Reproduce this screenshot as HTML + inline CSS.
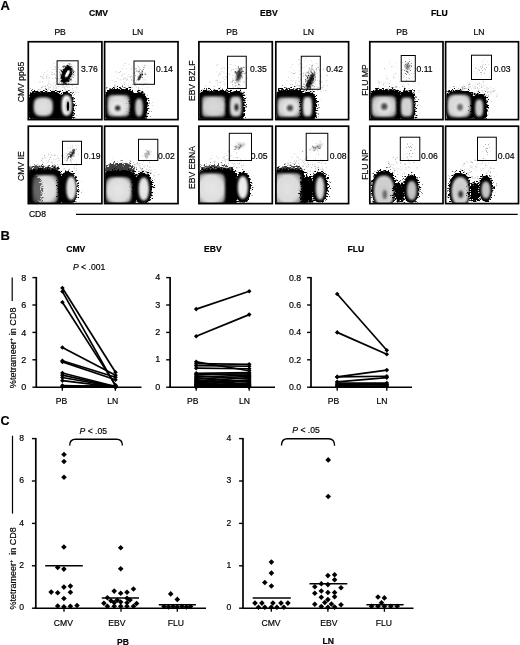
<!DOCTYPE html>
<html><head><meta charset="utf-8"><style>
html,body{margin:0;padding:0;background:#fff;}
body{width:520px;height:645px;overflow:hidden;}
svg{display:block;will-change:transform;}
text{font-family:"Liberation Sans",sans-serif;fill:#000;stroke:#000;stroke-width:0.18px;}
</style></head><body>
<svg width="520" height="645" viewBox="0 0 520 645" font-family="Liberation Sans, sans-serif">
<defs>
<filter id="sp" x="-40%" y="-40%" width="180%" height="180%" color-interpolation-filters="sRGB"><feGaussianBlur in="SourceAlpha" stdDeviation="2.4" result="b"/><feTurbulence type="fractalNoise" baseFrequency="0.5 1.2" numOctaves="2" seed="2" result="n"/><feColorMatrix in="n" type="matrix" values="0 0 0 0 0  0 0 0 0 0  0 0 0 0 0  2 0 0 0 -0.5" result="na"/><feComposite in="b" in2="na" operator="arithmetic" k1="0" k2="5" k3="-4" k4="0" result="c"/><feGaussianBlur in="c" stdDeviation="0.3" result="c2"/><feFlood flood-color="#000"/><feComposite in2="c2" operator="in"/></filter>
<filter id="cl" x="-40%" y="-40%" width="180%" height="180%" color-interpolation-filters="sRGB"><feGaussianBlur in="SourceAlpha" stdDeviation="5" result="b"/><feTurbulence type="fractalNoise" baseFrequency="0.8" numOctaves="2" seed="9" result="n"/><feColorMatrix in="n" type="matrix" values="0 0 0 0 0  0 0 0 0 0  0 0 0 0 0  2.5 0 0 0 -0.55" result="na"/><feComposite in="b" in2="na" operator="arithmetic" k1="0" k2="2.2" k3="-2.6" k4="0" result="c"/><feFlood flood-color="#555"/><feComposite in2="c" operator="in"/></filter>
<filter id="sp2" x="-40%" y="-40%" width="180%" height="180%" color-interpolation-filters="sRGB"><feGaussianBlur in="SourceAlpha" stdDeviation="1.3" result="b"/><feTurbulence type="fractalNoise" baseFrequency="0.9" numOctaves="2" seed="5" result="n"/><feColorMatrix in="n" type="matrix" values="0 0 0 0 0  0 0 0 0 0  0 0 0 0 0  2.5 0 0 0 -0.75" result="na"/><feComposite in="b" in2="na" operator="arithmetic" k1="0" k2="8" k3="-8" k4="0" result="c"/><feFlood flood-color="#000"/><feComposite in2="c" operator="in"/></filter>
<filter id="spd" x="-60%" y="-60%" width="220%" height="220%" color-interpolation-filters="sRGB"><feGaussianBlur in="SourceAlpha" stdDeviation="1.6" result="b"/><feTurbulence type="fractalNoise" baseFrequency="0.95" numOctaves="2" seed="11" result="n"/><feColorMatrix in="n" type="matrix" values="0 0 0 0 0  0 0 0 0 0  0 0 0 0 0  2.5 0 0 0 -0.75" result="na"/><feComposite in="b" in2="na" operator="arithmetic" k1="0" k2="7" k3="-8" k4="0" result="c"/><feFlood flood-color="#000"/><feComposite in2="c" operator="in"/></filter>
<filter id="spm" x="-60%" y="-60%" width="220%" height="220%" color-interpolation-filters="sRGB"><feGaussianBlur in="SourceAlpha" stdDeviation="1.8" result="b"/><feTurbulence type="fractalNoise" baseFrequency="0.95" numOctaves="2" seed="12" result="n"/><feColorMatrix in="n" type="matrix" values="0 0 0 0 0  0 0 0 0 0  0 0 0 0 0  2.5 0 0 0 -0.75" result="na"/><feComposite in="b" in2="na" operator="arithmetic" k1="0" k2="4.5" k3="-8" k4="0" result="c"/><feFlood flood-color="#000"/><feComposite in2="c" operator="in"/></filter>
<filter id="sps" x="-60%" y="-60%" width="220%" height="220%" color-interpolation-filters="sRGB"><feGaussianBlur in="SourceAlpha" stdDeviation="2.0" result="b"/><feTurbulence type="fractalNoise" baseFrequency="0.95" numOctaves="2" seed="13" result="n"/><feColorMatrix in="n" type="matrix" values="0 0 0 0 0  0 0 0 0 0  0 0 0 0 0  2.5 0 0 0 -0.75" result="na"/><feComposite in="b" in2="na" operator="arithmetic" k1="0" k2="2.8" k3="-8" k4="0" result="c"/><feFlood flood-color="#000"/><feComposite in2="c" operator="in"/></filter>
<filter id="bl1" x="-30%" y="-30%" width="160%" height="160%"><feGaussianBlur stdDeviation="0.5"/></filter>
<filter id="bl" x="-30%" y="-30%" width="160%" height="160%"><feGaussianBlur stdDeviation="0.95"/></filter>
<filter id="bl2" x="-50%" y="-50%" width="200%" height="200%"><feGaussianBlur stdDeviation="1.1"/></filter>
</defs>
<clipPath id="cCMV00"><rect x="29.1" y="42.55" width="72" height="76.25"/></clipPath>
<g clip-path="url(#cCMV00)">
<rect x="54.68" y="86.81" width="0.6" height="0.6" fill="#a8a8a8"/><rect x="49.57" y="86.48" width="0.7" height="0.7" fill="#d6d6d6"/><rect x="52.39" y="78.43" width="0.7" height="0.7" fill="#939393"/><rect x="57.84" y="77.95" width="0.9" height="0.9" fill="#c7c7c7"/><rect x="51.91" y="69.45" width="0.6" height="0.6" fill="#ababab"/><rect x="42.69" y="76.67" width="0.8" height="0.8" fill="#959595"/><rect x="50.97" y="72.51" width="0.6" height="0.6" fill="#c6c6c6"/><rect x="72.96" y="90.34" width="0.6" height="0.6" fill="#949494"/><rect x="62.88" y="76.81" width="0.7" height="0.7" fill="#b0b0b0"/><rect x="57.85" y="66.99" width="0.7" height="0.7" fill="#afafaf"/><rect x="72.05" y="87.92" width="0.8" height="0.8" fill="#c1c1c1"/><rect x="66.04" y="73.41" width="0.7" height="0.7" fill="#969696"/><rect x="42.66" y="81.76" width="0.7" height="0.7" fill="#d7d7d7"/><rect x="54.43" y="73.08" width="0.6" height="0.6" fill="#9c9c9c"/><rect x="56.09" y="88.13" width="0.9" height="0.9" fill="#d3d3d3"/><rect x="53.52" y="73.82" width="0.6" height="0.6" fill="#bfbfbf"/><rect x="44.39" y="91.54" width="0.8" height="0.8" fill="#9a9a9a"/><rect x="59.61" y="90.47" width="0.7" height="0.7" fill="#959595"/><rect x="63.02" y="66.46" width="0.8" height="0.8" fill="#b8b8b8"/><rect x="45.8" y="78.25" width="0.7" height="0.7" fill="#a8a8a8"/><rect x="45.98" y="77.53" width="0.6" height="0.6" fill="#8f8f8f"/><rect x="70.77" y="76.17" width="0.9" height="0.9" fill="#b8b8b8"/><rect x="71.58" y="83.69" width="0.6" height="0.6" fill="#bababa"/><rect x="65.07" y="89.29" width="0.9" height="0.9" fill="#a5a5a5"/><rect x="56.38" y="84.3" width="0.7" height="0.7" fill="#a0a0a0"/><rect x="62" y="75.96" width="0.8" height="0.8" fill="#c8c8c8"/><rect x="42.86" y="78.45" width="0.7" height="0.7" fill="#999999"/><rect x="55.09" y="88.15" width="0.6" height="0.6" fill="#a7a7a7"/><rect x="47.08" y="70.79" width="0.8" height="0.8" fill="#d7d7d7"/><rect x="47.41" y="74.57" width="0.9" height="0.9" fill="#b9b9b9"/><rect x="65.15" y="86.45" width="0.7" height="0.7" fill="#cccccc"/><rect x="59.4" y="77.71" width="0.7" height="0.7" fill="#c4c4c4"/><rect x="62.78" y="85.28" width="0.9" height="0.9" fill="#9e9e9e"/><rect x="63.24" y="65.61" width="0.9" height="0.9" fill="#cecece"/><rect x="60.65" y="69.45" width="0.9" height="0.9" fill="#989898"/><rect x="60.72" y="84.8" width="0.8" height="0.8" fill="#c4c4c4"/><rect x="62.95" y="77.17" width="0.9" height="0.9" fill="#afafaf"/><rect x="58.36" y="86.22" width="0.8" height="0.8" fill="#ababab"/><rect x="76.6" y="88.78" width="0.7" height="0.7" fill="#c5c5c5"/><rect x="54.33" y="73.77" width="0.9" height="0.9" fill="#aaaaaa"/><rect x="67.51" y="81.81" width="0.9" height="0.9" fill="#9d9d9d"/><rect x="45.66" y="90.58" width="0.7" height="0.7" fill="#cacaca"/><rect x="54.99" y="77.47" width="0.8" height="0.8" fill="#a5a5a5"/><rect x="50.02" y="83.66" width="0.9" height="0.9" fill="#d2d2d2"/><rect x="63.45" y="77.37" width="0.6" height="0.6" fill="#a9a9a9"/><rect x="65.74" y="90.38" width="0.9" height="0.9" fill="#d0d0d0"/><rect x="66.28" y="74.76" width="0.6" height="0.6" fill="#8e8e8e"/><rect x="60.33" y="89.8" width="0.6" height="0.6" fill="#9c9c9c"/><rect x="59.18" y="69.15" width="0.8" height="0.8" fill="#a0a0a0"/><rect x="48.76" y="77" width="0.6" height="0.6" fill="#b8b8b8"/><rect x="64.6" y="81.7" width="0.8" height="0.8" fill="#bebebe"/><rect x="66.26" y="91.47" width="0.9" height="0.9" fill="#9d9d9d"/><rect x="74.71" y="74.92" width="0.8" height="0.8" fill="#bcbcbc"/><rect x="62.35" y="82.78" width="0.7" height="0.7" fill="#a3a3a3"/><rect x="44.05" y="72.06" width="0.7" height="0.7" fill="#afafaf"/><rect x="46.92" y="85.29" width="0.7" height="0.7" fill="#979797"/><rect x="53.58" y="63.25" width="0.7" height="0.7" fill="#b2b2b2"/><rect x="62.25" y="84.93" width="0.7" height="0.7" fill="#cbcbcb"/><rect x="48.5" y="80.56" width="0.9" height="0.9" fill="#cdcdcd"/><rect x="68.29" y="86.37" width="0.6" height="0.6" fill="#cfcfcf"/><rect x="66.05" y="82.8" width="0.6" height="0.6" fill="#8f8f8f"/><rect x="41.86" y="72.82" width="0.6" height="0.6" fill="#c5c5c5"/><rect x="63.62" y="80.79" width="0.8" height="0.8" fill="#cacaca"/><rect x="68.92" y="77.09" width="0.6" height="0.6" fill="#cfcfcf"/><rect x="56.25" y="87.37" width="0.6" height="0.6" fill="#b0b0b0"/><rect x="63.15" y="81.28" width="0.8" height="0.8" fill="#9e9e9e"/><rect x="47.17" y="84.3" width="0.7" height="0.7" fill="#d4d4d4"/><rect x="47.83" y="82.16" width="0.8" height="0.8" fill="#cacaca"/><rect x="69.76" y="91.8" width="0.6" height="0.6" fill="#b3b3b3"/><rect x="56.19" y="86.6" width="0.8" height="0.8" fill="#c5c5c5"/><rect x="53.02" y="89.5" width="0.6" height="0.6" fill="#959595"/><rect x="41.83" y="86.61" width="0.8" height="0.8" fill="#9a9a9a"/><rect x="46.18" y="88.93" width="0.7" height="0.7" fill="#8f8f8f"/><rect x="55.83" y="71.06" width="0.9" height="0.9" fill="#b8b8b8"/><rect x="49.91" y="87.21" width="0.9" height="0.9" fill="#b7b7b7"/><rect x="61.92" y="72.82" width="0.6" height="0.6" fill="#afafaf"/><rect x="65.13" y="81.05" width="0.9" height="0.9" fill="#aeaeae"/><rect x="58.48" y="67.7" width="0.6" height="0.6" fill="#c2c2c2"/><rect x="69.12" y="81.33" width="0.7" height="0.7" fill="#929292"/><rect x="43.51" y="74.45" width="0.8" height="0.8" fill="#acacac"/><rect x="53.87" y="69.16" width="0.6" height="0.6" fill="#bebebe"/><rect x="45.15" y="89.18" width="0.9" height="0.9" fill="#a8a8a8"/><rect x="75.88" y="91.89" width="0.7" height="0.7" fill="#9d9d9d"/><rect x="57.92" y="79.23" width="0.7" height="0.7" fill="#cccccc"/><rect x="40.07" y="88.9" width="0.9" height="0.9" fill="#c5c5c5"/><rect x="67.22" y="88.87" width="0.9" height="0.9" fill="#d7d7d7"/><rect x="56.12" y="78.55" width="0.7" height="0.7" fill="#9c9c9c"/><rect x="55.25" y="84.92" width="0.7" height="0.7" fill="#b2b2b2"/><rect x="56.27" y="90.77" width="0.9" height="0.9" fill="#ababab"/><rect x="59.16" y="78.41" width="0.8" height="0.8" fill="#c0c0c0"/><rect x="74.93" y="81.42" width="0.9" height="0.9" fill="#a9a9a9"/><rect x="54.5" y="82.48" width="0.6" height="0.6" fill="#b1b1b1"/><rect x="45.03" y="91.1" width="0.7" height="0.7" fill="#a4a4a4"/><rect x="62.23" y="74.46" width="0.9" height="0.9" fill="#a3a3a3"/><rect x="55.78" y="83.36" width="0.6" height="0.6" fill="#9a9a9a"/><rect x="52.45" y="71.95" width="0.6" height="0.6" fill="#8c8c8c"/><rect x="41.44" y="90.93" width="0.8" height="0.8" fill="#b9b9b9"/><rect x="72.17" y="74.97" width="0.7" height="0.7" fill="#c8c8c8"/><rect x="52.4" y="89.59" width="0.9" height="0.9" fill="#bababa"/><rect x="71.72" y="85" width="0.9" height="0.9" fill="#909090"/><rect x="38.75" y="89.6" width="0.8" height="0.8" fill="#949494"/><rect x="41.84" y="76.9" width="0.7" height="0.7" fill="#b2b2b2"/><rect x="62.72" y="71.83" width="0.6" height="0.6" fill="#bababa"/><rect x="58.52" y="73.75" width="0.6" height="0.6" fill="#c0c0c0"/><rect x="64.58" y="76.45" width="0.9" height="0.9" fill="#a0a0a0"/><rect x="74.87" y="91.63" width="0.7" height="0.7" fill="#969696"/><rect x="55.67" y="69.03" width="0.6" height="0.6" fill="#aaaaaa"/><rect x="70.31" y="70.82" width="0.8" height="0.8" fill="#aeaeae"/><rect x="40.42" y="75.92" width="0.9" height="0.9" fill="#8c8c8c"/><rect x="62.42" y="86.84" width="0.8" height="0.8" fill="#959595"/><rect x="70.1" y="81.94" width="0.7" height="0.7" fill="#b8b8b8"/><rect x="37.94" y="92" width="0.6" height="0.6" fill="#a6a6a6"/><rect x="72.03" y="74.27" width="0.6" height="0.6" fill="#b3b3b3"/><rect x="44.95" y="85.86" width="0.9" height="0.9" fill="#949494"/><rect x="60.21" y="81.18" width="0.9" height="0.9" fill="#a0a0a0"/><rect x="66.6" y="74.29" width="0.9" height="0.9" fill="#b3b3b3"/><rect x="60.93" y="72.72" width="0.7" height="0.7" fill="#bababa"/><rect x="55.1" y="66.7" width="0.9" height="0.9" fill="#979797"/><rect x="42.27" y="86.19" width="0.8" height="0.8" fill="#d5d5d5"/><rect x="49.27" y="87.12" width="0.8" height="0.8" fill="#c9c9c9"/><rect x="43.05" y="85.57" width="0.7" height="0.7" fill="#bfbfbf"/><rect x="52.88" y="65.69" width="0.6" height="0.6" fill="#a4a4a4"/><rect x="65.39" y="71.73" width="0.8" height="0.8" fill="#c6c6c6"/><rect x="64.56" y="71.25" width="0.8" height="0.8" fill="#bdbdbd"/><rect x="55.66" y="75.15" width="0.9" height="0.9" fill="#cacaca"/><rect x="52.63" y="90.53" width="0.6" height="0.6" fill="#949494"/><rect x="44.52" y="91.45" width="0.7" height="0.7" fill="#a1a1a1"/><rect x="48.1" y="86.47" width="0.9" height="0.9" fill="#cccccc"/><rect x="43.42" y="85.55" width="0.6" height="0.6" fill="#cfcfcf"/><rect x="53.35" y="85.93" width="0.7" height="0.7" fill="#bbbbbb"/><rect x="51.85" y="84.94" width="0.6" height="0.6" fill="#a2a2a2"/><rect x="49.04" y="77.48" width="0.8" height="0.8" fill="#d6d6d6"/><rect x="68.25" y="84.41" width="0.9" height="0.9" fill="#b1b1b1"/><rect x="54.38" y="72.92" width="0.7" height="0.7" fill="#cacaca"/><rect x="62.95" y="63.37" width="0.8" height="0.8" fill="#d4d4d4"/><rect x="49.36" y="77.69" width="0.8" height="0.8" fill="#c0c0c0"/><rect x="64.08" y="88.14" width="0.8" height="0.8" fill="#bfbfbf"/><rect x="72.12" y="88.78" width="0.9" height="0.9" fill="#d6d6d6"/><rect x="62.48" y="77.53" width="0.6" height="0.6" fill="#a1a1a1"/><rect x="53.86" y="69.13" width="0.6" height="0.6" fill="#999999"/><rect x="62.96" y="81.7" width="0.7" height="0.7" fill="#c0c0c0"/><rect x="58.8" y="81.28" width="0.7" height="0.7" fill="#c1c1c1"/><rect x="57.03" y="78.15" width="0.9" height="0.9" fill="#c3c3c3"/><rect x="39.54" y="81.67" width="0.8" height="0.8" fill="#999999"/><rect x="50.76" y="84.49" width="0.6" height="0.6" fill="#adadad"/><rect x="47.7" y="78.61" width="0.8" height="0.8" fill="#cecece"/><rect x="75.81" y="87.25" width="0.8" height="0.8" fill="#a0a0a0"/><rect x="52.7" y="87.56" width="0.9" height="0.9" fill="#d0d0d0"/><rect x="56.77" y="77.92" width="0.9" height="0.9" fill="#8f8f8f"/><rect x="74.93" y="85.68" width="0.6" height="0.6" fill="#d6d6d6"/><rect x="60.87" y="67.15" width="0.6" height="0.6" fill="#9a9a9a"/><rect x="42.09" y="81.31" width="0.6" height="0.6" fill="#949494"/><rect x="63.9" y="86.75" width="0.9" height="0.9" fill="#b0b0b0"/><rect x="48.43" y="83.47" width="0.9" height="0.9" fill="#b5b5b5"/><rect x="73.46" y="80.55" width="0.6" height="0.6" fill="#c0c0c0"/><rect x="55.2" y="85.19" width="0.7" height="0.7" fill="#929292"/><rect x="67.43" y="86.83" width="0.7" height="0.7" fill="#b0b0b0"/><rect x="55.19" y="77.71" width="0.6" height="0.6" fill="#929292"/><rect x="72.31" y="91.01" width="0.8" height="0.8" fill="#cdcdcd"/><rect x="57.57" y="91.73" width="0.8" height="0.8" fill="#999999"/><rect x="51.65" y="74.04" width="0.9" height="0.9" fill="#979797"/><rect x="46.28" y="75.83" width="0.8" height="0.8" fill="#909090"/><rect x="55.81" y="78.61" width="0.9" height="0.9" fill="#c7c7c7"/><rect x="66.32" y="69.72" width="0.9" height="0.9" fill="#b6b6b6"/><rect x="64.28" y="82.9" width="0.8" height="0.8" fill="#aeaeae"/><rect x="69.21" y="86.8" width="0.7" height="0.7" fill="#9f9f9f"/><rect x="67.82" y="80.09" width="0.8" height="0.8" fill="#aaaaaa"/><rect x="78.02" y="91.85" width="0.7" height="0.7" fill="#999999"/><rect x="52.91" y="91.51" width="0.9" height="0.9" fill="#b2b2b2"/><rect x="48.36" y="88.56" width="0.9" height="0.9" fill="#8d8d8d"/><rect x="73.59" y="75.1" width="0.9" height="0.9" fill="#b1b1b1"/><rect x="46.66" y="87.59" width="0.9" height="0.9" fill="#d7d7d7"/><rect x="53.61" y="83.38" width="0.9" height="0.9" fill="#c2c2c2"/><rect x="56.03" y="80.65" width="0.8" height="0.8" fill="#a3a3a3"/><rect x="67.56" y="77.37" width="0.8" height="0.8" fill="#bbbbbb"/><rect x="54.06" y="90.44" width="0.9" height="0.9" fill="#a3a3a3"/>
<path d="M63 106.5 L62.94 113.36 L62.76 115.53 L62.45 117.06 L62.02 118.25 L61.45 119.21 L60.73 119.99 L59.85 120.63 L58.76 121.13 L57.42 121.52 L55.69 121.79 L53.25 121.95 L45.5 122 L37.75 121.95 L35.31 121.79 L33.58 121.52 L32.24 121.13 L31.15 120.63 L30.27 119.99 L29.55 119.21 L28.98 118.25 L28.55 117.06 L28.24 115.53 L28.06 113.36 L28 106.5 L28.06 99.64 L28.24 97.47 L28.55 95.94 L28.98 94.75 L29.55 93.79 L30.27 93.01 L31.15 92.37 L32.24 91.87 L33.58 91.48 L35.31 91.21 L37.75 91.05 L45.5 91 L53.25 91.05 L55.69 91.21 L57.42 91.48 L58.76 91.87 L59.85 92.37 L60.73 93.01 L61.45 93.79 L62.02 94.75 L62.45 95.94 L62.76 97.47 L62.94 99.64Z" fill="#000" filter="url(#sp)"/>
<path d="M62 107.1 L61.94 113.7 L61.77 115.78 L61.49 117.25 L61.08 118.39 L60.54 119.32 L59.86 120.07 L59.03 120.68 L58 121.17 L56.74 121.54 L55.11 121.79 L52.81 121.95 L45.5 122 L38.19 121.95 L35.89 121.79 L34.26 121.54 L33 121.17 L31.97 120.68 L31.14 120.07 L30.46 119.32 L29.92 118.39 L29.51 117.25 L29.23 115.78 L29.06 113.7 L29 107.1 L29.06 100.5 L29.23 98.42 L29.51 96.95 L29.92 95.81 L30.46 94.88 L31.14 94.13 L31.97 93.52 L33 93.03 L34.26 92.66 L35.89 92.41 L38.19 92.25 L45.5 92.2 L52.81 92.25 L55.11 92.41 L56.74 92.66 L58 93.03 L59.03 93.52 L59.86 94.13 L60.54 94.88 L61.08 95.81 L61.49 96.95 L61.77 98.42 L61.94 100.5Z" fill="#000" filter="url(#bl1)"/>
<radialGradient id="g16"><stop offset="0" stop-color="#e2e2e2"/><stop offset=".9" stop-color="#d6d6d6"/><stop offset="1" stop-color="#aaa"/></radialGradient>
<path d="M52.9 106.7 L52.85 109.36 L52.69 110.78 L52.43 111.91 L52.07 112.86 L51.6 113.67 L51.02 114.35 L50.33 114.92 L49.51 115.38 L48.54 115.74 L47.4 116 L45.95 116.15 L43.25 116.2 L40.55 116.15 L39.1 116 L37.96 115.74 L36.99 115.38 L36.17 114.92 L35.48 114.35 L34.9 113.67 L34.43 112.86 L34.07 111.91 L33.81 110.78 L33.65 109.36 L33.6 106.7 L33.65 104.04 L33.81 102.62 L34.07 101.49 L34.43 100.54 L34.9 99.73 L35.48 99.05 L36.17 98.48 L36.99 98.02 L37.96 97.66 L39.1 97.4 L40.55 97.25 L43.25 97.2 L45.95 97.25 L47.4 97.4 L48.54 97.66 L49.51 98.02 L50.33 98.48 L51.02 99.05 L51.6 99.73 L52.07 100.54 L52.43 101.49 L52.69 102.62 L52.85 104.04Z" fill="url(#g16)" filter="url(#bl)"/>
<path d="M74.2 106.75 L74.15 109.93 L74.01 112.14 L73.77 114.03 L73.43 115.7 L73 117.16 L72.48 118.43 L71.87 119.51 L71.16 120.4 L70.36 121.1 L69.45 121.6 L68.38 121.9 L66.85 122 L65.32 121.9 L64.25 121.6 L63.34 121.1 L62.54 120.4 L61.83 119.51 L61.22 118.43 L60.7 117.16 L60.27 115.7 L59.93 114.03 L59.69 112.14 L59.55 109.93 L59.5 106.75 L59.55 103.57 L59.69 101.36 L59.93 99.47 L60.27 97.8 L60.7 96.34 L61.22 95.07 L61.83 93.99 L62.54 93.1 L63.34 92.4 L64.25 91.9 L65.32 91.6 L66.85 91.5 L68.38 91.6 L69.45 91.9 L70.36 92.4 L71.16 93.1 L71.87 93.99 L72.48 95.07 L73 96.34 L73.43 97.8 L73.77 99.47 L74.01 101.36 L74.15 103.57Z" fill="#000" filter="url(#sp)"/>
<path d="M73.2 107.35 L73.16 110.41 L73.03 112.53 L72.82 114.35 L72.53 115.95 L72.16 117.35 L71.71 118.57 L71.18 119.61 L70.58 120.47 L69.88 121.13 L69.1 121.61 L68.18 121.9 L66.85 122 L65.52 121.9 L64.6 121.61 L63.82 121.13 L63.12 120.47 L62.52 119.61 L61.99 118.57 L61.54 117.35 L61.17 115.95 L60.88 114.35 L60.67 112.53 L60.54 110.41 L60.5 107.35 L60.54 104.29 L60.67 102.17 L60.88 100.35 L61.17 98.75 L61.54 97.35 L61.99 96.13 L62.52 95.09 L63.12 94.23 L63.82 93.57 L64.6 93.09 L65.52 92.8 L66.85 92.7 L68.18 92.8 L69.1 93.09 L69.88 93.57 L70.58 94.23 L71.18 95.09 L71.71 96.13 L72.16 97.35 L72.53 98.75 L72.82 100.35 L73.03 102.17 L73.16 104.29Z" fill="#000" filter="url(#bl1)"/>
<radialGradient id="g20"><stop offset="0" stop-color="#fafafa"/><stop offset=".9" stop-color="#fafafa"/><stop offset="1" stop-color="#aaa"/></radialGradient>
<path d="M71.6 105.35 L71.57 107.53 L71.47 109.04 L71.3 110.34 L71.08 111.48 L70.78 112.48 L70.43 113.35 L70.01 114.1 L69.53 114.71 L68.99 115.18 L68.37 115.53 L67.64 115.73 L66.6 115.8 L65.56 115.73 L64.83 115.53 L64.21 115.18 L63.67 114.71 L63.19 114.1 L62.77 113.35 L62.42 112.48 L62.12 111.48 L61.9 110.34 L61.73 109.04 L61.63 107.53 L61.6 105.35 L61.63 103.17 L61.73 101.66 L61.9 100.36 L62.12 99.22 L62.42 98.22 L62.77 97.35 L63.19 96.6 L63.67 95.99 L64.21 95.52 L64.83 95.17 L65.56 94.97 L66.6 94.9 L67.64 94.97 L68.37 95.17 L68.99 95.52 L69.53 95.99 L70.01 96.6 L70.43 97.35 L70.78 98.22 L71.08 99.22 L71.3 100.36 L71.47 101.66 L71.57 103.17Z" fill="url(#g20)" filter="url(#bl)"/>
<ellipse cx="67.95" cy="106.2" rx="2.95" ry="7.3" fill="#bdbdbd" filter="url(#bl)"/>
<ellipse cx="67.95" cy="106.2" rx="1.15" ry="4.8" fill="#000" filter="url(#bl1)"/>
</g>
<ellipse cx="66" cy="75" rx="7" ry="11" transform="rotate(15 66 75)" fill="#000" filter="url(#spm)" opacity="0.5"/>
<ellipse cx="66.6" cy="74.2" rx="5.4" ry="9.6" transform="rotate(18 66.6 74.2)" fill="#000" filter="url(#sp2)"/>
<ellipse cx="66.6" cy="74.2" rx="4.4" ry="8.6" transform="rotate(18 66.6 74.2)" fill="#000" filter="url(#bl1)"/>
<ellipse cx="67.4" cy="73.8" rx="1.5" ry="4" transform="rotate(28 67.4 73.8)" fill="#fff" filter="url(#bl1)"/>
<rect x="28.3" y="41.75" width="73.6" height="77.85" fill="none" stroke="#000" stroke-width="1.7"/>
<rect x="57.1" y="60.8" width="21" height="23.5" fill="none" stroke="#000" stroke-width="1"/>
<text x="81" y="71.9" font-size="8.6">3.76</text>
<clipPath id="cCMV10"><rect x="105.4" y="42.55" width="71.8" height="76.25"/></clipPath>
<g clip-path="url(#cCMV10)">
<rect x="129.58" y="89.85" width="0.6" height="0.6" fill="#b9b9b9"/><rect x="118.6" y="72.22" width="0.9" height="0.9" fill="#959595"/><rect x="114.91" y="89.74" width="0.9" height="0.9" fill="#a4a4a4"/><rect x="134.97" y="83.06" width="0.8" height="0.8" fill="#9e9e9e"/><rect x="135.97" y="86.58" width="0.9" height="0.9" fill="#c0c0c0"/><rect x="135.28" y="84.96" width="0.8" height="0.8" fill="#a9a9a9"/><rect x="121.45" y="75.52" width="0.8" height="0.8" fill="#969696"/><rect x="122.5" y="78.64" width="0.6" height="0.6" fill="#a6a6a6"/><rect x="135.55" y="68" width="0.7" height="0.7" fill="#9e9e9e"/><rect x="134.74" y="69.51" width="0.6" height="0.6" fill="#a7a7a7"/><rect x="131.31" y="68.46" width="0.9" height="0.9" fill="#9d9d9d"/><rect x="130.66" y="87.61" width="0.9" height="0.9" fill="#b5b5b5"/><rect x="137.23" y="75.92" width="0.8" height="0.8" fill="#c7c7c7"/><rect x="125.88" y="92" width="0.8" height="0.8" fill="#a3a3a3"/><rect x="121.88" y="91.41" width="0.7" height="0.7" fill="#cacaca"/><rect x="122.22" y="87.57" width="0.7" height="0.7" fill="#c8c8c8"/><rect x="119.93" y="70.94" width="0.8" height="0.8" fill="#929292"/><rect x="120.3" y="86.49" width="0.8" height="0.8" fill="#cccccc"/><rect x="128.67" y="63.77" width="0.7" height="0.7" fill="#b2b2b2"/><rect x="132.63" y="80.31" width="0.9" height="0.9" fill="#919191"/><rect x="138.35" y="88.34" width="0.9" height="0.9" fill="#929292"/><rect x="115.98" y="89.49" width="0.9" height="0.9" fill="#939393"/><rect x="133.9" y="80.06" width="0.7" height="0.7" fill="#969696"/><rect x="132.29" y="89.24" width="0.6" height="0.6" fill="#cecece"/><rect x="142.64" y="84.76" width="0.9" height="0.9" fill="#bfbfbf"/><rect x="114.52" y="84.64" width="0.9" height="0.9" fill="#969696"/><rect x="111.7" y="87.83" width="0.8" height="0.8" fill="#8e8e8e"/><rect x="134.4" y="82.7" width="0.6" height="0.6" fill="#acacac"/><rect x="121.06" y="83.34" width="0.6" height="0.6" fill="#cacaca"/><rect x="121.28" y="90.36" width="0.7" height="0.7" fill="#c8c8c8"/><rect x="114.09" y="85.52" width="0.9" height="0.9" fill="#a0a0a0"/><rect x="128.03" y="84.9" width="0.8" height="0.8" fill="#aeaeae"/><rect x="142.91" y="79.24" width="0.7" height="0.7" fill="#c2c2c2"/><rect x="123.82" y="81.91" width="0.9" height="0.9" fill="#a9a9a9"/><rect x="142.27" y="88.4" width="0.7" height="0.7" fill="#9e9e9e"/><rect x="119.5" y="87.24" width="0.8" height="0.8" fill="#cbcbcb"/><rect x="130.45" y="77.28" width="0.7" height="0.7" fill="#bcbcbc"/><rect x="124.17" y="77.3" width="0.6" height="0.6" fill="#b9b9b9"/><rect x="132.75" y="66.05" width="0.8" height="0.8" fill="#a3a3a3"/><rect x="123.24" y="78.06" width="0.7" height="0.7" fill="#cecece"/><rect x="118.34" y="89.52" width="0.8" height="0.8" fill="#999999"/><rect x="134.58" y="85.2" width="0.8" height="0.8" fill="#8f8f8f"/><rect x="119.78" y="79.43" width="0.9" height="0.9" fill="#a6a6a6"/><rect x="126.77" y="78.98" width="0.8" height="0.8" fill="#9c9c9c"/><rect x="146.73" y="82.6" width="0.7" height="0.7" fill="#b4b4b4"/><rect x="134.91" y="90.61" width="0.7" height="0.7" fill="#bebebe"/><rect x="122.78" y="88.89" width="0.8" height="0.8" fill="#929292"/><rect x="141.03" y="82.71" width="0.6" height="0.6" fill="#c9c9c9"/><rect x="139.43" y="78.87" width="0.9" height="0.9" fill="#999999"/><rect x="121.6" y="68.22" width="0.9" height="0.9" fill="#c9c9c9"/><rect x="114.01" y="81.68" width="0.6" height="0.6" fill="#a4a4a4"/><rect x="114.59" y="86.65" width="0.7" height="0.7" fill="#bbbbbb"/><rect x="111.16" y="91.11" width="0.9" height="0.9" fill="#a9a9a9"/><rect x="145.35" y="74.05" width="0.9" height="0.9" fill="#c1c1c1"/><rect x="127.16" y="75.44" width="0.6" height="0.6" fill="#cdcdcd"/><rect x="131.52" y="86.73" width="0.8" height="0.8" fill="#a5a5a5"/><rect x="126.15" y="68.37" width="0.6" height="0.6" fill="#aaaaaa"/><rect x="124.39" y="73.3" width="0.7" height="0.7" fill="#b1b1b1"/><rect x="141.89" y="70.91" width="0.8" height="0.8" fill="#8c8c8c"/><rect x="117.17" y="78.28" width="0.7" height="0.7" fill="#a3a3a3"/><rect x="137.89" y="66.29" width="0.9" height="0.9" fill="#979797"/><rect x="136.14" y="80.11" width="0.7" height="0.7" fill="#b3b3b3"/><rect x="129.82" y="86.91" width="0.8" height="0.8" fill="#cecece"/><rect x="122.08" y="86.94" width="0.6" height="0.6" fill="#cbcbcb"/><rect x="115.81" y="86.61" width="0.8" height="0.8" fill="#a0a0a0"/><rect x="132.15" y="87.46" width="0.6" height="0.6" fill="#c5c5c5"/><rect x="124.02" y="84.04" width="0.9" height="0.9" fill="#999999"/><rect x="111.72" y="79.81" width="0.8" height="0.8" fill="#b3b3b3"/><rect x="131.33" y="90.57" width="0.8" height="0.8" fill="#a4a4a4"/><rect x="132.21" y="76.73" width="0.8" height="0.8" fill="#999999"/><rect x="144.52" y="82.95" width="0.9" height="0.9" fill="#9b9b9b"/><rect x="128.73" y="76.02" width="0.6" height="0.6" fill="#9b9b9b"/><rect x="132.06" y="83.89" width="0.9" height="0.9" fill="#8e8e8e"/><rect x="137.14" y="79.11" width="0.9" height="0.9" fill="#909090"/><rect x="138.05" y="86.98" width="0.9" height="0.9" fill="#b5b5b5"/><rect x="129.73" y="90.65" width="0.9" height="0.9" fill="#ababab"/><rect x="117.47" y="73.46" width="0.6" height="0.6" fill="#c6c6c6"/><rect x="129.58" y="68.59" width="0.7" height="0.7" fill="#d0d0d0"/><rect x="138.91" y="83.69" width="0.7" height="0.7" fill="#c6c6c6"/><rect x="127.36" y="77.54" width="0.8" height="0.8" fill="#c8c8c8"/><rect x="124.65" y="89.57" width="0.8" height="0.8" fill="#aaaaaa"/><rect x="131.38" y="75.73" width="0.8" height="0.8" fill="#a7a7a7"/><rect x="131.15" y="79.39" width="0.9" height="0.9" fill="#939393"/><rect x="129.88" y="91.66" width="0.9" height="0.9" fill="#9f9f9f"/><rect x="133.88" y="87.2" width="0.6" height="0.6" fill="#cecece"/><rect x="139.03" y="83.78" width="0.8" height="0.8" fill="#c8c8c8"/><rect x="113.35" y="87.87" width="0.6" height="0.6" fill="#d2d2d2"/><rect x="128.91" y="90.81" width="0.8" height="0.8" fill="#c1c1c1"/><rect x="144.66" y="79.43" width="0.9" height="0.9" fill="#c5c5c5"/><rect x="120.1" y="71.28" width="0.9" height="0.9" fill="#cfcfcf"/><rect x="139.32" y="91.67" width="0.7" height="0.7" fill="#b2b2b2"/><rect x="130.55" y="85.69" width="0.7" height="0.7" fill="#bcbcbc"/><rect x="111.69" y="89.45" width="0.8" height="0.8" fill="#ababab"/><rect x="129.73" y="76.55" width="0.9" height="0.9" fill="#bdbdbd"/><rect x="123.02" y="79.03" width="0.6" height="0.6" fill="#8d8d8d"/><rect x="124.84" y="77.96" width="0.9" height="0.9" fill="#a4a4a4"/><rect x="128.44" y="74.09" width="0.8" height="0.8" fill="#d7d7d7"/><rect x="137.05" y="83.89" width="0.8" height="0.8" fill="#bababa"/><rect x="115.37" y="80.99" width="0.9" height="0.9" fill="#b7b7b7"/><rect x="116.73" y="88.58" width="0.6" height="0.6" fill="#939393"/><rect x="122.83" y="91.8" width="0.9" height="0.9" fill="#919191"/><rect x="124.7" y="63.15" width="0.7" height="0.7" fill="#8f8f8f"/><rect x="115.36" y="84.61" width="0.7" height="0.7" fill="#d0d0d0"/><rect x="132.13" y="73.16" width="0.6" height="0.6" fill="#a0a0a0"/><rect x="135.3" y="81.91" width="0.7" height="0.7" fill="#9e9e9e"/><rect x="122.86" y="65.42" width="0.6" height="0.6" fill="#989898"/><rect x="122.65" y="74.39" width="0.7" height="0.7" fill="#929292"/><rect x="126.46" y="79.85" width="0.7" height="0.7" fill="#919191"/><rect x="147.09" y="87.35" width="0.8" height="0.8" fill="#c6c6c6"/><rect x="136.45" y="81.6" width="0.8" height="0.8" fill="#c0c0c0"/><rect x="124.74" y="82.78" width="0.6" height="0.6" fill="#ababab"/><rect x="115.29" y="71.47" width="0.9" height="0.9" fill="#b1b1b1"/>
<path d="M135 105.25 L134.95 112.67 L134.79 115 L134.52 116.66 L134.13 117.94 L133.63 118.98 L132.99 119.83 L132.21 120.52 L131.25 121.06 L130.06 121.48 L128.53 121.77 L126.36 121.94 L119.5 122 L112.64 121.94 L110.47 121.77 L108.94 121.48 L107.75 121.06 L106.79 120.52 L106.01 119.83 L105.37 118.98 L104.87 117.94 L104.48 116.66 L104.21 115 L104.05 112.67 L104 105.25 L104.05 97.83 L104.21 95.5 L104.48 93.84 L104.87 92.56 L105.37 91.52 L106.01 90.67 L106.79 89.98 L107.75 89.44 L108.94 89.02 L110.47 88.73 L112.64 88.56 L119.5 88.5 L126.36 88.56 L128.53 88.73 L130.06 89.02 L131.25 89.44 L132.21 89.98 L132.99 90.67 L133.63 91.52 L134.13 92.56 L134.52 93.84 L134.79 95.5 L134.95 97.83Z" fill="#000" filter="url(#sp)"/>
<path d="M134 105.85 L133.95 113 L133.8 115.26 L133.55 116.85 L133.19 118.09 L132.72 119.09 L132.12 119.91 L131.39 120.57 L130.49 121.1 L129.37 121.5 L127.94 121.78 L125.92 121.94 L119.5 122 L113.08 121.94 L111.06 121.78 L109.63 121.5 L108.51 121.1 L107.61 120.57 L106.88 119.91 L106.28 119.09 L105.81 118.09 L105.45 116.85 L105.2 115.26 L105.05 113 L105 105.85 L105.05 98.7 L105.2 96.44 L105.45 94.85 L105.81 93.61 L106.28 92.61 L106.88 91.79 L107.61 91.13 L108.51 90.6 L109.63 90.2 L111.06 89.92 L113.08 89.76 L119.5 89.7 L125.92 89.76 L127.94 89.92 L129.37 90.2 L130.49 90.6 L131.39 91.13 L132.12 91.79 L132.72 92.61 L133.19 93.61 L133.55 94.85 L133.8 96.44 L133.95 98.7Z" fill="#000" filter="url(#bl1)"/>
<radialGradient id="g37"><stop offset="0" stop-color="#e4e4e4"/><stop offset=".9" stop-color="#dadada"/><stop offset="1" stop-color="#aaa"/></radialGradient>
<path d="M129.6 105.75 L129.56 110.56 L129.45 112.07 L129.25 113.14 L128.98 113.97 L128.62 114.65 L128.16 115.2 L127.6 115.64 L126.91 115.99 L126.06 116.26 L124.96 116.45 L123.42 116.56 L118.5 116.6 L113.58 116.56 L112.04 116.45 L110.94 116.26 L110.09 115.99 L109.4 115.64 L108.84 115.2 L108.38 114.65 L108.02 113.97 L107.75 113.14 L107.55 112.07 L107.44 110.56 L107.4 105.75 L107.44 100.94 L107.55 99.43 L107.75 98.36 L108.02 97.53 L108.38 96.85 L108.84 96.3 L109.4 95.86 L110.09 95.51 L110.94 95.24 L112.04 95.05 L113.58 94.94 L118.5 94.9 L123.42 94.94 L124.96 95.05 L126.06 95.24 L126.91 95.51 L127.6 95.86 L128.16 96.3 L128.62 96.85 L128.98 97.53 L129.25 98.36 L129.45 99.43 L129.56 100.94Z" fill="url(#g37)" filter="url(#bl)"/>
<ellipse cx="117.75" cy="108" rx="5.2" ry="5.2" fill="none" stroke="#f2f2f2" stroke-width="1.3" filter="url(#bl)"/>
<ellipse cx="117.75" cy="108" rx="2.6" ry="2.6" fill="#222" filter="url(#bl2)"/>
<path d="M148 106.75 L147.94 109.93 L147.77 112.14 L147.48 114.03 L147.08 115.7 L146.57 117.16 L145.95 118.43 L145.22 119.51 L144.38 120.4 L143.43 121.1 L142.34 121.6 L141.08 121.9 L139.25 122 L137.42 121.9 L136.16 121.6 L135.07 121.1 L134.12 120.4 L133.28 119.51 L132.55 118.43 L131.93 117.16 L131.42 115.7 L131.02 114.03 L130.73 112.14 L130.56 109.93 L130.5 106.75 L130.56 103.57 L130.73 101.36 L131.02 99.47 L131.42 97.8 L131.93 96.34 L132.55 95.07 L133.28 93.99 L134.12 93.1 L135.07 92.4 L136.16 91.9 L137.42 91.6 L139.25 91.5 L141.08 91.6 L142.34 91.9 L143.43 92.4 L144.38 93.1 L145.22 93.99 L145.95 95.07 L146.57 96.34 L147.08 97.8 L147.48 99.47 L147.77 101.36 L147.94 103.57Z" fill="#000" filter="url(#sp)"/>
<path d="M147 107.35 L146.95 110.41 L146.8 112.53 L146.54 114.35 L146.19 115.95 L145.74 117.35 L145.19 118.57 L144.54 119.61 L143.8 120.47 L142.95 121.13 L141.99 121.61 L140.87 121.9 L139.25 122 L137.63 121.9 L136.51 121.61 L135.55 121.13 L134.7 120.47 L133.96 119.61 L133.31 118.57 L132.76 117.35 L132.31 115.95 L131.96 114.35 L131.7 112.53 L131.55 110.41 L131.5 107.35 L131.55 104.29 L131.7 102.17 L131.96 100.35 L132.31 98.75 L132.76 97.35 L133.31 96.13 L133.96 95.09 L134.7 94.23 L135.55 93.57 L136.51 93.09 L137.63 92.8 L139.25 92.7 L140.87 92.8 L141.99 93.09 L142.95 93.57 L143.8 94.23 L144.54 95.09 L145.19 96.13 L145.74 97.35 L146.19 98.75 L146.54 100.35 L146.8 102.17 L146.95 104.29Z" fill="#000" filter="url(#bl1)"/>
<radialGradient id="g43"><stop offset="0" stop-color="#d0d0d0"/><stop offset=".9" stop-color="#c4c4c4"/><stop offset="1" stop-color="#aaa"/></radialGradient>
<path d="M142.9 107.5 L142.87 109.4 L142.8 110.72 L142.67 111.85 L142.5 112.84 L142.27 113.71 L142 114.47 L141.68 115.12 L141.31 115.65 L140.89 116.06 L140.41 116.36 L139.85 116.54 L139.05 116.6 L138.25 116.54 L137.69 116.36 L137.21 116.06 L136.79 115.65 L136.42 115.12 L136.1 114.47 L135.83 113.71 L135.6 112.84 L135.43 111.85 L135.3 110.72 L135.23 109.4 L135.2 107.5 L135.23 105.6 L135.3 104.28 L135.43 103.15 L135.6 102.16 L135.83 101.29 L136.1 100.53 L136.42 99.88 L136.79 99.35 L137.21 98.94 L137.69 98.64 L138.25 98.46 L139.05 98.4 L139.85 98.46 L140.41 98.64 L140.89 98.94 L141.31 99.35 L141.68 99.88 L142 100.53 L142.27 101.29 L142.5 102.16 L142.67 103.15 L142.8 104.28 L142.87 105.6Z" fill="url(#g43)" filter="url(#bl)"/>
</g>
<ellipse cx="140" cy="74" rx="4" ry="9" transform="rotate(20 140 74)" fill="#000" filter="url(#sps)" opacity="0.6"/>
<ellipse cx="139.8" cy="76.5" rx="2.5" ry="5.5" transform="rotate(25 139.8 76.5)" fill="#000" filter="url(#spm)" opacity="0.8"/>
<ellipse cx="139.6" cy="77.5" rx="1.2" ry="3.2" transform="rotate(25 139.6 77.5)" fill="#222" filter="url(#bl1)"/>
<rect x="104.6" y="41.75" width="73.4" height="77.85" fill="none" stroke="#000" stroke-width="1.7"/>
<rect x="134" y="61" width="20.5" height="23.3" fill="none" stroke="#000" stroke-width="1"/>
<text x="156" y="71.9" font-size="8.6">0.14</text>
<clipPath id="cCMV01"><rect x="29.1" y="127" width="72" height="75.8"/></clipPath>
<g clip-path="url(#cCMV01)">
<rect x="49.28" y="158.87" width="0.9" height="0.9" fill="#9b9b9b"/><rect x="71.29" y="157.73" width="0.9" height="0.9" fill="#a4a4a4"/><rect x="44.18" y="155.22" width="0.8" height="0.8" fill="#8f8f8f"/><rect x="42.01" y="158.09" width="0.9" height="0.9" fill="#bfbfbf"/><rect x="61.47" y="162.78" width="0.7" height="0.7" fill="#c8c8c8"/><rect x="41.36" y="159.96" width="0.9" height="0.9" fill="#adadad"/><rect x="59.38" y="158.1" width="0.7" height="0.7" fill="#cdcdcd"/><rect x="65.91" y="153.19" width="0.7" height="0.7" fill="#979797"/><rect x="68.81" y="155.09" width="0.6" height="0.6" fill="#999999"/><rect x="58.1" y="157.95" width="0.7" height="0.7" fill="#b2b2b2"/><rect x="65.83" y="156.21" width="0.7" height="0.7" fill="#c7c7c7"/><rect x="48.33" y="167.59" width="0.6" height="0.6" fill="#c0c0c0"/><rect x="62.95" y="165.38" width="0.8" height="0.8" fill="#bfbfbf"/><rect x="40.96" y="164.9" width="0.9" height="0.9" fill="#a0a0a0"/><rect x="58.51" y="165.77" width="0.8" height="0.8" fill="#c3c3c3"/><rect x="47.45" y="170.89" width="0.9" height="0.9" fill="#b7b7b7"/><rect x="55.43" y="164.88" width="0.7" height="0.7" fill="#cdcdcd"/><rect x="71.26" y="162.3" width="0.7" height="0.7" fill="#a0a0a0"/><rect x="57.2" y="155.49" width="0.8" height="0.8" fill="#b9b9b9"/><rect x="50.58" y="154.43" width="0.9" height="0.9" fill="#9d9d9d"/><rect x="63.52" y="155.23" width="0.9" height="0.9" fill="#cdcdcd"/><rect x="42.04" y="163.85" width="0.7" height="0.7" fill="#c2c2c2"/><rect x="71.97" y="158.93" width="0.6" height="0.6" fill="#b1b1b1"/><rect x="48.02" y="154.54" width="0.8" height="0.8" fill="#afafaf"/><rect x="39.86" y="165.44" width="0.7" height="0.7" fill="#9a9a9a"/><rect x="46.22" y="160.31" width="0.6" height="0.6" fill="#a1a1a1"/><rect x="54.42" y="167.25" width="0.6" height="0.6" fill="#b9b9b9"/><rect x="62.63" y="155.53" width="0.6" height="0.6" fill="#9d9d9d"/><rect x="56.27" y="169.7" width="0.8" height="0.8" fill="#999999"/><rect x="67.12" y="157.19" width="0.8" height="0.8" fill="#b9b9b9"/><rect x="75.99" y="168.43" width="0.6" height="0.6" fill="#939393"/><rect x="60.13" y="163.78" width="0.7" height="0.7" fill="#a9a9a9"/><rect x="36.92" y="164.01" width="0.9" height="0.9" fill="#919191"/><rect x="53.97" y="154.8" width="0.9" height="0.9" fill="#909090"/><rect x="66.24" y="158.33" width="0.8" height="0.8" fill="#d4d4d4"/><rect x="58.38" y="160.31" width="0.9" height="0.9" fill="#cecece"/><rect x="51.42" y="161.76" width="0.9" height="0.9" fill="#9f9f9f"/><rect x="54.04" y="164.24" width="0.6" height="0.6" fill="#b7b7b7"/><rect x="66.99" y="165.21" width="0.8" height="0.8" fill="#d6d6d6"/><rect x="57.74" y="170.75" width="0.9" height="0.9" fill="#aaaaaa"/><rect x="49.82" y="152.51" width="0.6" height="0.6" fill="#a5a5a5"/><rect x="41.06" y="168.42" width="0.8" height="0.8" fill="#a4a4a4"/><rect x="57.06" y="165.33" width="0.6" height="0.6" fill="#d7d7d7"/><rect x="71.93" y="170.86" width="0.6" height="0.6" fill="#cdcdcd"/><rect x="53" y="165.09" width="0.9" height="0.9" fill="#a4a4a4"/><rect x="41.85" y="158.19" width="0.9" height="0.9" fill="#a7a7a7"/><rect x="45" y="165.56" width="0.7" height="0.7" fill="#979797"/><rect x="58.15" y="170.19" width="0.8" height="0.8" fill="#a1a1a1"/><rect x="64.03" y="168.16" width="0.8" height="0.8" fill="#bbbbbb"/><rect x="76.27" y="164.85" width="0.9" height="0.9" fill="#a4a4a4"/><rect x="69.56" y="160.74" width="0.7" height="0.7" fill="#adadad"/><rect x="63.48" y="168.4" width="0.8" height="0.8" fill="#acacac"/><rect x="73.65" y="167.61" width="0.9" height="0.9" fill="#a3a3a3"/><rect x="55.85" y="157.94" width="0.7" height="0.7" fill="#b3b3b3"/><rect x="48.05" y="160.29" width="0.8" height="0.8" fill="#bdbdbd"/><rect x="45.72" y="157.38" width="0.6" height="0.6" fill="#a9a9a9"/><rect x="42.44" y="169.28" width="0.7" height="0.7" fill="#9e9e9e"/><rect x="43.1" y="162.52" width="0.6" height="0.6" fill="#9d9d9d"/><rect x="75.75" y="169.86" width="0.9" height="0.9" fill="#a5a5a5"/><rect x="61.66" y="163.96" width="0.7" height="0.7" fill="#b0b0b0"/><rect x="45.2" y="166.79" width="0.7" height="0.7" fill="#cdcdcd"/><rect x="47.52" y="162.12" width="0.8" height="0.8" fill="#939393"/><rect x="63.59" y="169.44" width="0.8" height="0.8" fill="#cccccc"/><rect x="74.44" y="164.77" width="0.8" height="0.8" fill="#bebebe"/><rect x="76.47" y="162.91" width="0.8" height="0.8" fill="#b3b3b3"/><rect x="47.02" y="170.27" width="0.7" height="0.7" fill="#969696"/><rect x="45.21" y="157.78" width="0.6" height="0.6" fill="#c2c2c2"/><rect x="61.32" y="155.21" width="0.9" height="0.9" fill="#929292"/><rect x="52.4" y="169.64" width="0.6" height="0.6" fill="#cccccc"/><rect x="61.99" y="170.3" width="0.6" height="0.6" fill="#b5b5b5"/><rect x="54.72" y="163.15" width="0.6" height="0.6" fill="#c7c7c7"/><rect x="62.7" y="156.9" width="0.7" height="0.7" fill="#b6b6b6"/><rect x="37.13" y="166.88" width="0.9" height="0.9" fill="#bababa"/><rect x="37.67" y="171.59" width="0.8" height="0.8" fill="#a9a9a9"/><rect x="70.67" y="160.51" width="0.9" height="0.9" fill="#b3b3b3"/><rect x="57.97" y="157.95" width="0.7" height="0.7" fill="#afafaf"/><rect x="42.65" y="162.28" width="0.7" height="0.7" fill="#bababa"/><rect x="48.28" y="153.28" width="0.6" height="0.6" fill="#a0a0a0"/><rect x="47.54" y="165.61" width="0.7" height="0.7" fill="#cbcbcb"/><rect x="35.39" y="166.13" width="0.8" height="0.8" fill="#bfbfbf"/><rect x="51.69" y="155.09" width="0.8" height="0.8" fill="#c2c2c2"/><rect x="44.92" y="171.87" width="0.7" height="0.7" fill="#d4d4d4"/><rect x="53.87" y="170.55" width="0.8" height="0.8" fill="#9d9d9d"/><rect x="44.13" y="157.29" width="0.7" height="0.7" fill="#ababab"/><rect x="69.11" y="168.73" width="0.9" height="0.9" fill="#919191"/><rect x="35.58" y="171.44" width="0.7" height="0.7" fill="#b2b2b2"/><rect x="53.22" y="158.74" width="0.8" height="0.8" fill="#bebebe"/><rect x="41.73" y="167.43" width="0.7" height="0.7" fill="#909090"/><rect x="55.24" y="155.1" width="0.6" height="0.6" fill="#999999"/><rect x="32.42" y="169.67" width="0.6" height="0.6" fill="#9a9a9a"/><rect x="57.02" y="163.93" width="0.8" height="0.8" fill="#9a9a9a"/><rect x="71.98" y="171.06" width="0.7" height="0.7" fill="#a7a7a7"/><rect x="66.57" y="156.01" width="0.8" height="0.8" fill="#adadad"/><rect x="55.44" y="158.98" width="0.8" height="0.8" fill="#bababa"/><rect x="62.66" y="161.97" width="0.8" height="0.8" fill="#c0c0c0"/><rect x="49.96" y="157" width="0.9" height="0.9" fill="#9f9f9f"/>
<path d="M61 186.5 L60.94 195.58 L60.76 198.44 L60.45 200.46 L60.02 202.04 L59.45 203.31 L58.73 204.35 L57.85 205.19 L56.76 205.85 L55.42 206.36 L53.69 206.72 L51.25 206.93 L43.5 207 L35.75 206.93 L33.31 206.72 L31.58 206.36 L30.24 205.85 L29.15 205.19 L28.27 204.35 L27.55 203.31 L26.98 202.04 L26.55 200.46 L26.24 198.44 L26.06 195.58 L26 186.5 L26.06 177.42 L26.24 174.56 L26.55 172.54 L26.98 170.96 L27.55 169.69 L28.27 168.65 L29.15 167.81 L30.24 167.15 L31.58 166.64 L33.31 166.28 L35.75 166.07 L43.5 166 L51.25 166.07 L53.69 166.28 L55.42 166.64 L56.76 167.15 L57.85 167.81 L58.73 168.65 L59.45 169.69 L60.02 170.96 L60.45 172.54 L60.76 174.56 L60.94 177.42Z" fill="#000" filter="url(#sp)" opacity="0.7"/>
<path d="M63 188 L62.93 196.41 L62.73 199.07 L62.39 200.94 L61.91 202.4 L61.28 203.58 L60.48 204.54 L59.49 205.32 L58.28 205.94 L56.78 206.41 L54.86 206.74 L52.14 206.93 L43.5 207 L34.86 206.93 L32.14 206.74 L30.22 206.41 L28.72 205.94 L27.51 205.32 L26.52 204.54 L25.72 203.58 L25.09 202.4 L24.61 200.94 L24.27 199.07 L24.07 196.41 L24 188 L24.07 179.59 L24.27 176.93 L24.61 175.06 L25.09 173.6 L25.72 172.42 L26.52 171.46 L27.51 170.68 L28.72 170.06 L30.22 169.59 L32.14 169.26 L34.86 169.07 L43.5 169 L52.14 169.07 L54.86 169.26 L56.78 169.59 L58.28 170.06 L59.49 170.68 L60.48 171.46 L61.28 172.42 L61.91 173.6 L62.39 175.06 L62.73 176.93 L62.93 179.59Z" fill="#000" filter="url(#sp)"/>
<path d="M62 188.6 L61.94 196.75 L61.75 199.32 L61.42 201.13 L60.97 202.54 L60.36 203.69 L59.61 204.62 L58.67 205.37 L57.52 205.97 L56.1 206.43 L54.27 206.75 L51.69 206.94 L43.5 207 L35.31 206.94 L32.73 206.75 L30.9 206.43 L29.48 205.97 L28.33 205.37 L27.39 204.62 L26.64 203.69 L26.03 202.54 L25.58 201.13 L25.25 199.32 L25.06 196.75 L25 188.6 L25.06 180.45 L25.25 177.88 L25.58 176.07 L26.03 174.66 L26.64 173.51 L27.39 172.58 L28.33 171.83 L29.48 171.23 L30.9 170.77 L32.73 170.45 L35.31 170.26 L43.5 170.2 L51.69 170.26 L54.27 170.45 L56.1 170.77 L57.52 171.23 L58.67 171.83 L59.61 172.58 L60.36 173.51 L60.97 174.66 L61.42 176.07 L61.75 177.88 L61.94 180.45Z" fill="#000" filter="url(#bl1)"/>
<radialGradient id="g58"><stop offset="0" stop-color="#e6e6e6"/><stop offset=".9" stop-color="#dcdcdc"/><stop offset="1" stop-color="#aaa"/></radialGradient>
<path d="M57.6 189.25 L57.56 195.61 L57.43 197.61 L57.21 199.02 L56.9 200.13 L56.49 201.02 L55.97 201.74 L55.33 202.33 L54.55 202.8 L53.58 203.15 L52.34 203.4 L50.58 203.55 L45 203.6 L39.42 203.55 L37.66 203.4 L36.42 203.15 L35.45 202.8 L34.67 202.33 L34.03 201.74 L33.51 201.02 L33.1 200.13 L32.79 199.02 L32.57 197.61 L32.44 195.61 L32.4 189.25 L32.44 182.89 L32.57 180.89 L32.79 179.48 L33.1 178.37 L33.51 177.48 L34.03 176.76 L34.67 176.17 L35.45 175.7 L36.42 175.35 L37.66 175.1 L39.42 174.95 L45 174.9 L50.58 174.95 L52.34 175.1 L53.58 175.35 L54.55 175.7 L55.33 176.17 L55.97 176.76 L56.49 177.48 L56.9 178.37 L57.21 179.48 L57.43 180.89 L57.56 182.89Z" fill="url(#g58)" filter="url(#bl)"/>
<path d="M42 191 L41.95 195.12 L41.79 197.5 L41.54 199.43 L41.18 201.08 L40.71 202.49 L40.14 203.7 L39.46 204.71 L38.67 205.54 L37.74 206.18 L36.66 206.63 L35.32 206.91 L33 207 L30.68 206.91 L29.34 206.63 L28.26 206.18 L27.33 205.54 L26.54 204.71 L25.86 203.7 L25.29 202.49 L24.82 201.08 L24.46 199.43 L24.21 197.5 L24.05 195.12 L24 191 L24.05 186.88 L24.21 184.5 L24.46 182.57 L24.82 180.92 L25.29 179.51 L25.86 178.3 L26.54 177.29 L27.33 176.46 L28.26 175.82 L29.34 175.37 L30.68 175.09 L33 175 L35.32 175.09 L36.66 175.37 L37.74 175.82 L38.67 176.46 L39.46 177.29 L40.14 178.3 L40.71 179.51 L41.18 180.92 L41.54 182.57 L41.79 184.5 L41.95 186.88Z" fill="#000" filter="url(#sp)" opacity="0.55"/>
<path d="M77.75 188.5 L77.67 191.25 L77.44 193.62 L77.06 195.81 L76.54 197.82 L75.88 199.65 L75.08 201.27 L74.16 202.68 L73.13 203.85 L72 204.78 L70.76 205.46 L69.43 205.86 L67.88 206 L66.32 205.86 L64.99 205.46 L63.75 204.78 L62.62 203.85 L61.59 202.68 L60.67 201.27 L59.87 199.65 L59.21 197.82 L58.69 195.81 L58.31 193.62 L58.08 191.25 L58 188.5 L58.08 185.75 L58.31 183.38 L58.69 181.19 L59.21 179.18 L59.87 177.35 L60.67 175.73 L61.59 174.32 L62.62 173.15 L63.75 172.22 L64.99 171.54 L66.32 171.14 L67.87 171 L69.43 171.14 L70.76 171.54 L72 172.22 L73.13 173.15 L74.16 174.32 L75.08 175.73 L75.88 177.35 L76.54 179.18 L77.06 181.19 L77.44 183.38 L77.67 185.75Z" fill="#000" filter="url(#sp)"/>
<path d="M76.75 189.1 L76.68 191.75 L76.47 194.05 L76.13 196.16 L75.66 198.1 L75.07 199.86 L74.35 201.43 L73.53 202.79 L72.6 203.93 L71.58 204.83 L70.47 205.48 L69.27 205.87 L67.88 206 L66.48 205.87 L65.28 205.48 L64.17 204.83 L63.15 203.93 L62.22 202.79 L61.4 201.43 L60.68 199.86 L60.09 198.1 L59.62 196.16 L59.28 194.05 L59.07 191.75 L59 189.1 L59.07 186.45 L59.28 184.15 L59.62 182.04 L60.09 180.1 L60.68 178.34 L61.4 176.77 L62.22 175.41 L63.15 174.27 L64.17 173.37 L65.28 172.72 L66.48 172.33 L67.87 172.2 L69.27 172.33 L70.47 172.72 L71.58 173.37 L72.6 174.27 L73.53 175.41 L74.35 176.77 L75.07 178.34 L75.66 180.1 L76.13 182.04 L76.47 184.15 L76.68 186.45Z" fill="#000" filter="url(#bl1)"/>
<radialGradient id="g63"><stop offset="0" stop-color="#e6e6e6"/><stop offset=".9" stop-color="#e6e6e6"/><stop offset="1" stop-color="#aaa"/></radialGradient>
<path d="M76.1 188.25 L76.06 190.11 L75.95 191.72 L75.76 193.2 L75.49 194.56 L75.16 195.8 L74.76 196.9 L74.3 197.85 L73.79 198.65 L73.22 199.28 L72.6 199.73 L71.93 200.01 L71.15 200.1 L70.37 200.01 L69.7 199.73 L69.08 199.28 L68.51 198.65 L68 197.85 L67.54 196.9 L67.14 195.8 L66.81 194.56 L66.54 193.2 L66.35 191.72 L66.24 190.11 L66.2 188.25 L66.24 186.39 L66.35 184.78 L66.54 183.3 L66.81 181.94 L67.14 180.7 L67.54 179.6 L68 178.65 L68.51 177.85 L69.08 177.22 L69.7 176.77 L70.37 176.49 L71.15 176.4 L71.93 176.49 L72.6 176.77 L73.22 177.22 L73.79 177.85 L74.3 178.65 L74.76 179.6 L75.16 180.7 L75.49 181.94 L75.76 183.3 L75.95 184.78 L76.06 186.39Z" fill="url(#g63)" filter="url(#bl)"/>
</g>
<ellipse cx="71.5" cy="154" rx="4" ry="8" transform="rotate(28 71.5 154)" fill="#000" filter="url(#sps)" opacity="0.45"/>
<ellipse cx="72" cy="154" rx="2" ry="6.5" transform="rotate(28 72 154)" fill="#000" filter="url(#spm)" opacity="0.8"/>
<ellipse cx="72.5" cy="153.5" rx="1.1" ry="4.5" transform="rotate(28 72.5 153.5)" fill="#222" filter="url(#bl1)"/>
<rect x="28.3" y="126.2" width="73.6" height="77.4" fill="none" stroke="#000" stroke-width="1.7"/>
<rect x="62.5" y="141.25" width="19" height="23.25" fill="none" stroke="#000" stroke-width="1"/>
<text x="83.75" y="158.9" font-size="8.6">0.19</text>
<clipPath id="cCMV11"><rect x="105.4" y="127" width="71.8" height="75.8"/></clipPath>
<g clip-path="url(#cCMV11)">
<rect x="154.5" y="169.43" width="0.8" height="0.8" fill="#cccccc"/><rect x="150.58" y="169.94" width="0.6" height="0.6" fill="#909090"/><rect x="127.91" y="168.05" width="0.8" height="0.8" fill="#c4c4c4"/><rect x="130.6" y="168.4" width="0.8" height="0.8" fill="#c8c8c8"/><rect x="137.98" y="175.91" width="0.8" height="0.8" fill="#bcbcbc"/><rect x="144.46" y="165.08" width="0.6" height="0.6" fill="#b5b5b5"/><rect x="139.96" y="167.78" width="0.8" height="0.8" fill="#adadad"/><rect x="134.19" y="166.58" width="0.6" height="0.6" fill="#9e9e9e"/><rect x="134.48" y="172.64" width="0.7" height="0.7" fill="#a2a2a2"/><rect x="150.93" y="172.72" width="0.8" height="0.8" fill="#9f9f9f"/><rect x="115.42" y="167.31" width="0.8" height="0.8" fill="#9c9c9c"/><rect x="132.39" y="169.88" width="0.8" height="0.8" fill="#cecece"/><rect x="137.89" y="163.52" width="0.8" height="0.8" fill="#b5b5b5"/><rect x="119.06" y="173.01" width="0.6" height="0.6" fill="#cbcbcb"/><rect x="139.36" y="164.69" width="0.9" height="0.9" fill="#c4c4c4"/><rect x="125.83" y="170.83" width="0.9" height="0.9" fill="#c0c0c0"/><rect x="141" y="172.59" width="0.7" height="0.7" fill="#bdbdbd"/><rect x="141.94" y="163.93" width="0.9" height="0.9" fill="#c5c5c5"/><rect x="140.72" y="172.25" width="0.9" height="0.9" fill="#d4d4d4"/><rect x="113.31" y="171.55" width="0.7" height="0.7" fill="#a9a9a9"/><rect x="135.91" y="171.85" width="0.6" height="0.6" fill="#9b9b9b"/><rect x="150.11" y="173.69" width="0.7" height="0.7" fill="#b6b6b6"/><rect x="120.83" y="162.72" width="0.8" height="0.8" fill="#acacac"/><rect x="136.01" y="167.2" width="0.8" height="0.8" fill="#929292"/><rect x="122.44" y="173.6" width="0.8" height="0.8" fill="#d1d1d1"/><rect x="141.22" y="174.78" width="0.7" height="0.7" fill="#d6d6d6"/><rect x="125.75" y="172.43" width="0.6" height="0.6" fill="#d3d3d3"/><rect x="129.71" y="161.61" width="0.9" height="0.9" fill="#d7d7d7"/><rect x="127.92" y="171.1" width="0.6" height="0.6" fill="#a6a6a6"/><rect x="115.73" y="173.45" width="0.6" height="0.6" fill="#9d9d9d"/><rect x="149.97" y="166.95" width="0.7" height="0.7" fill="#d3d3d3"/><rect x="132.9" y="170.13" width="0.7" height="0.7" fill="#b1b1b1"/><rect x="144.63" y="167.29" width="0.6" height="0.6" fill="#a5a5a5"/><rect x="143.04" y="160.79" width="0.6" height="0.6" fill="#9d9d9d"/><rect x="144.85" y="163.57" width="0.7" height="0.7" fill="#d2d2d2"/><rect x="129.21" y="170.22" width="0.6" height="0.6" fill="#b9b9b9"/><rect x="137.25" y="163.4" width="0.6" height="0.6" fill="#989898"/><rect x="124.59" y="175" width="0.7" height="0.7" fill="#929292"/><rect x="123.99" y="166.09" width="0.7" height="0.7" fill="#bababa"/><rect x="127.24" y="158.65" width="0.6" height="0.6" fill="#d6d6d6"/><rect x="128.3" y="170.54" width="0.6" height="0.6" fill="#b9b9b9"/><rect x="126.23" y="169.94" width="0.6" height="0.6" fill="#a1a1a1"/><rect x="123.91" y="173.16" width="0.8" height="0.8" fill="#c9c9c9"/><rect x="132.79" y="167.65" width="0.7" height="0.7" fill="#c7c7c7"/><rect x="125.81" y="161.56" width="0.7" height="0.7" fill="#a6a6a6"/><rect x="148.75" y="170.63" width="0.6" height="0.6" fill="#a9a9a9"/><rect x="110.55" y="168.41" width="0.6" height="0.6" fill="#cdcdcd"/><rect x="143.05" y="170.75" width="0.9" height="0.9" fill="#8c8c8c"/><rect x="109.38" y="173.6" width="0.9" height="0.9" fill="#bababa"/><rect x="110.99" y="170.91" width="0.9" height="0.9" fill="#a0a0a0"/><rect x="142.33" y="171.42" width="0.6" height="0.6" fill="#b2b2b2"/><rect x="146.23" y="172.98" width="0.7" height="0.7" fill="#d7d7d7"/><rect x="129.51" y="172.85" width="0.8" height="0.8" fill="#cdcdcd"/><rect x="146.39" y="168.68" width="0.6" height="0.6" fill="#9a9a9a"/><rect x="116.69" y="166.24" width="0.6" height="0.6" fill="#cbcbcb"/><rect x="127.17" y="172.11" width="0.9" height="0.9" fill="#b7b7b7"/><rect x="151.16" y="172.27" width="0.6" height="0.6" fill="#cacaca"/><rect x="128.18" y="163.39" width="0.7" height="0.7" fill="#d1d1d1"/><rect x="126.28" y="174.14" width="0.7" height="0.7" fill="#b6b6b6"/><rect x="138.95" y="174.09" width="0.8" height="0.8" fill="#cbcbcb"/><rect x="115.47" y="175.01" width="0.8" height="0.8" fill="#acacac"/><rect x="142.52" y="175.72" width="0.9" height="0.9" fill="#cdcdcd"/><rect x="113.29" y="171.56" width="0.6" height="0.6" fill="#c1c1c1"/><rect x="133.77" y="163.96" width="0.8" height="0.8" fill="#b1b1b1"/><rect x="122.49" y="170.77" width="0.6" height="0.6" fill="#cecece"/><rect x="151.08" y="170.3" width="0.8" height="0.8" fill="#c5c5c5"/><rect x="146.56" y="174.04" width="0.6" height="0.6" fill="#c6c6c6"/><rect x="116.13" y="174.52" width="0.7" height="0.7" fill="#bebebe"/><rect x="146.36" y="169.55" width="0.8" height="0.8" fill="#aaaaaa"/><rect x="135.6" y="165.34" width="0.9" height="0.9" fill="#bcbcbc"/><rect x="150.6" y="172.29" width="0.7" height="0.7" fill="#9d9d9d"/><rect x="133.86" y="173.79" width="0.7" height="0.7" fill="#cecece"/><rect x="142.8" y="174.34" width="0.8" height="0.8" fill="#bdbdbd"/><rect x="122.71" y="174.99" width="0.9" height="0.9" fill="#b5b5b5"/><rect x="127.77" y="170.27" width="0.9" height="0.9" fill="#b4b4b4"/><rect x="148.84" y="166.51" width="0.9" height="0.9" fill="#c5c5c5"/><rect x="140.4" y="172.02" width="0.8" height="0.8" fill="#9f9f9f"/><rect x="146.88" y="166.46" width="0.6" height="0.6" fill="#c0c0c0"/><rect x="120.03" y="171.88" width="0.8" height="0.8" fill="#d4d4d4"/><rect x="125.1" y="174.92" width="0.6" height="0.6" fill="#ababab"/><rect x="138.55" y="172.91" width="0.8" height="0.8" fill="#9a9a9a"/><rect x="145.04" y="171.36" width="0.9" height="0.9" fill="#bfbfbf"/><rect x="127.6" y="167" width="0.7" height="0.7" fill="#a3a3a3"/><rect x="134.72" y="167.38" width="0.7" height="0.7" fill="#b0b0b0"/><rect x="136.99" y="162.24" width="0.8" height="0.8" fill="#a7a7a7"/><rect x="144.45" y="171.89" width="0.8" height="0.8" fill="#cdcdcd"/><rect x="138.81" y="174.27" width="0.6" height="0.6" fill="#bababa"/><rect x="125.42" y="170.59" width="0.7" height="0.7" fill="#b5b5b5"/><rect x="135.97" y="172.53" width="0.6" height="0.6" fill="#c7c7c7"/><rect x="121.21" y="175.53" width="0.7" height="0.7" fill="#8f8f8f"/><rect x="133.25" y="165.63" width="0.6" height="0.6" fill="#afafaf"/><rect x="137.59" y="165.2" width="0.9" height="0.9" fill="#d7d7d7"/><rect x="149.43" y="175.3" width="0.6" height="0.6" fill="#acacac"/><rect x="140.66" y="168.36" width="0.7" height="0.7" fill="#c6c6c6"/><rect x="133.88" y="165.9" width="0.8" height="0.8" fill="#a5a5a5"/><rect x="122" y="172.15" width="0.6" height="0.6" fill="#8e8e8e"/><rect x="140.64" y="171.45" width="0.8" height="0.8" fill="#d3d3d3"/><rect x="139.89" y="168.18" width="0.8" height="0.8" fill="#b9b9b9"/><rect x="125.65" y="173.92" width="0.8" height="0.8" fill="#969696"/><rect x="136.42" y="167.14" width="0.6" height="0.6" fill="#acacac"/><rect x="121.03" y="172.67" width="0.7" height="0.7" fill="#bdbdbd"/><rect x="149.84" y="173.14" width="0.6" height="0.6" fill="#8d8d8d"/><rect x="117.56" y="168.54" width="0.6" height="0.6" fill="#8d8d8d"/><rect x="139.73" y="173.94" width="0.6" height="0.6" fill="#a6a6a6"/><rect x="119.14" y="174.3" width="0.6" height="0.6" fill="#999999"/><rect x="137.93" y="160.27" width="0.9" height="0.9" fill="#c6c6c6"/><rect x="126.61" y="170.6" width="0.6" height="0.6" fill="#a9a9a9"/><rect x="127.18" y="172.18" width="0.7" height="0.7" fill="#909090"/><rect x="118.98" y="174.75" width="0.9" height="0.9" fill="#919191"/><rect x="120.2" y="160.76" width="0.6" height="0.6" fill="#999999"/><rect x="116.09" y="172.53" width="0.8" height="0.8" fill="#cdcdcd"/><rect x="133.13" y="169.16" width="0.6" height="0.6" fill="#d0d0d0"/><rect x="144.12" y="169.91" width="0.9" height="0.9" fill="#c6c6c6"/><rect x="142.22" y="168.08" width="0.9" height="0.9" fill="#a3a3a3"/><rect x="142.27" y="175.7" width="0.8" height="0.8" fill="#979797"/><rect x="153.59" y="175.71" width="0.8" height="0.8" fill="#afafaf"/><rect x="137.12" y="164.03" width="0.6" height="0.6" fill="#969696"/><rect x="146.96" y="171.54" width="0.6" height="0.6" fill="#8e8e8e"/><rect x="142.77" y="173.3" width="0.7" height="0.7" fill="#939393"/><rect x="139.41" y="163.28" width="0.8" height="0.8" fill="#9d9d9d"/><rect x="148.54" y="173.23" width="0.6" height="0.6" fill="#bcbcbc"/><rect x="139.64" y="171.56" width="0.8" height="0.8" fill="#b5b5b5"/><rect x="135.04" y="164.13" width="0.8" height="0.8" fill="#b9b9b9"/><rect x="118.89" y="164.17" width="0.6" height="0.6" fill="#a0a0a0"/><rect x="130.73" y="161.81" width="0.7" height="0.7" fill="#d0d0d0"/><rect x="121.52" y="174.32" width="0.9" height="0.9" fill="#adadad"/><rect x="144.65" y="175.81" width="0.7" height="0.7" fill="#c4c4c4"/><rect x="143.29" y="171.43" width="0.8" height="0.8" fill="#ababab"/><rect x="143.32" y="161.77" width="0.7" height="0.7" fill="#d7d7d7"/><rect x="141.43" y="168.76" width="0.6" height="0.6" fill="#b2b2b2"/><rect x="132.66" y="175.45" width="0.9" height="0.9" fill="#afafaf"/><rect x="130.03" y="171.11" width="0.8" height="0.8" fill="#c6c6c6"/><rect x="117.28" y="164.31" width="0.7" height="0.7" fill="#8d8d8d"/><rect x="148.25" y="169.91" width="0.7" height="0.7" fill="#adadad"/><rect x="125.19" y="167.76" width="0.8" height="0.8" fill="#bbbbbb"/><rect x="153.11" y="174.37" width="0.6" height="0.6" fill="#bcbcbc"/><rect x="126.75" y="164.58" width="0.8" height="0.8" fill="#c8c8c8"/><rect x="141.84" y="173.06" width="0.9" height="0.9" fill="#8f8f8f"/><rect x="112.36" y="166.63" width="0.9" height="0.9" fill="#a9a9a9"/><rect x="129.77" y="160.13" width="0.9" height="0.9" fill="#bababa"/><rect x="131.34" y="174.86" width="0.7" height="0.7" fill="#959595"/><rect x="133.57" y="163.69" width="0.8" height="0.8" fill="#c9c9c9"/><rect x="131.3" y="175.03" width="0.6" height="0.6" fill="#9c9c9c"/><rect x="149.56" y="169.36" width="0.8" height="0.8" fill="#afafaf"/><rect x="119.9" y="167.17" width="0.6" height="0.6" fill="#cdcdcd"/><rect x="140.75" y="170.36" width="0.9" height="0.9" fill="#a9a9a9"/><rect x="126.92" y="173.97" width="0.8" height="0.8" fill="#919191"/><rect x="141.45" y="169.71" width="0.9" height="0.9" fill="#8e8e8e"/><rect x="129.71" y="160.53" width="0.7" height="0.7" fill="#b4b4b4"/><rect x="132.57" y="175.85" width="0.7" height="0.7" fill="#a7a7a7"/><rect x="118.22" y="175.3" width="0.7" height="0.7" fill="#c0c0c0"/><rect x="124.53" y="170.04" width="0.7" height="0.7" fill="#bbbbbb"/><rect x="118.88" y="173.07" width="0.9" height="0.9" fill="#adadad"/><rect x="131.65" y="167.86" width="0.7" height="0.7" fill="#adadad"/><rect x="136.35" y="162.93" width="0.7" height="0.7" fill="#9d9d9d"/><rect x="137.4" y="173.96" width="0.9" height="0.9" fill="#a9a9a9"/><rect x="115.05" y="168.54" width="0.8" height="0.8" fill="#c0c0c0"/><rect x="108.79" y="174.47" width="0.8" height="0.8" fill="#8e8e8e"/><rect x="109.81" y="171.56" width="0.9" height="0.9" fill="#9d9d9d"/><rect x="122.21" y="169.94" width="0.6" height="0.6" fill="#d6d6d6"/><rect x="130.1" y="166.99" width="0.7" height="0.7" fill="#bbbbbb"/><rect x="129.54" y="168.66" width="0.7" height="0.7" fill="#bcbcbc"/><rect x="128.25" y="175.21" width="0.6" height="0.6" fill="#959595"/><rect x="139.71" y="166.49" width="0.9" height="0.9" fill="#8d8d8d"/><rect x="131.67" y="170.2" width="0.9" height="0.9" fill="#a3a3a3"/><rect x="129.25" y="175.24" width="0.9" height="0.9" fill="#c0c0c0"/><rect x="157.93" y="174.2" width="0.9" height="0.9" fill="#bababa"/><rect x="141.82" y="171.8" width="0.7" height="0.7" fill="#a8a8a8"/><rect x="133.53" y="173.92" width="0.9" height="0.9" fill="#959595"/><rect x="137.45" y="174.96" width="0.8" height="0.8" fill="#b9b9b9"/><rect x="144.04" y="165.87" width="0.6" height="0.6" fill="#c9c9c9"/><rect x="142.53" y="172.06" width="0.8" height="0.8" fill="#9a9a9a"/><rect x="144.06" y="175.39" width="0.8" height="0.8" fill="#b2b2b2"/><rect x="130.57" y="169.99" width="0.7" height="0.7" fill="#919191"/><rect x="154.63" y="172.14" width="0.6" height="0.6" fill="#8f8f8f"/><rect x="116.71" y="166.46" width="0.8" height="0.8" fill="#b8b8b8"/><rect x="123.98" y="174.69" width="0.6" height="0.6" fill="#adadad"/><rect x="128.83" y="163.31" width="0.6" height="0.6" fill="#b3b3b3"/><rect x="149.42" y="172.24" width="0.9" height="0.9" fill="#979797"/><rect x="136.51" y="160.49" width="0.7" height="0.7" fill="#d6d6d6"/><rect x="111.83" y="169.41" width="0.9" height="0.9" fill="#adadad"/><rect x="134.18" y="163.97" width="0.6" height="0.6" fill="#a9a9a9"/><rect x="147.65" y="172.89" width="0.9" height="0.9" fill="#b3b3b3"/><rect x="123.03" y="170.98" width="0.6" height="0.6" fill="#b4b4b4"/><rect x="121.85" y="163.85" width="0.7" height="0.7" fill="#a2a2a2"/><rect x="130.93" y="161.56" width="0.8" height="0.8" fill="#cccccc"/><rect x="143.03" y="166.58" width="0.6" height="0.6" fill="#959595"/><rect x="141.58" y="169.23" width="0.8" height="0.8" fill="#949494"/><rect x="149.39" y="167.24" width="0.9" height="0.9" fill="#c9c9c9"/><rect x="158.98" y="174.37" width="0.6" height="0.6" fill="#c7c7c7"/><rect x="146.54" y="171.87" width="0.7" height="0.7" fill="#969696"/><rect x="147.31" y="165.66" width="0.7" height="0.7" fill="#9b9b9b"/><rect x="130.74" y="167.93" width="0.9" height="0.9" fill="#bdbdbd"/><rect x="146.97" y="165.08" width="0.7" height="0.7" fill="#9c9c9c"/><rect x="133.7" y="172.44" width="0.9" height="0.9" fill="#cdcdcd"/><rect x="108.03" y="175.96" width="0.8" height="0.8" fill="#b4b4b4"/><rect x="139.36" y="165.1" width="0.6" height="0.6" fill="#a9a9a9"/><rect x="140.33" y="173.97" width="0.6" height="0.6" fill="#ababab"/><rect x="146.76" y="172.63" width="0.9" height="0.9" fill="#b5b5b5"/><rect x="129.6" y="163.53" width="0.6" height="0.6" fill="#b7b7b7"/><rect x="124.65" y="173.19" width="0.6" height="0.6" fill="#9d9d9d"/><rect x="130.94" y="171.48" width="0.8" height="0.8" fill="#b7b7b7"/><rect x="149.01" y="162.09" width="0.9" height="0.9" fill="#949494"/><rect x="131.41" y="174.19" width="0.8" height="0.8" fill="#b3b3b3"/><rect x="128.49" y="173.85" width="0.7" height="0.7" fill="#a6a6a6"/><rect x="129.35" y="170.91" width="0.7" height="0.7" fill="#979797"/><rect x="134.28" y="172.77" width="0.6" height="0.6" fill="#b9b9b9"/><rect x="116.09" y="167.84" width="0.9" height="0.9" fill="#9e9e9e"/>
<path d="M136 185 L135.93 192.95 L135.72 196.19 L135.36 198.61 L134.85 200.56 L134.2 202.17 L133.37 203.5 L132.37 204.6 L131.17 205.47 L129.71 206.15 L127.89 206.62 L125.46 206.91 L119.5 207 L113.54 206.91 L111.11 206.62 L109.29 206.15 L107.83 205.47 L106.63 204.6 L105.63 203.5 L104.8 202.17 L104.15 200.56 L103.64 198.61 L103.28 196.19 L103.07 192.95 L103 185 L103.07 177.05 L103.28 173.81 L103.64 171.39 L104.15 169.44 L104.8 167.83 L105.63 166.5 L106.63 165.4 L107.83 164.53 L109.29 163.85 L111.11 163.38 L113.54 163.09 L119.5 163 L125.46 163.09 L127.89 163.38 L129.71 163.85 L131.17 164.53 L132.37 165.4 L133.37 166.5 L134.2 167.83 L134.85 169.44 L135.36 171.39 L135.72 173.81 L135.93 177.05Z" fill="#000" filter="url(#sp)" opacity="0.75"/>
<path d="M138 188.5 L137.92 195.18 L137.68 197.91 L137.28 199.94 L136.72 201.58 L135.98 202.93 L135.06 204.06 L133.93 204.98 L132.58 205.72 L130.94 206.28 L128.91 206.68 L126.18 206.92 L119.5 207 L112.82 206.92 L110.09 206.68 L108.06 206.28 L106.42 205.72 L105.07 204.98 L103.94 204.06 L103.02 202.93 L102.28 201.58 L101.72 199.94 L101.32 197.91 L101.08 195.18 L101 188.5 L101.08 181.82 L101.32 179.09 L101.72 177.06 L102.28 175.42 L103.02 174.07 L103.94 172.94 L105.07 172.02 L106.42 171.28 L108.06 170.72 L110.09 170.32 L112.82 170.08 L119.5 170 L126.18 170.08 L128.91 170.32 L130.94 170.72 L132.58 171.28 L133.93 172.02 L135.06 172.94 L135.98 174.07 L136.72 175.42 L137.28 177.06 L137.68 179.09 L137.92 181.82Z" fill="#000" filter="url(#sp)"/>
<path d="M137 189.1 L136.92 195.57 L136.7 198.21 L136.32 200.17 L135.79 201.76 L135.09 203.07 L134.22 204.15 L133.15 205.04 L131.87 205.76 L130.33 206.31 L128.4 206.69 L125.82 206.92 L119.5 207 L113.18 206.92 L110.6 206.69 L108.67 206.31 L107.13 205.76 L105.85 205.04 L104.78 204.15 L103.91 203.07 L103.21 201.76 L102.68 200.17 L102.3 198.21 L102.08 195.57 L102 189.1 L102.08 182.63 L102.3 179.99 L102.68 178.03 L103.21 176.44 L103.91 175.13 L104.78 174.05 L105.85 173.16 L107.13 172.44 L108.67 171.89 L110.6 171.51 L113.18 171.28 L119.5 171.2 L125.82 171.28 L128.4 171.51 L130.33 171.89 L131.87 172.44 L133.15 173.16 L134.22 174.05 L135.09 175.13 L135.79 176.44 L136.32 178.03 L136.7 179.99 L136.92 182.63Z" fill="#000" filter="url(#bl1)"/>
<radialGradient id="g78"><stop offset="0" stop-color="#e6e6e6"/><stop offset=".9" stop-color="#dcdcdc"/><stop offset="1" stop-color="#aaa"/></radialGradient>
<path d="M131.6 190.25 L131.54 195.07 L131.38 197.04 L131.1 198.51 L130.7 199.69 L130.18 200.67 L129.54 201.48 L128.75 202.14 L127.81 202.67 L126.66 203.08 L125.24 203.37 L123.33 203.54 L118.65 203.6 L113.97 203.54 L112.06 203.37 L110.64 203.08 L109.49 202.67 L108.55 202.14 L107.76 201.48 L107.12 200.67 L106.6 199.69 L106.2 198.51 L105.92 197.04 L105.76 195.07 L105.7 190.25 L105.76 185.43 L105.92 183.46 L106.2 181.99 L106.6 180.81 L107.12 179.83 L107.76 179.02 L108.55 178.36 L109.49 177.83 L110.64 177.42 L112.06 177.13 L113.97 176.96 L118.65 176.9 L123.33 176.96 L125.24 177.13 L126.66 177.42 L127.81 177.83 L128.75 178.36 L129.54 179.02 L130.18 179.83 L130.7 180.81 L131.1 181.99 L131.38 183.46 L131.54 185.43Z" fill="url(#g78)" filter="url(#bl)"/>
<path d="M152.5 188 L152.43 190.72 L152.21 192.94 L151.85 194.94 L151.35 196.76 L150.72 198.39 L149.96 199.84 L149.08 201.08 L148.09 202.12 L146.98 202.94 L145.76 203.52 L144.41 203.88 L142.75 204 L141.09 203.88 L139.74 203.52 L138.52 202.94 L137.41 202.12 L136.42 201.08 L135.54 199.84 L134.78 198.39 L134.15 196.76 L133.65 194.94 L133.29 192.94 L133.07 190.72 L133 188 L133.07 185.28 L133.29 183.06 L133.65 181.06 L134.15 179.24 L134.78 177.61 L135.54 176.16 L136.42 174.92 L137.41 173.88 L138.52 173.06 L139.74 172.48 L141.09 172.12 L142.75 172 L144.41 172.12 L145.76 172.48 L146.98 173.06 L148.09 173.88 L149.08 174.92 L149.96 176.16 L150.72 177.61 L151.35 179.24 L151.85 181.06 L152.21 183.06 L152.43 185.28Z" fill="#000" filter="url(#sp)"/>
<path d="M151.5 188.6 L151.43 191.22 L151.24 193.35 L150.92 195.28 L150.47 197.03 L149.9 198.6 L149.22 199.99 L148.43 201.19 L147.54 202.19 L146.55 202.98 L145.45 203.54 L144.24 203.89 L142.75 204 L141.26 203.89 L140.05 203.54 L138.95 202.98 L137.96 202.19 L137.07 201.19 L136.28 199.99 L135.6 198.6 L135.03 197.03 L134.58 195.28 L134.26 193.35 L134.07 191.22 L134 188.6 L134.07 185.98 L134.26 183.85 L134.58 181.92 L135.03 180.17 L135.6 178.6 L136.28 177.21 L137.07 176.01 L137.96 175.01 L138.95 174.22 L140.05 173.66 L141.26 173.31 L142.75 173.2 L144.24 173.31 L145.45 173.66 L146.55 174.22 L147.54 175.01 L148.43 176.01 L149.22 177.21 L149.9 178.6 L150.47 180.17 L150.92 181.92 L151.24 183.85 L151.43 185.98Z" fill="#000" filter="url(#bl1)"/>
<radialGradient id="g82"><stop offset="0" stop-color="#ececec"/><stop offset=".9" stop-color="#e0e0e0"/><stop offset="1" stop-color="#aaa"/></radialGradient>
<path d="M149 189 L148.96 190.97 L148.85 192.58 L148.65 194.03 L148.39 195.35 L148.05 196.53 L147.65 197.58 L147.18 198.49 L146.65 199.24 L146.06 199.83 L145.41 200.26 L144.69 200.51 L143.8 200.6 L142.91 200.51 L142.19 200.26 L141.54 199.83 L140.95 199.24 L140.42 198.49 L139.95 197.58 L139.55 196.53 L139.21 195.35 L138.95 194.03 L138.75 192.58 L138.64 190.97 L138.6 189 L138.64 187.03 L138.75 185.42 L138.95 183.97 L139.21 182.65 L139.55 181.47 L139.95 180.42 L140.42 179.51 L140.95 178.76 L141.54 178.17 L142.19 177.74 L142.91 177.49 L143.8 177.4 L144.69 177.49 L145.41 177.74 L146.06 178.17 L146.65 178.76 L147.18 179.51 L147.65 180.42 L148.05 181.47 L148.39 182.65 L148.65 183.97 L148.85 185.42 L148.96 187.03Z" fill="url(#g82)" filter="url(#bl)"/>
</g>
<ellipse cx="147.5" cy="153.5" rx="2.5" ry="5" transform="rotate(35 147.5 153.5)" fill="#000" filter="url(#sps)" opacity="0.4"/>
<ellipse cx="147.5" cy="154" rx="1.3" ry="3.5" transform="rotate(35 147.5 154)" fill="#888" filter="url(#bl2)"/>
<rect x="104.6" y="126.2" width="73.4" height="77.4" fill="none" stroke="#000" stroke-width="1.7"/>
<rect x="138.5" y="139.3" width="19.3" height="21.2" fill="none" stroke="#000" stroke-width="1"/>
<text x="158" y="158.9" font-size="8.6">0.02</text>
<clipPath id="cEBV00"><rect x="199.7" y="42.55" width="71.8" height="76.25"/></clipPath>
<g clip-path="url(#cEBV00)">
<rect x="226.12" y="88.76" width="0.9" height="0.9" fill="#a7a7a7"/><rect x="232.29" y="85.71" width="0.8" height="0.8" fill="#adadad"/><rect x="239.57" y="77.23" width="0.7" height="0.7" fill="#a2a2a2"/><rect x="230.94" y="88.93" width="0.6" height="0.6" fill="#d6d6d6"/><rect x="237.96" y="82.79" width="0.9" height="0.9" fill="#aeaeae"/><rect x="240.25" y="81.68" width="0.7" height="0.7" fill="#c6c6c6"/><rect x="232.66" y="91.92" width="0.7" height="0.7" fill="#ababab"/><rect x="212.93" y="87.82" width="0.8" height="0.8" fill="#c3c3c3"/><rect x="216.88" y="80.32" width="0.7" height="0.7" fill="#9e9e9e"/><rect x="230.31" y="63.98" width="0.9" height="0.9" fill="#c1c1c1"/><rect x="242.32" y="84.6" width="0.8" height="0.8" fill="#c8c8c8"/><rect x="221.36" y="71.33" width="0.9" height="0.9" fill="#b9b9b9"/><rect x="224.89" y="76.28" width="0.9" height="0.9" fill="#bfbfbf"/><rect x="234.95" y="80.05" width="0.8" height="0.8" fill="#bfbfbf"/><rect x="230.32" y="81.67" width="0.9" height="0.9" fill="#a0a0a0"/><rect x="233.24" y="69.14" width="0.8" height="0.8" fill="#8f8f8f"/><rect x="240.71" y="74.11" width="0.6" height="0.6" fill="#cecece"/><rect x="232.68" y="75.26" width="0.8" height="0.8" fill="#bdbdbd"/><rect x="202.8" y="85.6" width="0.6" height="0.6" fill="#d0d0d0"/><rect x="209.69" y="82.08" width="0.7" height="0.7" fill="#a4a4a4"/><rect x="204.85" y="85.78" width="0.7" height="0.7" fill="#a9a9a9"/><rect x="236" y="80.16" width="0.6" height="0.6" fill="#a0a0a0"/><rect x="220.76" y="68.11" width="0.7" height="0.7" fill="#8f8f8f"/><rect x="232.05" y="80.97" width="0.9" height="0.9" fill="#909090"/><rect x="228.27" y="88.3" width="0.6" height="0.6" fill="#c4c4c4"/><rect x="230.85" y="70.78" width="0.6" height="0.6" fill="#9e9e9e"/><rect x="245.91" y="77.95" width="0.9" height="0.9" fill="#a2a2a2"/><rect x="209.52" y="80.68" width="0.6" height="0.6" fill="#cdcdcd"/><rect x="218.02" y="75.35" width="0.8" height="0.8" fill="#a0a0a0"/><rect x="233.88" y="79.67" width="0.8" height="0.8" fill="#d6d6d6"/><rect x="217.28" y="84.24" width="0.7" height="0.7" fill="#b7b7b7"/><rect x="243.21" y="91.64" width="0.7" height="0.7" fill="#919191"/><rect x="223.55" y="71.79" width="0.7" height="0.7" fill="#b2b2b2"/><rect x="226.04" y="76.86" width="0.9" height="0.9" fill="#afafaf"/><rect x="235.47" y="90.67" width="0.8" height="0.8" fill="#9e9e9e"/><rect x="224.51" y="83" width="0.7" height="0.7" fill="#b7b7b7"/><rect x="232.96" y="86.83" width="0.7" height="0.7" fill="#a1a1a1"/><rect x="209.73" y="91.89" width="0.9" height="0.9" fill="#949494"/><rect x="227.58" y="87.35" width="0.9" height="0.9" fill="#989898"/><rect x="209.7" y="81.88" width="0.7" height="0.7" fill="#bfbfbf"/><rect x="246.79" y="78.02" width="0.8" height="0.8" fill="#cbcbcb"/><rect x="209.78" y="88.35" width="0.7" height="0.7" fill="#9a9a9a"/><rect x="225.94" y="69.04" width="0.7" height="0.7" fill="#d5d5d5"/><rect x="215.64" y="80.14" width="0.9" height="0.9" fill="#bababa"/><rect x="243.4" y="81.44" width="0.8" height="0.8" fill="#a4a4a4"/><rect x="216.07" y="82.71" width="0.6" height="0.6" fill="#d7d7d7"/><rect x="222.18" y="66.71" width="0.6" height="0.6" fill="#cdcdcd"/><rect x="238.15" y="67.59" width="0.6" height="0.6" fill="#b0b0b0"/><rect x="221.96" y="88.88" width="0.6" height="0.6" fill="#a3a3a3"/><rect x="229.51" y="91.62" width="0.6" height="0.6" fill="#a8a8a8"/><rect x="222.52" y="77" width="0.8" height="0.8" fill="#bbbbbb"/><rect x="228.9" y="73.21" width="0.6" height="0.6" fill="#8d8d8d"/><rect x="239.13" y="86.71" width="0.8" height="0.8" fill="#c2c2c2"/><rect x="203.81" y="89.6" width="0.6" height="0.6" fill="#adadad"/><rect x="239.15" y="84.14" width="0.9" height="0.9" fill="#969696"/><rect x="239.93" y="69.12" width="0.6" height="0.6" fill="#929292"/><rect x="227" y="83.94" width="0.7" height="0.7" fill="#bfbfbf"/><rect x="223.79" y="67.69" width="0.9" height="0.9" fill="#a8a8a8"/><rect x="215.81" y="71.66" width="0.7" height="0.7" fill="#b6b6b6"/><rect x="220.36" y="81.77" width="0.9" height="0.9" fill="#989898"/><rect x="229.01" y="74.33" width="0.9" height="0.9" fill="#d7d7d7"/><rect x="222.99" y="81.12" width="0.6" height="0.6" fill="#a3a3a3"/><rect x="239.89" y="85.29" width="0.7" height="0.7" fill="#b5b5b5"/><rect x="218.7" y="82.26" width="0.7" height="0.7" fill="#afafaf"/><rect x="236.85" y="87.67" width="0.8" height="0.8" fill="#9f9f9f"/><rect x="243.98" y="91.88" width="0.9" height="0.9" fill="#d3d3d3"/><rect x="226.9" y="75.45" width="0.8" height="0.8" fill="#bbbbbb"/><rect x="226.5" y="78.82" width="0.7" height="0.7" fill="#afafaf"/><rect x="226.19" y="73.4" width="0.6" height="0.6" fill="#a3a3a3"/><rect x="235.78" y="84.99" width="0.9" height="0.9" fill="#ababab"/><rect x="217.39" y="81.81" width="0.8" height="0.8" fill="#b9b9b9"/><rect x="222.74" y="83.52" width="0.6" height="0.6" fill="#bababa"/><rect x="234.17" y="90.93" width="0.8" height="0.8" fill="#a9a9a9"/><rect x="237.38" y="75.61" width="0.9" height="0.9" fill="#aeaeae"/><rect x="215.85" y="64.97" width="0.7" height="0.7" fill="#a3a3a3"/><rect x="226.44" y="63.56" width="0.9" height="0.9" fill="#cdcdcd"/><rect x="217.41" y="64.06" width="0.7" height="0.7" fill="#a4a4a4"/><rect x="231.33" y="69.4" width="0.7" height="0.7" fill="#aaaaaa"/><rect x="224.62" y="84.71" width="0.6" height="0.6" fill="#9b9b9b"/><rect x="223.14" y="91.78" width="0.7" height="0.7" fill="#8d8d8d"/><rect x="207.57" y="91.56" width="0.7" height="0.7" fill="#c2c2c2"/><rect x="226.94" y="77.6" width="0.9" height="0.9" fill="#c8c8c8"/><rect x="224.17" y="79.17" width="0.9" height="0.9" fill="#c8c8c8"/><rect x="243.82" y="82.18" width="0.7" height="0.7" fill="#979797"/><rect x="219.71" y="73.84" width="0.8" height="0.8" fill="#b1b1b1"/><rect x="226.77" y="91.42" width="0.9" height="0.9" fill="#cdcdcd"/><rect x="227.97" y="67.06" width="0.8" height="0.8" fill="#b6b6b6"/><rect x="219.32" y="72.86" width="0.9" height="0.9" fill="#a5a5a5"/>
<path d="M231 106 L230.96 114.94 L230.84 116.87 L230.63 118.16 L230.34 119.13 L229.94 119.88 L229.44 120.49 L228.82 120.98 L228.04 121.36 L227.04 121.64 L225.71 121.84 L223.72 121.96 L214.5 122 L205.28 121.96 L203.29 121.84 L201.96 121.64 L200.96 121.36 L200.18 120.98 L199.56 120.49 L199.06 119.88 L198.66 119.13 L198.37 118.16 L198.16 116.87 L198.04 114.94 L198 106 L198.04 97.06 L198.16 95.13 L198.37 93.84 L198.66 92.87 L199.06 92.12 L199.56 91.51 L200.18 91.02 L200.96 90.64 L201.96 90.36 L203.29 90.16 L205.28 90.04 L214.5 90 L223.72 90.04 L225.71 90.16 L227.04 90.36 L228.04 90.64 L228.82 91.02 L229.44 91.51 L229.94 92.12 L230.34 92.87 L230.63 93.84 L230.84 95.13 L230.96 97.06Z" fill="#000" filter="url(#sp)"/>
<path d="M230 106.6 L229.96 115.21 L229.85 117.07 L229.65 118.3 L229.38 119.23 L229.01 119.96 L228.54 120.55 L227.95 121.01 L227.22 121.38 L226.28 121.66 L225.03 121.85 L223.16 121.96 L214.5 122 L205.84 121.96 L203.97 121.85 L202.72 121.66 L201.78 121.38 L201.05 121.01 L200.46 120.55 L199.99 119.96 L199.62 119.23 L199.35 118.3 L199.15 117.07 L199.04 115.21 L199 106.6 L199.04 97.99 L199.15 96.13 L199.35 94.9 L199.62 93.97 L199.99 93.24 L200.46 92.65 L201.05 92.19 L201.78 91.82 L202.72 91.54 L203.97 91.35 L205.84 91.24 L214.5 91.2 L223.16 91.24 L225.03 91.35 L226.28 91.54 L227.22 91.82 L227.95 92.19 L228.54 92.65 L229.01 93.24 L229.38 93.97 L229.65 94.9 L229.85 96.13 L229.96 97.99Z" fill="#000" filter="url(#bl1)"/>
<radialGradient id="g95"><stop offset="0" stop-color="#dadada"/><stop offset=".9" stop-color="#d0d0d0"/><stop offset="1" stop-color="#aaa"/></radialGradient>
<path d="M225.1 106.5 L225.07 112.28 L224.99 113.53 L224.84 114.37 L224.64 114.99 L224.37 115.48 L224.02 115.87 L223.58 116.19 L223.04 116.43 L222.35 116.62 L221.42 116.75 L220.04 116.82 L213.63 116.85 L207.21 116.82 L205.83 116.75 L204.9 116.62 L204.21 116.43 L203.67 116.19 L203.23 115.87 L202.88 115.48 L202.61 114.99 L202.41 114.37 L202.26 113.53 L202.18 112.28 L202.15 106.5 L202.18 100.72 L202.26 99.47 L202.41 98.63 L202.61 98.01 L202.88 97.52 L203.23 97.13 L203.67 96.81 L204.21 96.57 L204.9 96.38 L205.83 96.25 L207.21 96.18 L213.62 96.15 L220.04 96.18 L221.42 96.25 L222.35 96.38 L223.04 96.57 L223.58 96.81 L224.02 97.13 L224.37 97.52 L224.64 98.01 L224.84 98.63 L224.99 99.47 L225.07 100.72Z" fill="url(#g95)" filter="url(#bl)"/>
<path d="M244.5 106.25 L244.46 111.94 L244.35 114.26 L244.17 115.99 L243.91 117.39 L243.57 118.54 L243.15 119.49 L242.63 120.28 L242.01 120.91 L241.26 121.39 L240.32 121.73 L239.07 121.93 L236 122 L232.93 121.93 L231.68 121.73 L230.74 121.39 L229.99 120.91 L229.37 120.28 L228.85 119.49 L228.43 118.54 L228.09 117.39 L227.83 115.99 L227.65 114.26 L227.54 111.94 L227.5 106.25 L227.54 100.56 L227.65 98.24 L227.83 96.51 L228.09 95.11 L228.43 93.96 L228.85 93.01 L229.37 92.22 L229.99 91.59 L230.74 91.11 L231.68 90.77 L232.93 90.57 L236 90.5 L239.07 90.57 L240.32 90.77 L241.26 91.11 L242.01 91.59 L242.63 92.22 L243.15 93.01 L243.57 93.96 L243.91 95.11 L244.17 96.51 L244.35 98.24 L244.46 100.56Z" fill="#000" filter="url(#sp)"/>
<path d="M243.5 106.85 L243.47 112.32 L243.37 114.56 L243.21 116.22 L242.98 117.56 L242.68 118.67 L242.31 119.59 L241.85 120.34 L241.3 120.95 L240.64 121.41 L239.82 121.74 L238.71 121.94 L236 122 L233.29 121.94 L232.18 121.74 L231.36 121.41 L230.7 120.95 L230.15 120.34 L229.69 119.59 L229.32 118.67 L229.02 117.56 L228.79 116.22 L228.63 114.56 L228.53 112.32 L228.5 106.85 L228.53 101.38 L228.63 99.14 L228.79 97.48 L229.02 96.14 L229.32 95.03 L229.69 94.11 L230.15 93.36 L230.7 92.75 L231.36 92.29 L232.18 91.96 L233.29 91.76 L236 91.7 L238.71 91.76 L239.82 91.96 L240.64 92.29 L241.3 92.75 L241.85 93.36 L242.31 94.11 L242.68 95.03 L242.98 96.14 L243.21 97.48 L243.37 99.14 L243.47 101.38Z" fill="#000" filter="url(#bl1)"/>
<radialGradient id="g99"><stop offset="0" stop-color="#d8d8d8"/><stop offset=".9" stop-color="#d8d8d8"/><stop offset="1" stop-color="#aaa"/></radialGradient>
<path d="M241.6 106.5 L241.57 110.15 L241.5 111.64 L241.37 112.75 L241.19 113.64 L240.96 114.38 L240.67 114.99 L240.31 115.5 L239.89 115.9 L239.37 116.21 L238.73 116.43 L237.86 116.56 L235.75 116.6 L233.64 116.56 L232.77 116.43 L232.13 116.21 L231.61 115.9 L231.19 115.5 L230.83 114.99 L230.54 114.38 L230.31 113.64 L230.13 112.75 L230 111.64 L229.93 110.15 L229.9 106.5 L229.93 102.85 L230 101.36 L230.13 100.25 L230.31 99.36 L230.54 98.62 L230.83 98.01 L231.19 97.5 L231.61 97.1 L232.13 96.79 L232.77 96.57 L233.64 96.44 L235.75 96.4 L237.86 96.44 L238.73 96.57 L239.37 96.79 L239.89 97.1 L240.31 97.5 L240.67 98.01 L240.96 98.62 L241.19 99.36 L241.37 100.25 L241.5 101.36 L241.57 102.85Z" fill="url(#g99)" filter="url(#bl)"/>
<ellipse cx="236.5" cy="107.25" rx="2" ry="3.5" fill="#222" filter="url(#bl2)"/>
</g>
<ellipse cx="238.5" cy="76" rx="5" ry="11" transform="rotate(12 238.5 76)" fill="#000" filter="url(#sps)" opacity="0.55"/>
<ellipse cx="238.7" cy="75.5" rx="3.2" ry="8.5" transform="rotate(12 238.7 75.5)" fill="#000" filter="url(#spm)" opacity="0.85"/>
<ellipse cx="238.8" cy="75.5" rx="2.2" ry="6.5" transform="rotate(12 238.8 75.5)" fill="#2a2a2a" filter="url(#bl2)"/>
<rect x="198.9" y="41.75" width="73.4" height="77.85" fill="none" stroke="#000" stroke-width="1.7"/>
<rect x="227.5" y="56.25" width="18.75" height="32.25" fill="none" stroke="#000" stroke-width="1"/>
<text x="250" y="71.9" font-size="8.6">0.35</text>
<clipPath id="cEBV10"><rect x="276.6" y="42.55" width="71.2" height="76.25"/></clipPath>
<g clip-path="url(#cEBV10)">
<rect x="298.04" y="64.56" width="0.7" height="0.7" fill="#c6c6c6"/><rect x="304.85" y="72.48" width="0.6" height="0.6" fill="#a2a2a2"/><rect x="312.26" y="80.67" width="0.7" height="0.7" fill="#cccccc"/><rect x="315.11" y="83.51" width="0.8" height="0.8" fill="#b4b4b4"/><rect x="310.83" y="59.99" width="0.7" height="0.7" fill="#a5a5a5"/><rect x="313.59" y="82.49" width="0.8" height="0.8" fill="#9c9c9c"/><rect x="304.68" y="75.34" width="0.6" height="0.6" fill="#939393"/><rect x="314.45" y="73.95" width="0.7" height="0.7" fill="#949494"/><rect x="325.29" y="90.13" width="0.9" height="0.9" fill="#a9a9a9"/><rect x="311.72" y="77.32" width="0.6" height="0.6" fill="#bbbbbb"/><rect x="315.06" y="79.85" width="0.7" height="0.7" fill="#979797"/><rect x="320.53" y="82.09" width="0.9" height="0.9" fill="#979797"/><rect x="310.62" y="86.89" width="0.9" height="0.9" fill="#d1d1d1"/><rect x="298.83" y="84.84" width="0.8" height="0.8" fill="#a8a8a8"/><rect x="293.54" y="90.28" width="0.8" height="0.8" fill="#9d9d9d"/><rect x="299.8" y="63.29" width="0.9" height="0.9" fill="#bbbbbb"/><rect x="305.49" y="73.55" width="0.9" height="0.9" fill="#b9b9b9"/><rect x="312.9" y="70.02" width="0.9" height="0.9" fill="#9f9f9f"/><rect x="297.66" y="85.06" width="0.8" height="0.8" fill="#afafaf"/><rect x="311.78" y="72.85" width="0.7" height="0.7" fill="#d6d6d6"/><rect x="295.79" y="84.88" width="0.8" height="0.8" fill="#b2b2b2"/><rect x="284.78" y="90.92" width="0.9" height="0.9" fill="#c7c7c7"/><rect x="321.72" y="81.4" width="0.7" height="0.7" fill="#989898"/><rect x="300.6" y="73.85" width="0.9" height="0.9" fill="#a8a8a8"/><rect x="299.4" y="60.51" width="0.7" height="0.7" fill="#d5d5d5"/><rect x="288.06" y="76.7" width="0.9" height="0.9" fill="#cccccc"/><rect x="295.32" y="81.9" width="0.7" height="0.7" fill="#d5d5d5"/><rect x="312.41" y="68.75" width="0.7" height="0.7" fill="#949494"/><rect x="321.95" y="87.21" width="0.7" height="0.7" fill="#ababab"/><rect x="295.01" y="72.08" width="0.6" height="0.6" fill="#c0c0c0"/><rect x="317.72" y="86.94" width="0.9" height="0.9" fill="#999999"/><rect x="299.62" y="66.56" width="0.9" height="0.9" fill="#cdcdcd"/><rect x="313.84" y="76.64" width="0.8" height="0.8" fill="#c8c8c8"/><rect x="300.39" y="79.45" width="0.7" height="0.7" fill="#c7c7c7"/><rect x="292.94" y="73.07" width="0.9" height="0.9" fill="#a4a4a4"/><rect x="320.89" y="87.37" width="0.7" height="0.7" fill="#a6a6a6"/><rect x="312.13" y="79.3" width="0.9" height="0.9" fill="#8e8e8e"/><rect x="302.08" y="67.02" width="0.6" height="0.6" fill="#b7b7b7"/><rect x="286.41" y="79.8" width="0.8" height="0.8" fill="#b1b1b1"/><rect x="319.78" y="80.47" width="0.6" height="0.6" fill="#979797"/><rect x="318.96" y="88.91" width="0.9" height="0.9" fill="#bebebe"/><rect x="303.2" y="73.02" width="0.9" height="0.9" fill="#999999"/><rect x="298.94" y="74.21" width="0.6" height="0.6" fill="#9a9a9a"/><rect x="298.07" y="77.32" width="0.8" height="0.8" fill="#9f9f9f"/><rect x="308.04" y="70.4" width="0.8" height="0.8" fill="#c4c4c4"/><rect x="285.12" y="84.61" width="0.6" height="0.6" fill="#cccccc"/><rect x="305.19" y="78.62" width="0.7" height="0.7" fill="#d2d2d2"/><rect x="308.16" y="91.13" width="0.8" height="0.8" fill="#c0c0c0"/><rect x="309.88" y="86.94" width="0.7" height="0.7" fill="#949494"/><rect x="309.38" y="81.68" width="0.8" height="0.8" fill="#cbcbcb"/><rect x="289.33" y="71.17" width="0.8" height="0.8" fill="#d6d6d6"/><rect x="305.44" y="73.64" width="0.7" height="0.7" fill="#bbbbbb"/><rect x="300.61" y="88.03" width="0.9" height="0.9" fill="#aaaaaa"/><rect x="320.72" y="77.64" width="0.7" height="0.7" fill="#d2d2d2"/><rect x="320.48" y="75.65" width="0.8" height="0.8" fill="#a2a2a2"/><rect x="292.96" y="77.8" width="0.7" height="0.7" fill="#c7c7c7"/><rect x="289.56" y="90.53" width="0.7" height="0.7" fill="#c2c2c2"/><rect x="298.73" y="80.76" width="0.9" height="0.9" fill="#b0b0b0"/><rect x="312.92" y="69.79" width="0.7" height="0.7" fill="#bdbdbd"/><rect x="303.28" y="86.05" width="0.7" height="0.7" fill="#959595"/><rect x="321.67" y="87.53" width="0.9" height="0.9" fill="#c6c6c6"/><rect x="307.29" y="61.54" width="0.7" height="0.7" fill="#d4d4d4"/><rect x="303.92" y="87" width="0.7" height="0.7" fill="#9e9e9e"/><rect x="291" y="72.25" width="0.6" height="0.6" fill="#bcbcbc"/><rect x="284.7" y="89.98" width="0.6" height="0.6" fill="#aaaaaa"/><rect x="309.68" y="72.09" width="0.6" height="0.6" fill="#cccccc"/><rect x="298.61" y="91.61" width="0.6" height="0.6" fill="#9b9b9b"/><rect x="304.26" y="60.42" width="0.9" height="0.9" fill="#d1d1d1"/><rect x="293.29" y="69.77" width="0.8" height="0.8" fill="#d5d5d5"/><rect x="309.96" y="89.11" width="0.8" height="0.8" fill="#d4d4d4"/><rect x="317.18" y="89.9" width="0.9" height="0.9" fill="#afafaf"/><rect x="318.89" y="71.48" width="0.8" height="0.8" fill="#d4d4d4"/><rect x="326" y="80.48" width="0.7" height="0.7" fill="#9a9a9a"/><rect x="317.15" y="80.07" width="0.7" height="0.7" fill="#a6a6a6"/><rect x="290.45" y="79.7" width="0.9" height="0.9" fill="#b6b6b6"/><rect x="302.3" y="57.49" width="0.9" height="0.9" fill="#c9c9c9"/><rect x="305.21" y="58.19" width="0.6" height="0.6" fill="#9d9d9d"/><rect x="309.31" y="63.8" width="0.9" height="0.9" fill="#cacaca"/><rect x="299.75" y="78.89" width="0.6" height="0.6" fill="#b5b5b5"/><rect x="310.34" y="91.87" width="0.6" height="0.6" fill="#b6b6b6"/><rect x="295.78" y="90.47" width="0.6" height="0.6" fill="#c0c0c0"/><rect x="304.98" y="74.5" width="0.9" height="0.9" fill="#989898"/><rect x="312.93" y="73.43" width="0.6" height="0.6" fill="#cccccc"/><rect x="293.83" y="89.04" width="0.8" height="0.8" fill="#ababab"/><rect x="308.85" y="69.02" width="0.8" height="0.8" fill="#929292"/><rect x="299.98" y="87.82" width="0.9" height="0.9" fill="#8f8f8f"/><rect x="303" y="75.43" width="0.9" height="0.9" fill="#9e9e9e"/><rect x="295.2" y="88.39" width="0.6" height="0.6" fill="#b1b1b1"/><rect x="302.42" y="86.24" width="0.8" height="0.8" fill="#b0b0b0"/><rect x="304.65" y="89.65" width="0.9" height="0.9" fill="#8c8c8c"/><rect x="326.53" y="75.05" width="0.9" height="0.9" fill="#9b9b9b"/><rect x="326.98" y="84.98" width="0.6" height="0.6" fill="#8c8c8c"/><rect x="323.37" y="85.56" width="0.9" height="0.9" fill="#a3a3a3"/><rect x="295.68" y="80.29" width="0.9" height="0.9" fill="#d4d4d4"/><rect x="292.11" y="80.8" width="0.7" height="0.7" fill="#9b9b9b"/><rect x="318.92" y="83.35" width="0.8" height="0.8" fill="#989898"/><rect x="307.02" y="71.38" width="0.7" height="0.7" fill="#bfbfbf"/><rect x="313.18" y="87.32" width="0.6" height="0.6" fill="#c5c5c5"/><rect x="292.1" y="84.18" width="0.8" height="0.8" fill="#c6c6c6"/><rect x="290.71" y="67.04" width="0.8" height="0.8" fill="#c9c9c9"/><rect x="298.99" y="89.1" width="0.6" height="0.6" fill="#c5c5c5"/><rect x="308.34" y="86.91" width="0.9" height="0.9" fill="#adadad"/><rect x="305.75" y="65.65" width="0.8" height="0.8" fill="#c7c7c7"/><rect x="303.9" y="90.68" width="0.6" height="0.6" fill="#acacac"/><rect x="300.67" y="91.66" width="0.9" height="0.9" fill="#d0d0d0"/><rect x="298.71" y="85.66" width="0.9" height="0.9" fill="#8e8e8e"/><rect x="314.9" y="80.25" width="0.8" height="0.8" fill="#a8a8a8"/><rect x="298.76" y="70.34" width="0.9" height="0.9" fill="#c6c6c6"/><rect x="298.28" y="58.97" width="0.6" height="0.6" fill="#cecece"/><rect x="300.68" y="67.99" width="0.7" height="0.7" fill="#a1a1a1"/><rect x="301.29" y="64.25" width="0.9" height="0.9" fill="#cbcbcb"/><rect x="305.55" y="79.48" width="0.8" height="0.8" fill="#939393"/><rect x="290.78" y="73.44" width="0.9" height="0.9" fill="#d0d0d0"/><rect x="306.65" y="56.57" width="0.6" height="0.6" fill="#a6a6a6"/><rect x="299.02" y="89" width="0.8" height="0.8" fill="#b2b2b2"/><rect x="311.28" y="65.33" width="0.8" height="0.8" fill="#a9a9a9"/><rect x="297.38" y="84.85" width="0.6" height="0.6" fill="#bebebe"/><rect x="289.53" y="91.03" width="0.7" height="0.7" fill="#d0d0d0"/><rect x="291.53" y="86.2" width="0.9" height="0.9" fill="#c4c4c4"/><rect x="319.13" y="81.6" width="0.7" height="0.7" fill="#a9a9a9"/><rect x="294.93" y="81.75" width="0.8" height="0.8" fill="#c9c9c9"/><rect x="320.77" y="91.47" width="0.6" height="0.6" fill="#8d8d8d"/><rect x="309.46" y="80.62" width="0.9" height="0.9" fill="#b4b4b4"/><rect x="290.41" y="84.01" width="0.9" height="0.9" fill="#a6a6a6"/><rect x="318.87" y="80.72" width="0.9" height="0.9" fill="#9d9d9d"/><rect x="294.25" y="73.19" width="0.8" height="0.8" fill="#a5a5a5"/><rect x="295.17" y="83.12" width="0.8" height="0.8" fill="#c6c6c6"/><rect x="316.44" y="63.22" width="0.9" height="0.9" fill="#a5a5a5"/><rect x="312.36" y="65.43" width="0.7" height="0.7" fill="#aeaeae"/><rect x="298.36" y="59.42" width="0.6" height="0.6" fill="#acacac"/><rect x="308.92" y="71.51" width="0.6" height="0.6" fill="#cfcfcf"/><rect x="297.18" y="88.97" width="0.7" height="0.7" fill="#d3d3d3"/><rect x="303.78" y="67.19" width="0.6" height="0.6" fill="#adadad"/><rect x="291.78" y="64.17" width="0.7" height="0.7" fill="#a5a5a5"/><rect x="323.04" y="68.82" width="0.9" height="0.9" fill="#a9a9a9"/><rect x="305.88" y="72.62" width="0.6" height="0.6" fill="#b7b7b7"/>
<path d="M304.5 105.5 L304.46 113.87 L304.33 116.02 L304.12 117.48 L303.81 118.6 L303.4 119.48 L302.89 120.2 L302.25 120.77 L301.46 121.23 L300.46 121.57 L299.15 121.81 L297.23 121.95 L289.75 122 L282.27 121.95 L280.35 121.81 L279.04 121.57 L278.04 121.23 L277.25 120.77 L276.61 120.2 L276.1 119.48 L275.69 118.6 L275.38 117.48 L275.17 116.02 L275.04 113.87 L275 105.5 L275.04 97.13 L275.17 94.98 L275.38 93.52 L275.69 92.4 L276.1 91.52 L276.61 90.8 L277.25 90.23 L278.04 89.77 L279.04 89.43 L280.35 89.19 L282.27 89.05 L289.75 89 L297.23 89.05 L299.15 89.19 L300.46 89.43 L301.46 89.77 L302.25 90.23 L302.89 90.8 L303.4 91.52 L303.81 92.4 L304.12 93.52 L304.33 94.98 L304.46 97.13Z" fill="#000" filter="url(#sp)"/>
<path d="M303.5 106.1 L303.46 114.17 L303.34 116.23 L303.14 117.64 L302.86 118.72 L302.48 119.58 L302 120.27 L301.4 120.82 L300.66 121.26 L299.73 121.59 L298.51 121.82 L296.72 121.95 L289.75 122 L282.78 121.95 L280.99 121.82 L279.77 121.59 L278.84 121.26 L278.1 120.82 L277.5 120.27 L277.02 119.58 L276.64 118.72 L276.36 117.64 L276.16 116.23 L276.04 114.17 L276 106.1 L276.04 98.03 L276.16 95.97 L276.36 94.56 L276.64 93.48 L277.02 92.62 L277.5 91.93 L278.1 91.38 L278.84 90.94 L279.77 90.61 L280.99 90.38 L282.78 90.25 L289.75 90.2 L296.72 90.25 L298.51 90.38 L299.73 90.61 L300.66 90.94 L301.4 91.38 L302 91.93 L302.48 92.62 L302.86 93.48 L303.14 94.56 L303.34 95.97 L303.46 98.03Z" fill="#000" filter="url(#bl1)"/>
<radialGradient id="g114"><stop offset="0" stop-color="#e0e0e0"/><stop offset=".9" stop-color="#d4d4d4"/><stop offset="1" stop-color="#aaa"/></radialGradient>
<path d="M300.35 107.25 L300.32 112.25 L300.22 113.53 L300.05 114.4 L299.81 115.07 L299.5 115.6 L299.1 116.03 L298.6 116.37 L297.98 116.64 L297.21 116.84 L296.19 116.99 L294.7 117.07 L288.88 117.1 L283.05 117.07 L281.56 116.99 L280.54 116.84 L279.77 116.64 L279.15 116.37 L278.65 116.03 L278.25 115.6 L277.94 115.07 L277.7 114.4 L277.53 113.53 L277.43 112.25 L277.4 107.25 L277.43 102.25 L277.53 100.97 L277.7 100.1 L277.94 99.43 L278.25 98.9 L278.65 98.47 L279.15 98.13 L279.77 97.86 L280.54 97.66 L281.56 97.51 L283.05 97.43 L288.87 97.4 L294.7 97.43 L296.19 97.51 L297.21 97.66 L297.98 97.86 L298.6 98.13 L299.1 98.47 L299.5 98.9 L299.81 99.43 L300.05 100.1 L300.22 100.97 L300.32 102.25Z" fill="url(#g114)" filter="url(#bl)"/>
<ellipse cx="290" cy="108" rx="5.6" ry="5.6" fill="none" stroke="#ececec" stroke-width="1.3" filter="url(#bl)"/>
<ellipse cx="290" cy="108" rx="3" ry="3" fill="#4a4a4a" filter="url(#bl2)"/>
<path d="M316.5 106.75 L316.47 112.26 L316.37 114.51 L316.2 116.18 L315.96 117.53 L315.65 118.65 L315.27 119.57 L314.8 120.33 L314.23 120.94 L313.54 121.41 L312.69 121.74 L311.55 121.93 L308.75 122 L305.95 121.93 L304.81 121.74 L303.96 121.41 L303.27 120.94 L302.7 120.33 L302.23 119.57 L301.85 118.65 L301.54 117.53 L301.3 116.18 L301.13 114.51 L301.03 112.26 L301 106.75 L301.03 101.24 L301.13 98.99 L301.3 97.32 L301.54 95.97 L301.85 94.85 L302.23 93.93 L302.7 93.17 L303.27 92.56 L303.96 92.09 L304.81 91.76 L305.95 91.57 L308.75 91.5 L311.55 91.57 L312.69 91.76 L313.54 92.09 L314.23 92.56 L314.8 93.17 L315.27 93.93 L315.65 94.85 L315.96 95.97 L316.2 97.32 L316.37 98.99 L316.47 101.24Z" fill="#000" filter="url(#sp)"/>
<path d="M315.5 107.35 L315.47 112.64 L315.38 114.8 L315.24 116.41 L315.03 117.71 L314.76 118.78 L314.43 119.67 L314.02 120.4 L313.52 120.98 L312.93 121.43 L312.18 121.75 L311.19 121.94 L308.75 122 L306.31 121.94 L305.32 121.75 L304.57 121.43 L303.98 120.98 L303.48 120.4 L303.07 119.67 L302.74 118.78 L302.47 117.71 L302.26 116.41 L302.12 114.8 L302.03 112.64 L302 107.35 L302.03 102.06 L302.12 99.9 L302.26 98.29 L302.47 96.99 L302.74 95.92 L303.07 95.03 L303.48 94.3 L303.98 93.72 L304.57 93.27 L305.32 92.95 L306.31 92.76 L308.75 92.7 L311.19 92.76 L312.18 92.95 L312.93 93.27 L313.52 93.72 L314.02 94.3 L314.43 95.03 L314.76 95.92 L315.03 96.99 L315.24 98.29 L315.38 99.9 L315.47 102.06Z" fill="#000" filter="url(#bl1)"/>
<radialGradient id="g120"><stop offset="0" stop-color="#eaeaea"/><stop offset=".9" stop-color="#e2e2e2"/><stop offset="1" stop-color="#aaa"/></radialGradient>
<path d="M312.1 106.75 L312.08 110.31 L312.02 111.76 L311.92 112.84 L311.78 113.72 L311.6 114.44 L311.37 115.03 L311.09 115.52 L310.75 115.92 L310.35 116.22 L309.84 116.43 L309.16 116.56 L307.5 116.6 L305.84 116.56 L305.16 116.43 L304.65 116.22 L304.25 115.92 L303.91 115.52 L303.63 115.03 L303.4 114.44 L303.22 113.72 L303.08 112.84 L302.98 111.76 L302.92 110.31 L302.9 106.75 L302.92 103.19 L302.98 101.74 L303.08 100.66 L303.22 99.78 L303.4 99.06 L303.63 98.47 L303.91 97.98 L304.25 97.58 L304.65 97.28 L305.16 97.07 L305.84 96.94 L307.5 96.9 L309.16 96.94 L309.84 97.07 L310.35 97.28 L310.75 97.58 L311.09 97.98 L311.37 98.47 L311.6 99.06 L311.78 99.78 L311.92 100.66 L312.02 101.74 L312.08 103.19Z" fill="url(#g120)" filter="url(#bl)"/>
</g>
<ellipse cx="311" cy="78" rx="6" ry="13" transform="rotate(23 311 78)" fill="#000" filter="url(#sps)" opacity="0.5"/>
<ellipse cx="310.3" cy="81" rx="3.2" ry="10" transform="rotate(22 310.3 81)" fill="#000" filter="url(#spm)" opacity="0.9"/>
<ellipse cx="310" cy="82" rx="2.2" ry="8" transform="rotate(20 310 82)" fill="#000" filter="url(#bl2)"/>
<rect x="275.8" y="41.75" width="72.8" height="77.85" fill="none" stroke="#000" stroke-width="1.7"/>
<rect x="301.25" y="56.25" width="19.05" height="33" fill="none" stroke="#000" stroke-width="1"/>
<text x="326.3" y="71.9" font-size="8.6">0.42</text>
<clipPath id="cFLU00"><rect x="370.6" y="42.55" width="71.6" height="76.25"/></clipPath>
<g clip-path="url(#cFLU00)">
<rect x="401.22" y="69.37" width="0.8" height="0.8" fill="#c9c9c9"/><rect x="409.41" y="69.46" width="0.8" height="0.8" fill="#a4a4a4"/><rect x="391.28" y="60.66" width="0.6" height="0.6" fill="#d1d1d1"/><rect x="395.83" y="67.19" width="0.6" height="0.6" fill="#d1d1d1"/><rect x="383.47" y="82.72" width="0.6" height="0.6" fill="#969696"/><rect x="401.78" y="85.7" width="0.9" height="0.9" fill="#8f8f8f"/><rect x="377.57" y="91.92" width="0.6" height="0.6" fill="#d6d6d6"/><rect x="382.87" y="84.44" width="0.9" height="0.9" fill="#9c9c9c"/><rect x="380.19" y="89.53" width="0.7" height="0.7" fill="#989898"/><rect x="404.16" y="84.5" width="0.7" height="0.7" fill="#d3d3d3"/><rect x="401.5" y="74.79" width="0.6" height="0.6" fill="#d5d5d5"/><rect x="394.45" y="77.07" width="0.7" height="0.7" fill="#bebebe"/><rect x="407.47" y="71.44" width="0.6" height="0.6" fill="#d7d7d7"/><rect x="391.51" y="66.13" width="0.8" height="0.8" fill="#929292"/><rect x="414.37" y="88.71" width="0.7" height="0.7" fill="#9a9a9a"/><rect x="384.71" y="82.63" width="0.9" height="0.9" fill="#d6d6d6"/><rect x="380.87" y="81.66" width="0.7" height="0.7" fill="#c0c0c0"/><rect x="401.44" y="72.94" width="0.6" height="0.6" fill="#b5b5b5"/><rect x="394.78" y="85.65" width="0.8" height="0.8" fill="#cecece"/><rect x="418.51" y="82.71" width="0.6" height="0.6" fill="#8e8e8e"/><rect x="386.27" y="89.83" width="0.8" height="0.8" fill="#cccccc"/><rect x="412.94" y="73.23" width="0.7" height="0.7" fill="#a6a6a6"/><rect x="413.87" y="76.22" width="0.8" height="0.8" fill="#cdcdcd"/><rect x="386.46" y="77.92" width="0.8" height="0.8" fill="#9f9f9f"/><rect x="393.17" y="74.15" width="0.6" height="0.6" fill="#bababa"/><rect x="394.15" y="89.32" width="0.8" height="0.8" fill="#cfcfcf"/><rect x="405.69" y="70.97" width="0.7" height="0.7" fill="#9d9d9d"/><rect x="406.44" y="73.67" width="0.7" height="0.7" fill="#a6a6a6"/><rect x="406.98" y="72.73" width="0.6" height="0.6" fill="#adadad"/><rect x="384.52" y="85.98" width="0.7" height="0.7" fill="#b5b5b5"/><rect x="405.47" y="81.69" width="0.6" height="0.6" fill="#d4d4d4"/><rect x="403.31" y="87.42" width="0.8" height="0.8" fill="#cacaca"/><rect x="395.45" y="86.85" width="0.9" height="0.9" fill="#9b9b9b"/><rect x="411.26" y="91.27" width="0.8" height="0.8" fill="#b5b5b5"/><rect x="387.34" y="78.74" width="0.6" height="0.6" fill="#919191"/><rect x="402.56" y="69.9" width="0.8" height="0.8" fill="#c3c3c3"/><rect x="385.88" y="75.47" width="0.9" height="0.9" fill="#d2d2d2"/><rect x="415.23" y="73.92" width="0.6" height="0.6" fill="#979797"/><rect x="404.26" y="86.45" width="0.7" height="0.7" fill="#939393"/><rect x="413.3" y="81.43" width="0.9" height="0.9" fill="#a0a0a0"/><rect x="404.2" y="76.45" width="0.7" height="0.7" fill="#a2a2a2"/><rect x="395.21" y="73.14" width="0.9" height="0.9" fill="#b2b2b2"/><rect x="391.64" y="84.81" width="0.6" height="0.6" fill="#c6c6c6"/><rect x="400.76" y="62" width="0.7" height="0.7" fill="#989898"/><rect x="393.34" y="76.3" width="0.8" height="0.8" fill="#c1c1c1"/><rect x="406.19" y="70.63" width="0.9" height="0.9" fill="#9f9f9f"/><rect x="395.73" y="85.61" width="0.6" height="0.6" fill="#b5b5b5"/><rect x="408.55" y="88.01" width="0.9" height="0.9" fill="#cfcfcf"/><rect x="405.77" y="70.11" width="0.8" height="0.8" fill="#d7d7d7"/><rect x="395.22" y="62.69" width="0.6" height="0.6" fill="#b3b3b3"/><rect x="406.22" y="80.33" width="0.8" height="0.8" fill="#919191"/><rect x="399.93" y="76.34" width="0.6" height="0.6" fill="#d3d3d3"/><rect x="405.6" y="90.43" width="0.7" height="0.7" fill="#8c8c8c"/><rect x="385.66" y="84.48" width="0.7" height="0.7" fill="#d0d0d0"/><rect x="408.64" y="71.53" width="0.6" height="0.6" fill="#afafaf"/><rect x="388.69" y="82.88" width="0.8" height="0.8" fill="#909090"/><rect x="389.91" y="80.14" width="0.7" height="0.7" fill="#cacaca"/><rect x="404.14" y="73.12" width="0.9" height="0.9" fill="#d3d3d3"/><rect x="401.1" y="76.03" width="0.7" height="0.7" fill="#cacaca"/><rect x="394.01" y="91.53" width="0.7" height="0.7" fill="#aaaaaa"/><rect x="385.81" y="69.6" width="0.6" height="0.6" fill="#b0b0b0"/><rect x="407.74" y="83.86" width="0.9" height="0.9" fill="#a1a1a1"/><rect x="395.44" y="87.14" width="0.9" height="0.9" fill="#989898"/><rect x="403.63" y="75.23" width="0.7" height="0.7" fill="#cacaca"/><rect x="402.1" y="69.18" width="0.9" height="0.9" fill="#b8b8b8"/><rect x="390.21" y="88.89" width="0.7" height="0.7" fill="#b3b3b3"/><rect x="382.91" y="90.83" width="0.9" height="0.9" fill="#949494"/><rect x="391.8" y="91.96" width="0.8" height="0.8" fill="#b6b6b6"/><rect x="406.33" y="79.79" width="0.9" height="0.9" fill="#d3d3d3"/><rect x="393.74" y="90.1" width="0.6" height="0.6" fill="#bbbbbb"/><rect x="398.33" y="91.37" width="0.9" height="0.9" fill="#acacac"/><rect x="402.87" y="77.52" width="0.6" height="0.6" fill="#969696"/><rect x="399.42" y="87.14" width="0.8" height="0.8" fill="#c4c4c4"/><rect x="379.16" y="82.25" width="0.9" height="0.9" fill="#acacac"/><rect x="408.94" y="78.36" width="0.6" height="0.6" fill="#8e8e8e"/><rect x="378.38" y="81.61" width="0.6" height="0.6" fill="#a8a8a8"/><rect x="394.76" y="91.53" width="0.9" height="0.9" fill="#b4b4b4"/><rect x="399.09" y="81.1" width="0.9" height="0.9" fill="#d3d3d3"/><rect x="409.12" y="74.07" width="0.9" height="0.9" fill="#9d9d9d"/><rect x="397.32" y="89.61" width="0.7" height="0.7" fill="#989898"/><rect x="404.35" y="87.46" width="0.8" height="0.8" fill="#b8b8b8"/><rect x="396.44" y="83.32" width="0.6" height="0.6" fill="#c7c7c7"/><rect x="393.14" y="77.71" width="0.6" height="0.6" fill="#a4a4a4"/><rect x="419.29" y="89.95" width="0.9" height="0.9" fill="#b8b8b8"/><rect x="383.67" y="89.69" width="0.7" height="0.7" fill="#8c8c8c"/><rect x="377.61" y="80.64" width="0.6" height="0.6" fill="#999999"/><rect x="406.51" y="62.81" width="0.8" height="0.8" fill="#c7c7c7"/><rect x="400.7" y="84.05" width="0.6" height="0.6" fill="#c7c7c7"/><rect x="387.93" y="88.31" width="0.9" height="0.9" fill="#959595"/><rect x="409.7" y="85.25" width="0.6" height="0.6" fill="#cfcfcf"/><rect x="378.69" y="83.52" width="0.8" height="0.8" fill="#b5b5b5"/><rect x="392.61" y="87.25" width="0.9" height="0.9" fill="#9c9c9c"/><rect x="383.96" y="68.34" width="0.8" height="0.8" fill="#a5a5a5"/><rect x="395.27" y="89.83" width="0.8" height="0.8" fill="#919191"/><rect x="408.17" y="77.49" width="0.9" height="0.9" fill="#d4d4d4"/><rect x="389.01" y="62.19" width="0.6" height="0.6" fill="#979797"/>
<path d="M402 105.5 L401.94 112.81 L401.77 115.11 L401.49 116.74 L401.08 118 L400.54 119.03 L399.86 119.86 L399.03 120.54 L398 121.08 L396.74 121.49 L395.11 121.77 L392.81 121.94 L385.5 122 L378.19 121.94 L375.89 121.77 L374.26 121.49 L373 121.08 L371.97 120.54 L371.14 119.86 L370.46 119.03 L369.92 118 L369.51 116.74 L369.23 115.11 L369.06 112.81 L369 105.5 L369.06 98.19 L369.23 95.89 L369.51 94.26 L369.92 93 L370.46 91.97 L371.14 91.14 L371.97 90.46 L373 89.92 L374.26 89.51 L375.89 89.23 L378.19 89.06 L385.5 89 L392.81 89.06 L395.11 89.23 L396.74 89.51 L398 89.92 L399.03 90.46 L399.86 91.14 L400.54 91.97 L401.08 93 L401.49 94.26 L401.77 95.89 L401.94 98.19Z" fill="#000" filter="url(#sp)"/>
<path d="M401 106.1 L400.95 113.14 L400.79 115.36 L400.52 116.93 L400.13 118.15 L399.63 119.14 L398.99 119.94 L398.21 120.59 L397.25 121.11 L396.06 121.5 L394.53 121.78 L392.36 121.95 L385.5 122 L378.64 121.95 L376.47 121.78 L374.94 121.5 L373.75 121.11 L372.79 120.59 L372.01 119.94 L371.37 119.14 L370.87 118.15 L370.48 116.93 L370.21 115.36 L370.05 113.14 L370 106.1 L370.05 99.06 L370.21 96.84 L370.48 95.27 L370.87 94.05 L371.37 93.06 L372.01 92.26 L372.79 91.61 L373.75 91.09 L374.94 90.7 L376.47 90.42 L378.64 90.25 L385.5 90.2 L392.36 90.25 L394.53 90.42 L396.06 90.7 L397.25 91.09 L398.21 91.61 L398.99 92.26 L399.63 93.06 L400.13 94.05 L400.52 95.27 L400.79 96.84 L400.95 99.06Z" fill="#000" filter="url(#bl1)"/>
<radialGradient id="g134"><stop offset="0" stop-color="#dedede"/><stop offset=".9" stop-color="#d0d0d0"/><stop offset="1" stop-color="#aaa"/></radialGradient>
<path d="M396.1 106.5 L396.06 111.19 L395.93 112.67 L395.72 113.72 L395.42 114.53 L395.02 115.19 L394.52 115.73 L393.9 116.16 L393.14 116.51 L392.2 116.77 L390.99 116.95 L389.29 117.06 L383.88 117.1 L378.46 117.06 L376.76 116.95 L375.55 116.77 L374.61 116.51 L373.85 116.16 L373.23 115.73 L372.73 115.19 L372.33 114.53 L372.03 113.72 L371.82 112.67 L371.69 111.19 L371.65 106.5 L371.69 101.81 L371.82 100.33 L372.03 99.28 L372.33 98.47 L372.73 97.81 L373.23 97.27 L373.85 96.84 L374.61 96.49 L375.55 96.23 L376.76 96.05 L378.46 95.94 L383.87 95.9 L389.29 95.94 L390.99 96.05 L392.2 96.23 L393.14 96.49 L393.9 96.84 L394.52 97.27 L395.02 97.81 L395.42 98.47 L395.72 99.28 L395.93 100.33 L396.06 101.81Z" fill="url(#g134)" filter="url(#bl)"/>
<ellipse cx="384.25" cy="106.5" rx="5.6" ry="5.9" fill="none" stroke="#ececec" stroke-width="1.3" filter="url(#bl)"/>
<ellipse cx="384.25" cy="106.5" rx="3" ry="3.3" fill="#4a4a4a" filter="url(#bl2)"/>
<path d="M415.5 106.25 L415.46 111.94 L415.35 114.26 L415.17 115.99 L414.91 117.39 L414.57 118.54 L414.15 119.49 L413.63 120.28 L413.01 120.91 L412.26 121.39 L411.32 121.73 L410.07 121.93 L407 122 L403.93 121.93 L402.68 121.73 L401.74 121.39 L400.99 120.91 L400.37 120.28 L399.85 119.49 L399.43 118.54 L399.09 117.39 L398.83 115.99 L398.65 114.26 L398.54 111.94 L398.5 106.25 L398.54 100.56 L398.65 98.24 L398.83 96.51 L399.09 95.11 L399.43 93.96 L399.85 93.01 L400.37 92.22 L400.99 91.59 L401.74 91.11 L402.68 90.77 L403.93 90.57 L407 90.5 L410.07 90.57 L411.32 90.77 L412.26 91.11 L413.01 91.59 L413.63 92.22 L414.15 93.01 L414.57 93.96 L414.91 95.11 L415.17 96.51 L415.35 98.24 L415.46 100.56Z" fill="#000" filter="url(#sp)"/>
<path d="M414.5 106.85 L414.47 112.32 L414.37 114.56 L414.21 116.22 L413.98 117.56 L413.68 118.67 L413.31 119.59 L412.85 120.34 L412.3 120.95 L411.64 121.41 L410.82 121.74 L409.71 121.94 L407 122 L404.29 121.94 L403.18 121.74 L402.36 121.41 L401.7 120.95 L401.15 120.34 L400.69 119.59 L400.32 118.67 L400.02 117.56 L399.79 116.22 L399.63 114.56 L399.53 112.32 L399.5 106.85 L399.53 101.38 L399.63 99.14 L399.79 97.48 L400.02 96.14 L400.32 95.03 L400.69 94.11 L401.15 93.36 L401.7 92.75 L402.36 92.29 L403.18 91.96 L404.29 91.76 L407 91.7 L409.71 91.76 L410.82 91.96 L411.64 92.29 L412.3 92.75 L412.85 93.36 L413.31 94.11 L413.68 95.03 L413.98 96.14 L414.21 97.48 L414.37 99.14 L414.47 101.38Z" fill="#000" filter="url(#bl1)"/>
<radialGradient id="g140"><stop offset="0" stop-color="#d2d2d2"/><stop offset=".9" stop-color="#d2d2d2"/><stop offset="1" stop-color="#aaa"/></radialGradient>
<path d="M412.6 107 L412.57 110.47 L412.5 111.88 L412.37 112.94 L412.19 113.79 L411.96 114.49 L411.67 115.07 L411.31 115.55 L410.89 115.93 L410.37 116.23 L409.73 116.44 L408.86 116.56 L406.75 116.6 L404.64 116.56 L403.77 116.44 L403.13 116.23 L402.61 115.93 L402.19 115.55 L401.83 115.07 L401.54 114.49 L401.31 113.79 L401.13 112.94 L401 111.88 L400.93 110.47 L400.9 107 L400.93 103.53 L401 102.12 L401.13 101.06 L401.31 100.21 L401.54 99.51 L401.83 98.93 L402.19 98.45 L402.61 98.07 L403.13 97.77 L403.77 97.56 L404.64 97.44 L406.75 97.4 L408.86 97.44 L409.73 97.56 L410.37 97.77 L410.89 98.07 L411.31 98.45 L411.67 98.93 L411.96 99.51 L412.19 100.21 L412.37 101.06 L412.5 102.12 L412.57 103.53Z" fill="url(#g140)" filter="url(#bl)"/>
</g>
<ellipse cx="408" cy="68" rx="4" ry="9" transform="rotate(0 408 68)" fill="#000" filter="url(#sps)" opacity="0.5"/>
<ellipse cx="407.5" cy="66.5" rx="2.2" ry="3" transform="rotate(0 407.5 66.5)" fill="#666" filter="url(#bl2)"/>
<rect x="369.8" y="41.75" width="73.2" height="77.85" fill="none" stroke="#000" stroke-width="1.7"/>
<rect x="401.2" y="55.5" width="14.1" height="25.8" fill="none" stroke="#000" stroke-width="1"/>
<text x="416.5" y="71.9" font-size="8.6">0.11</text>
<clipPath id="cFLU10"><rect x="446.4" y="42.55" width="71.3" height="76.25"/></clipPath>
<g clip-path="url(#cFLU10)">
<rect x="469.74" y="84.3" width="0.9" height="0.9" fill="#b7b7b7"/><rect x="463.21" y="88.15" width="0.7" height="0.7" fill="#b2b2b2"/><rect x="478.87" y="90.2" width="0.8" height="0.8" fill="#d2d2d2"/><rect x="482.48" y="91.74" width="0.6" height="0.6" fill="#9c9c9c"/><rect x="482.9" y="82.1" width="0.7" height="0.7" fill="#cbcbcb"/><rect x="469.11" y="83.28" width="0.7" height="0.7" fill="#adadad"/><rect x="463.16" y="85.23" width="0.8" height="0.8" fill="#cccccc"/><rect x="486.91" y="87.89" width="0.6" height="0.6" fill="#a9a9a9"/><rect x="491" y="94.26" width="0.9" height="0.9" fill="#cccccc"/><rect x="478.06" y="81.88" width="0.7" height="0.7" fill="#d1d1d1"/><rect x="481.42" y="89.92" width="0.6" height="0.6" fill="#949494"/><rect x="464.87" y="94.18" width="0.8" height="0.8" fill="#c4c4c4"/><rect x="496.65" y="95.65" width="0.8" height="0.8" fill="#a5a5a5"/><rect x="462.65" y="86.57" width="0.7" height="0.7" fill="#cfcfcf"/><rect x="458.14" y="93.82" width="0.7" height="0.7" fill="#9e9e9e"/><rect x="474.68" y="95.24" width="0.7" height="0.7" fill="#a3a3a3"/><rect x="469.54" y="87.5" width="0.6" height="0.6" fill="#b4b4b4"/><rect x="468.5" y="94.96" width="0.8" height="0.8" fill="#b7b7b7"/><rect x="476.93" y="91.47" width="0.8" height="0.8" fill="#919191"/><rect x="461.06" y="91.36" width="0.9" height="0.9" fill="#c2c2c2"/><rect x="463.19" y="90.71" width="0.9" height="0.9" fill="#919191"/><rect x="474.88" y="88.01" width="0.8" height="0.8" fill="#a0a0a0"/><rect x="464.94" y="87.83" width="0.9" height="0.9" fill="#a1a1a1"/><rect x="472.2" y="85.57" width="0.8" height="0.8" fill="#cfcfcf"/><rect x="469.42" y="82.14" width="0.6" height="0.6" fill="#d3d3d3"/><rect x="474.66" y="92.74" width="0.7" height="0.7" fill="#9c9c9c"/><rect x="479.2" y="88.31" width="0.7" height="0.7" fill="#d7d7d7"/><rect x="468.69" y="90.29" width="0.8" height="0.8" fill="#cccccc"/><rect x="460.1" y="88.26" width="0.8" height="0.8" fill="#cacaca"/><rect x="458.91" y="91.88" width="0.9" height="0.9" fill="#a6a6a6"/><rect x="470.72" y="92.53" width="0.6" height="0.6" fill="#959595"/><rect x="474.61" y="83.59" width="0.8" height="0.8" fill="#c9c9c9"/><rect x="473.01" y="87.52" width="0.8" height="0.8" fill="#d0d0d0"/><rect x="496.12" y="95.76" width="0.8" height="0.8" fill="#bdbdbd"/><rect x="475.31" y="95.48" width="0.7" height="0.7" fill="#c5c5c5"/><rect x="471.18" y="94.81" width="0.7" height="0.7" fill="#999999"/><rect x="488.62" y="95.44" width="0.6" height="0.6" fill="#989898"/><rect x="475.43" y="87.58" width="0.6" height="0.6" fill="#b5b5b5"/><rect x="491.52" y="91.06" width="0.8" height="0.8" fill="#999999"/><rect x="489.6" y="92.19" width="0.9" height="0.9" fill="#ababab"/><rect x="463.21" y="93.87" width="0.7" height="0.7" fill="#b7b7b7"/><rect x="478.11" y="89.74" width="0.9" height="0.9" fill="#a5a5a5"/><rect x="488.55" y="88.28" width="0.7" height="0.7" fill="#a8a8a8"/><rect x="482.65" y="81.27" width="0.9" height="0.9" fill="#acacac"/><rect x="478.87" y="95.8" width="0.6" height="0.6" fill="#a3a3a3"/><rect x="479.1" y="85.14" width="0.6" height="0.6" fill="#9f9f9f"/><rect x="483.97" y="85.94" width="0.6" height="0.6" fill="#d7d7d7"/><rect x="480.85" y="84.21" width="0.8" height="0.8" fill="#bcbcbc"/><rect x="473" y="92.58" width="0.8" height="0.8" fill="#cecece"/><rect x="474.45" y="87.76" width="0.9" height="0.9" fill="#c1c1c1"/><rect x="466.09" y="95.36" width="0.9" height="0.9" fill="#8e8e8e"/><rect x="467.88" y="84" width="0.6" height="0.6" fill="#bebebe"/><rect x="468.67" y="86.1" width="0.6" height="0.6" fill="#cccccc"/><rect x="491.77" y="89.63" width="0.6" height="0.6" fill="#9b9b9b"/><rect x="473.17" y="92.96" width="0.7" height="0.7" fill="#9e9e9e"/><rect x="493.28" y="91.27" width="0.9" height="0.9" fill="#949494"/><rect x="478.8" y="82.91" width="0.9" height="0.9" fill="#9f9f9f"/><rect x="485.54" y="94.34" width="0.7" height="0.7" fill="#a7a7a7"/><rect x="458.66" y="95.74" width="0.9" height="0.9" fill="#9e9e9e"/><rect x="477.02" y="84.09" width="0.9" height="0.9" fill="#a8a8a8"/><rect x="478.19" y="94.7" width="0.7" height="0.7" fill="#d1d1d1"/><rect x="468.95" y="92.2" width="0.8" height="0.8" fill="#939393"/><rect x="493.75" y="90.19" width="0.9" height="0.9" fill="#989898"/><rect x="457.45" y="95.97" width="0.9" height="0.9" fill="#c2c2c2"/><rect x="483.15" y="84.68" width="0.9" height="0.9" fill="#cdcdcd"/><rect x="474.62" y="86.14" width="0.8" height="0.8" fill="#8e8e8e"/><rect x="469.13" y="84.1" width="0.8" height="0.8" fill="#959595"/><rect x="457.91" y="93.68" width="0.7" height="0.7" fill="#9a9a9a"/><rect x="480.25" y="91.86" width="0.7" height="0.7" fill="#d1d1d1"/><rect x="462.73" y="86.57" width="0.8" height="0.8" fill="#959595"/><rect x="484.32" y="88.55" width="0.7" height="0.7" fill="#adadad"/><rect x="464.53" y="88.65" width="0.7" height="0.7" fill="#c7c7c7"/><rect x="469.45" y="86.8" width="0.8" height="0.8" fill="#cfcfcf"/><rect x="482.38" y="90.48" width="0.7" height="0.7" fill="#959595"/><rect x="473.64" y="95.57" width="0.6" height="0.6" fill="#a6a6a6"/><rect x="465.92" y="88.22" width="0.8" height="0.8" fill="#9c9c9c"/><rect x="492.94" y="92.5" width="0.6" height="0.6" fill="#d0d0d0"/><rect x="486.43" y="89.26" width="0.8" height="0.8" fill="#bdbdbd"/><rect x="463.87" y="88.41" width="0.7" height="0.7" fill="#9e9e9e"/><rect x="456.88" y="94.15" width="0.7" height="0.7" fill="#d2d2d2"/><rect x="492.74" y="88.04" width="0.9" height="0.9" fill="#c7c7c7"/><rect x="475.68" y="91.26" width="0.7" height="0.7" fill="#b8b8b8"/><rect x="465.01" y="86.93" width="0.6" height="0.6" fill="#d0d0d0"/><rect x="464.05" y="90.71" width="0.8" height="0.8" fill="#b6b6b6"/><rect x="461.18" y="89.34" width="0.9" height="0.9" fill="#c2c2c2"/><rect x="459.17" y="90.59" width="0.7" height="0.7" fill="#a9a9a9"/><rect x="487.31" y="92.09" width="0.9" height="0.9" fill="#959595"/><rect x="471.43" y="89.72" width="0.6" height="0.6" fill="#c4c4c4"/><rect x="451.04" y="93.81" width="0.7" height="0.7" fill="#cdcdcd"/><rect x="497.23" y="93.41" width="0.7" height="0.7" fill="#9c9c9c"/><rect x="480.98" y="86.98" width="0.9" height="0.9" fill="#9e9e9e"/><rect x="478.73" y="94.02" width="0.8" height="0.8" fill="#d5d5d5"/><rect x="482.6" y="86.02" width="0.6" height="0.6" fill="#a4a4a4"/><rect x="461.61" y="90.14" width="0.9" height="0.9" fill="#969696"/><rect x="467.93" y="88.23" width="0.6" height="0.6" fill="#bebebe"/><rect x="471.02" y="88.09" width="0.8" height="0.8" fill="#d6d6d6"/><rect x="461.13" y="95.47" width="0.9" height="0.9" fill="#d3d3d3"/><rect x="474.44" y="93.73" width="0.6" height="0.6" fill="#c8c8c8"/><rect x="460.84" y="86.5" width="0.9" height="0.9" fill="#d6d6d6"/><rect x="460.95" y="91.23" width="0.6" height="0.6" fill="#c9c9c9"/><rect x="485.59" y="95.21" width="0.9" height="0.9" fill="#919191"/><rect x="468.46" y="88.01" width="0.7" height="0.7" fill="#d3d3d3"/><rect x="490.11" y="87.27" width="0.7" height="0.7" fill="#c3c3c3"/><rect x="454.41" y="94.11" width="0.8" height="0.8" fill="#9d9d9d"/><rect x="487.69" y="90.84" width="0.8" height="0.8" fill="#8f8f8f"/><rect x="476.98" y="87.39" width="0.9" height="0.9" fill="#9a9a9a"/><rect x="467.67" y="81.56" width="0.7" height="0.7" fill="#d1d1d1"/><rect x="468.13" y="87.47" width="0.9" height="0.9" fill="#9e9e9e"/><rect x="486.34" y="87.18" width="0.9" height="0.9" fill="#cbcbcb"/><rect x="466.2" y="90.63" width="0.7" height="0.7" fill="#c4c4c4"/><rect x="479.94" y="92.87" width="0.7" height="0.7" fill="#d2d2d2"/><rect x="495.47" y="89.72" width="0.6" height="0.6" fill="#a3a3a3"/><rect x="485.19" y="92.97" width="0.6" height="0.6" fill="#c1c1c1"/><rect x="477.98" y="91.91" width="0.6" height="0.6" fill="#afafaf"/><rect x="480.94" y="86" width="0.7" height="0.7" fill="#cfcfcf"/><rect x="458.42" y="93.41" width="0.8" height="0.8" fill="#b4b4b4"/><rect x="456.49" y="87.1" width="0.6" height="0.6" fill="#cdcdcd"/><rect x="478.25" y="88.43" width="0.6" height="0.6" fill="#b5b5b5"/><rect x="466.22" y="92.28" width="0.6" height="0.6" fill="#bababa"/><rect x="468.01" y="84.58" width="0.9" height="0.9" fill="#aaaaaa"/><rect x="479.63" y="95.29" width="0.8" height="0.8" fill="#a8a8a8"/><rect x="490.77" y="93.28" width="0.8" height="0.8" fill="#d1d1d1"/><rect x="485.74" y="85.26" width="0.6" height="0.6" fill="#c9c9c9"/><rect x="487.66" y="95.53" width="0.9" height="0.9" fill="#9a9a9a"/><rect x="473.5" y="92.18" width="0.9" height="0.9" fill="#d3d3d3"/><rect x="490.09" y="90.99" width="0.7" height="0.7" fill="#b5b5b5"/><rect x="486.75" y="90.73" width="0.7" height="0.7" fill="#cbcbcb"/><rect x="453.87" y="90.21" width="0.6" height="0.6" fill="#cecece"/>
<path d="M475 106 L474.94 111.78 L474.74 114.14 L474.42 115.9 L473.96 117.31 L473.36 118.48 L472.61 119.45 L471.7 120.25 L470.61 120.89 L469.28 121.38 L467.63 121.73 L465.42 121.93 L460 122 L454.58 121.93 L452.37 121.73 L450.72 121.38 L449.39 120.89 L448.3 120.25 L447.39 119.45 L446.64 118.48 L446.04 117.31 L445.58 115.9 L445.26 114.14 L445.06 111.78 L445 106 L445.06 100.22 L445.26 97.86 L445.58 96.1 L446.04 94.69 L446.64 93.52 L447.39 92.55 L448.3 91.75 L449.39 91.11 L450.72 90.62 L452.37 90.27 L454.58 90.07 L460 90 L465.42 90.07 L467.63 90.27 L469.28 90.62 L470.61 91.11 L471.7 91.75 L472.61 92.55 L473.36 93.52 L473.96 94.69 L474.42 96.1 L474.74 97.86 L474.94 100.22Z" fill="#000" filter="url(#sp)"/>
<path d="M474 106.6 L473.94 112.16 L473.76 114.43 L473.46 116.13 L473.03 117.49 L472.47 118.62 L471.77 119.55 L470.92 120.32 L469.9 120.93 L468.66 121.4 L467.12 121.74 L465.06 121.93 L460 122 L454.94 121.93 L452.88 121.74 L451.34 121.4 L450.1 120.93 L449.08 120.32 L448.23 119.55 L447.53 118.62 L446.97 117.49 L446.54 116.13 L446.24 114.43 L446.06 112.16 L446 106.6 L446.06 101.04 L446.24 98.77 L446.54 97.07 L446.97 95.71 L447.53 94.58 L448.23 93.65 L449.08 92.88 L450.1 92.27 L451.34 91.8 L452.88 91.46 L454.94 91.27 L460 91.2 L465.06 91.27 L467.12 91.46 L468.66 91.8 L469.9 92.27 L470.92 92.88 L471.77 93.65 L472.47 94.58 L473.03 95.71 L473.46 97.07 L473.76 98.77 L473.94 101.04Z" fill="#000" filter="url(#bl1)"/>
<radialGradient id="g153"><stop offset="0" stop-color="#d2d2d2"/><stop offset=".9" stop-color="#dcdcdc"/><stop offset="1" stop-color="#aaa"/></radialGradient>
<path d="M470.6 105.9 L470.55 110.05 L470.4 111.75 L470.15 113.01 L469.8 114.03 L469.33 114.87 L468.75 115.57 L468.05 116.14 L467.2 116.6 L466.18 116.95 L464.9 117.2 L463.19 117.35 L459 117.4 L454.81 117.35 L453.1 117.2 L451.82 116.95 L450.8 116.6 L449.95 116.14 L449.25 115.57 L448.67 114.87 L448.2 114.03 L447.85 113.01 L447.6 111.75 L447.45 110.05 L447.4 105.9 L447.45 101.75 L447.6 100.05 L447.85 98.79 L448.2 97.77 L448.67 96.93 L449.25 96.23 L449.95 95.66 L450.8 95.2 L451.82 94.85 L453.1 94.6 L454.81 94.45 L459 94.4 L463.19 94.45 L464.9 94.6 L466.18 94.85 L467.2 95.2 L468.05 95.66 L468.75 96.23 L469.33 96.93 L469.8 97.77 L470.15 98.79 L470.4 100.05 L470.55 101.75Z" fill="url(#g153)" filter="url(#bl)"/>
<ellipse cx="460" cy="107.25" rx="5.2" ry="5.8" fill="none" stroke="#ececec" stroke-width="1.3" filter="url(#bl)"/>
<ellipse cx="460" cy="107.25" rx="2.6" ry="3.2" fill="#666" filter="url(#bl2)"/>
<path d="M487.5 107.5 L487.45 111.23 L487.32 113.39 L487.09 115.14 L486.77 116.63 L486.36 117.92 L485.85 119.01 L485.25 119.93 L484.54 120.67 L483.72 121.25 L482.75 121.67 L481.56 121.92 L479.5 122 L477.44 121.92 L476.25 121.67 L475.28 121.25 L474.46 120.67 L473.75 119.93 L473.15 119.01 L472.64 117.92 L472.23 116.63 L471.91 115.14 L471.68 113.39 L471.55 111.23 L471.5 107.5 L471.55 103.77 L471.68 101.61 L471.91 99.86 L472.23 98.37 L472.64 97.08 L473.15 95.99 L473.75 95.07 L474.46 94.33 L475.28 93.75 L476.25 93.33 L477.44 93.08 L479.5 93 L481.56 93.08 L482.75 93.33 L483.72 93.75 L484.54 94.33 L485.25 95.07 L485.85 95.99 L486.36 97.08 L486.77 98.37 L487.09 99.86 L487.32 101.61 L487.45 103.77Z" fill="#000" filter="url(#sp)"/>
<path d="M486.5 108.1 L486.46 111.68 L486.34 113.75 L486.14 115.43 L485.86 116.86 L485.5 118.08 L485.06 119.13 L484.53 120.01 L483.91 120.73 L483.19 121.29 L482.34 121.68 L481.3 121.92 L479.5 122 L477.7 121.92 L476.66 121.68 L475.81 121.29 L475.09 120.73 L474.47 120.01 L473.94 119.13 L473.5 118.08 L473.14 116.86 L472.86 115.43 L472.66 113.75 L472.54 111.68 L472.5 108.1 L472.54 104.52 L472.66 102.45 L472.86 100.77 L473.14 99.34 L473.5 98.12 L473.94 97.07 L474.47 96.19 L475.09 95.47 L475.81 94.91 L476.66 94.52 L477.7 94.28 L479.5 94.2 L481.3 94.28 L482.34 94.52 L483.19 94.91 L483.91 95.47 L484.53 96.19 L485.06 97.07 L485.5 98.12 L485.86 99.34 L486.14 100.77 L486.34 102.45 L486.46 104.52Z" fill="#000" filter="url(#bl1)"/>
<radialGradient id="g159"><stop offset="0" stop-color="#cdcdcd"/><stop offset=".9" stop-color="#cdcdcd"/><stop offset="1" stop-color="#aaa"/></radialGradient>
<path d="M483.1 108 L483.08 110.21 L483.01 111.49 L482.9 112.53 L482.74 113.42 L482.53 114.18 L482.28 114.83 L481.98 115.37 L481.63 115.81 L481.22 116.16 L480.74 116.4 L480.15 116.55 L479.13 116.6 L478.1 116.55 L477.51 116.4 L477.03 116.16 L476.62 115.81 L476.27 115.37 L475.97 114.83 L475.72 114.18 L475.51 113.42 L475.35 112.53 L475.24 111.49 L475.17 110.21 L475.15 108 L475.17 105.79 L475.24 104.51 L475.35 103.47 L475.51 102.58 L475.72 101.82 L475.97 101.17 L476.27 100.63 L476.62 100.19 L477.03 99.84 L477.51 99.6 L478.1 99.45 L479.12 99.4 L480.15 99.45 L480.74 99.6 L481.22 99.84 L481.63 100.19 L481.98 100.63 L482.28 101.17 L482.53 101.82 L482.74 102.58 L482.9 103.47 L483.01 104.51 L483.08 105.79Z" fill="url(#g159)" filter="url(#bl)"/>
</g>
<ellipse cx="482" cy="68" rx="5" ry="8" transform="rotate(0 482 68)" fill="#000" filter="url(#sps)" opacity="0.25"/>
<rect x="445.6" y="41.75" width="72.9" height="77.85" fill="none" stroke="#000" stroke-width="1.7"/>
<rect x="471.5" y="55.2" width="20" height="24.3" fill="none" stroke="#000" stroke-width="1"/>
<text x="493.75" y="71.9" font-size="8.6">0.03</text>
<clipPath id="cEBV01"><rect x="199.7" y="127" width="71.8" height="75.8"/></clipPath>
<g clip-path="url(#cEBV01)">
<rect x="223.84" y="157.7" width="0.8" height="0.8" fill="#b0b0b0"/><rect x="224.73" y="153.3" width="0.7" height="0.7" fill="#c0c0c0"/><rect x="214.86" y="170.49" width="0.8" height="0.8" fill="#c5c5c5"/><rect x="236.04" y="152.43" width="0.9" height="0.9" fill="#adadad"/><rect x="207.29" y="168.13" width="0.8" height="0.8" fill="#a4a4a4"/><rect x="214.22" y="168.83" width="0.9" height="0.9" fill="#b5b5b5"/><rect x="230.15" y="152.96" width="0.6" height="0.6" fill="#c8c8c8"/><rect x="214.98" y="171.02" width="0.8" height="0.8" fill="#c1c1c1"/><rect x="231.45" y="171.15" width="0.8" height="0.8" fill="#b0b0b0"/><rect x="241.29" y="167.08" width="0.6" height="0.6" fill="#949494"/><rect x="221.85" y="160.03" width="0.9" height="0.9" fill="#d7d7d7"/><rect x="216.11" y="156.05" width="0.6" height="0.6" fill="#9a9a9a"/><rect x="220.01" y="169.89" width="0.8" height="0.8" fill="#b4b4b4"/><rect x="214.48" y="161.05" width="0.9" height="0.9" fill="#acacac"/><rect x="230.22" y="166.77" width="0.8" height="0.8" fill="#cdcdcd"/><rect x="231.78" y="163.15" width="0.8" height="0.8" fill="#aaaaaa"/><rect x="242.53" y="165.46" width="0.7" height="0.7" fill="#c2c2c2"/><rect x="221.99" y="171.24" width="0.6" height="0.6" fill="#a2a2a2"/><rect x="229.58" y="155.83" width="0.9" height="0.9" fill="#a7a7a7"/><rect x="245.52" y="165.83" width="0.6" height="0.6" fill="#cdcdcd"/><rect x="225" y="161.21" width="0.6" height="0.6" fill="#8c8c8c"/><rect x="241.21" y="164.96" width="0.9" height="0.9" fill="#adadad"/><rect x="217.68" y="157.79" width="0.9" height="0.9" fill="#b1b1b1"/><rect x="220.77" y="169.3" width="0.7" height="0.7" fill="#b4b4b4"/><rect x="225.69" y="163.21" width="0.9" height="0.9" fill="#bababa"/><rect x="240.04" y="159.11" width="0.8" height="0.8" fill="#cccccc"/><rect x="210.79" y="158.12" width="0.8" height="0.8" fill="#a5a5a5"/><rect x="208.59" y="164.37" width="0.8" height="0.8" fill="#ababab"/><rect x="236.29" y="157.22" width="0.8" height="0.8" fill="#a6a6a6"/><rect x="232.92" y="164.18" width="0.7" height="0.7" fill="#a9a9a9"/><rect x="210.99" y="155.31" width="0.6" height="0.6" fill="#d2d2d2"/><rect x="212.61" y="168.74" width="0.8" height="0.8" fill="#979797"/><rect x="217.09" y="168.6" width="0.8" height="0.8" fill="#b0b0b0"/><rect x="236.44" y="167.66" width="0.7" height="0.7" fill="#9a9a9a"/><rect x="214.69" y="160.44" width="0.6" height="0.6" fill="#c5c5c5"/><rect x="210.19" y="167.57" width="0.7" height="0.7" fill="#cecece"/><rect x="234.55" y="170.37" width="0.9" height="0.9" fill="#cecece"/><rect x="240.44" y="160.78" width="0.9" height="0.9" fill="#d2d2d2"/><rect x="222.69" y="157.37" width="0.8" height="0.8" fill="#a8a8a8"/><rect x="213.22" y="161.3" width="0.6" height="0.6" fill="#a7a7a7"/><rect x="241.06" y="158.52" width="0.6" height="0.6" fill="#cbcbcb"/><rect x="222.23" y="169.58" width="0.7" height="0.7" fill="#d2d2d2"/><rect x="215.27" y="167.1" width="0.9" height="0.9" fill="#acacac"/><rect x="222.04" y="171.21" width="0.6" height="0.6" fill="#939393"/><rect x="242.89" y="169.76" width="0.8" height="0.8" fill="#9a9a9a"/><rect x="228.34" y="167.71" width="0.7" height="0.7" fill="#c1c1c1"/><rect x="237.35" y="170.61" width="0.9" height="0.9" fill="#bcbcbc"/><rect x="238.78" y="167.25" width="0.6" height="0.6" fill="#939393"/><rect x="207.78" y="170.53" width="0.8" height="0.8" fill="#b2b2b2"/><rect x="228.26" y="150.67" width="0.9" height="0.9" fill="#a4a4a4"/><rect x="237.7" y="167.54" width="0.6" height="0.6" fill="#a3a3a3"/><rect x="237.35" y="163.29" width="0.8" height="0.8" fill="#c3c3c3"/><rect x="228.33" y="158.33" width="0.9" height="0.9" fill="#979797"/><rect x="242.92" y="162.66" width="0.6" height="0.6" fill="#bebebe"/><rect x="221.06" y="165.66" width="0.6" height="0.6" fill="#a9a9a9"/><rect x="230.36" y="171.16" width="0.6" height="0.6" fill="#9b9b9b"/><rect x="245.9" y="171.46" width="0.6" height="0.6" fill="#b8b8b8"/><rect x="228.16" y="163.34" width="0.8" height="0.8" fill="#a2a2a2"/><rect x="242.99" y="171.14" width="0.9" height="0.9" fill="#c4c4c4"/><rect x="230.5" y="167.2" width="0.8" height="0.8" fill="#c9c9c9"/><rect x="229.49" y="160.64" width="0.9" height="0.9" fill="#c5c5c5"/><rect x="214.19" y="162.41" width="0.9" height="0.9" fill="#919191"/><rect x="233.84" y="157.46" width="0.7" height="0.7" fill="#d1d1d1"/><rect x="226.27" y="166.77" width="0.6" height="0.6" fill="#b7b7b7"/><rect x="208.76" y="159.57" width="0.7" height="0.7" fill="#acacac"/><rect x="231.55" y="155.16" width="0.6" height="0.6" fill="#8d8d8d"/><rect x="226.35" y="159.27" width="0.9" height="0.9" fill="#b9b9b9"/><rect x="219.01" y="168.6" width="0.9" height="0.9" fill="#b5b5b5"/><rect x="220.08" y="171.48" width="0.7" height="0.7" fill="#c1c1c1"/><rect x="243.06" y="164.95" width="0.9" height="0.9" fill="#bfbfbf"/><rect x="223.8" y="156.01" width="0.7" height="0.7" fill="#a2a2a2"/><rect x="241.56" y="167.18" width="0.6" height="0.6" fill="#b6b6b6"/><rect x="235.94" y="157.18" width="0.7" height="0.7" fill="#d5d5d5"/><rect x="226.15" y="154.8" width="0.9" height="0.9" fill="#ababab"/><rect x="238.76" y="162.65" width="0.7" height="0.7" fill="#b0b0b0"/><rect x="225.62" y="171.15" width="0.8" height="0.8" fill="#a6a6a6"/><rect x="225.32" y="170.8" width="0.6" height="0.6" fill="#a5a5a5"/><rect x="208.98" y="166.44" width="0.8" height="0.8" fill="#939393"/><rect x="231.78" y="171.44" width="0.8" height="0.8" fill="#b7b7b7"/><rect x="207.17" y="170.27" width="0.7" height="0.7" fill="#939393"/><rect x="239.29" y="163.11" width="0.8" height="0.8" fill="#969696"/><rect x="232.91" y="166.46" width="0.8" height="0.8" fill="#c3c3c3"/><rect x="224.56" y="159.51" width="0.9" height="0.9" fill="#939393"/><rect x="216.9" y="165.65" width="0.7" height="0.7" fill="#8d8d8d"/><rect x="236.26" y="167.08" width="0.8" height="0.8" fill="#949494"/><rect x="234.56" y="164.46" width="0.8" height="0.8" fill="#cecece"/><rect x="246.33" y="159.86" width="0.7" height="0.7" fill="#8e8e8e"/><rect x="229.72" y="161.51" width="0.9" height="0.9" fill="#cfcfcf"/><rect x="250.12" y="169.49" width="0.8" height="0.8" fill="#d2d2d2"/><rect x="228.92" y="168.49" width="0.9" height="0.9" fill="#9e9e9e"/><rect x="207.82" y="168.09" width="0.9" height="0.9" fill="#c1c1c1"/><rect x="237.29" y="156.98" width="0.8" height="0.8" fill="#8d8d8d"/><rect x="210.17" y="164.04" width="0.8" height="0.8" fill="#aeaeae"/><rect x="221.72" y="163.58" width="0.7" height="0.7" fill="#b7b7b7"/><rect x="227.15" y="166.07" width="0.8" height="0.8" fill="#8f8f8f"/><rect x="221.28" y="162.57" width="0.9" height="0.9" fill="#a6a6a6"/>
<path d="M236 186.25 L235.93 195.44 L235.74 198.33 L235.41 200.38 L234.94 201.98 L234.32 203.26 L233.54 204.31 L232.58 205.16 L231.4 205.84 L229.94 206.35 L228.07 206.71 L225.41 206.93 L217 207 L208.59 206.93 L205.93 206.71 L204.06 206.35 L202.6 205.84 L201.42 205.16 L200.46 204.31 L199.68 203.26 L199.06 201.98 L198.59 200.38 L198.26 198.33 L198.07 195.44 L198 186.25 L198.07 177.06 L198.26 174.17 L198.59 172.12 L199.06 170.52 L199.68 169.24 L200.46 168.19 L201.42 167.34 L202.6 166.66 L204.06 166.15 L205.93 165.79 L208.59 165.57 L217 165.5 L225.41 165.57 L228.07 165.79 L229.94 166.15 L231.4 166.66 L232.58 167.34 L233.54 168.19 L234.32 169.24 L234.94 170.52 L235.41 172.12 L235.74 174.17 L235.93 177.06Z" fill="#000" filter="url(#sp)" opacity="0.7"/>
<path d="M238 187.75 L237.93 196.28 L237.71 198.96 L237.35 200.86 L236.83 202.34 L236.14 203.53 L235.28 204.51 L234.22 205.3 L232.92 205.92 L231.3 206.4 L229.23 206.73 L226.3 206.93 L217 207 L207.7 206.93 L204.77 206.73 L202.7 206.4 L201.08 205.92 L199.78 205.3 L198.72 204.51 L197.86 203.53 L197.17 202.34 L196.65 200.86 L196.29 198.96 L196.07 196.28 L196 187.75 L196.07 179.22 L196.29 176.54 L196.65 174.64 L197.17 173.16 L197.86 171.97 L198.72 170.99 L199.78 170.2 L201.08 169.58 L202.7 169.1 L204.77 168.77 L207.7 168.57 L217 168.5 L226.3 168.57 L229.23 168.77 L231.3 169.1 L232.92 169.58 L234.22 170.2 L235.28 170.99 L236.14 171.97 L236.83 173.16 L237.35 174.64 L237.71 176.54 L237.93 179.22Z" fill="#000" filter="url(#sp)"/>
<path d="M237 188.35 L236.93 196.61 L236.72 199.21 L236.38 201.05 L235.88 202.48 L235.23 203.64 L234.41 204.59 L233.4 205.35 L232.16 205.96 L230.62 206.42 L228.65 206.74 L225.86 206.94 L217 207 L208.14 206.94 L205.35 206.74 L203.38 206.42 L201.84 205.96 L200.6 205.35 L199.59 204.59 L198.77 203.64 L198.12 202.48 L197.62 201.05 L197.28 199.21 L197.07 196.61 L197 188.35 L197.07 180.09 L197.28 177.49 L197.62 175.65 L198.12 174.22 L198.77 173.06 L199.59 172.11 L200.6 171.35 L201.84 170.74 L203.38 170.28 L205.35 169.96 L208.14 169.76 L217 169.7 L225.86 169.76 L228.65 169.96 L230.62 170.28 L232.16 170.74 L233.4 171.35 L234.41 172.11 L235.23 173.06 L235.88 174.22 L236.38 175.65 L236.72 177.49 L236.93 180.09Z" fill="#000" filter="url(#bl1)"/>
<radialGradient id="g172"><stop offset="0" stop-color="#e6e6e6"/><stop offset=".9" stop-color="#dedede"/><stop offset="1" stop-color="#aaa"/></radialGradient>
<path d="M225.1 188.65 L225.05 195.49 L224.91 197.65 L224.67 199.17 L224.33 200.36 L223.88 201.32 L223.31 202.1 L222.61 202.73 L221.75 203.24 L220.68 203.62 L219.32 203.89 L217.38 204.05 L211.25 204.1 L205.12 204.05 L203.18 203.89 L201.82 203.62 L200.75 203.24 L199.89 202.73 L199.19 202.1 L198.62 201.32 L198.17 200.36 L197.83 199.17 L197.59 197.65 L197.45 195.49 L197.4 188.65 L197.45 181.81 L197.59 179.65 L197.83 178.13 L198.17 176.94 L198.62 175.98 L199.19 175.2 L199.89 174.57 L200.75 174.06 L201.82 173.68 L203.18 173.41 L205.12 173.25 L211.25 173.2 L217.38 173.25 L219.32 173.41 L220.68 173.68 L221.75 174.06 L222.61 174.57 L223.31 175.2 L223.88 175.98 L224.33 176.94 L224.67 178.13 L224.91 179.65 L225.05 181.81Z" fill="url(#g172)" filter="url(#bl)"/>
<path d="M251 187 L250.94 189.43 L250.74 191.54 L250.43 193.47 L249.99 195.25 L249.43 196.87 L248.77 198.31 L248 199.56 L247.14 200.6 L246.2 201.42 L245.16 202.02 L244.05 202.38 L242.75 202.5 L241.45 202.38 L240.34 202.02 L239.3 201.42 L238.36 200.6 L237.5 199.56 L236.73 198.31 L236.07 196.87 L235.51 195.25 L235.07 193.47 L234.76 191.54 L234.56 189.43 L234.5 187 L234.56 184.57 L234.76 182.46 L235.07 180.53 L235.51 178.75 L236.07 177.13 L236.73 175.69 L237.5 174.44 L238.36 173.4 L239.3 172.58 L240.34 171.98 L241.45 171.62 L242.75 171.5 L244.05 171.62 L245.16 171.98 L246.2 172.58 L247.14 173.4 L248 174.44 L248.77 175.69 L249.43 177.13 L249.99 178.75 L250.43 180.53 L250.74 182.46 L250.94 184.57Z" fill="#000" filter="url(#sp)"/>
<path d="M250 187.6 L249.94 189.94 L249.78 191.96 L249.5 193.82 L249.11 195.53 L248.62 197.09 L248.04 198.47 L247.37 199.67 L246.61 200.67 L245.78 201.47 L244.87 202.04 L243.89 202.38 L242.75 202.5 L241.61 202.38 L240.63 202.04 L239.72 201.47 L238.89 200.67 L238.13 199.67 L237.46 198.47 L236.88 197.09 L236.39 195.53 L236 193.82 L235.72 191.96 L235.56 189.94 L235.5 187.6 L235.56 185.26 L235.72 183.24 L236 181.38 L236.39 179.67 L236.88 178.11 L237.46 176.73 L238.13 175.53 L238.89 174.53 L239.72 173.73 L240.63 173.16 L241.61 172.82 L242.75 172.7 L243.89 172.82 L244.87 173.16 L245.78 173.73 L246.61 174.53 L247.37 175.53 L248.04 176.73 L248.62 178.11 L249.11 179.67 L249.5 181.38 L249.78 183.24 L249.94 185.26Z" fill="#000" filter="url(#bl1)"/>
<radialGradient id="g176"><stop offset="0" stop-color="#f2f2f2"/><stop offset=".9" stop-color="#eaeaea"/><stop offset="1" stop-color="#aaa"/></radialGradient>
<path d="M247.9 187.5 L247.86 189.29 L247.74 190.84 L247.55 192.26 L247.27 193.57 L246.93 194.76 L246.52 195.82 L246.05 196.74 L245.52 197.5 L244.93 198.11 L244.29 198.55 L243.6 198.81 L242.8 198.9 L242 198.81 L241.31 198.55 L240.67 198.11 L240.08 197.5 L239.55 196.74 L239.08 195.82 L238.67 194.76 L238.33 193.57 L238.05 192.26 L237.86 190.84 L237.74 189.29 L237.7 187.5 L237.74 185.71 L237.86 184.16 L238.05 182.74 L238.33 181.43 L238.67 180.24 L239.08 179.18 L239.55 178.26 L240.08 177.5 L240.67 176.89 L241.31 176.45 L242 176.19 L242.8 176.1 L243.6 176.19 L244.29 176.45 L244.93 176.89 L245.52 177.5 L246.05 178.26 L246.52 179.18 L246.93 180.24 L247.27 181.43 L247.55 182.74 L247.74 184.16 L247.86 185.71Z" fill="url(#g176)" filter="url(#bl)"/>
</g>
<ellipse cx="239.5" cy="146.5" rx="2.5" ry="8" transform="rotate(63 239.5 146.5)" fill="#000" filter="url(#sps)" opacity="0.5"/>
<ellipse cx="240" cy="146.3" rx="1.6" ry="6.5" transform="rotate(63 240 146.3)" fill="#000" filter="url(#spm)" opacity="0.6"/>
<ellipse cx="240.5" cy="146" rx="1" ry="5" transform="rotate(63 240.5 146)" fill="#888" filter="url(#bl2)"/>
<rect x="198.9" y="126.2" width="73.4" height="77.4" fill="none" stroke="#000" stroke-width="1.7"/>
<rect x="229.3" y="133.3" width="22.2" height="27.2" fill="none" stroke="#000" stroke-width="1"/>
<text x="250.75" y="158.9" font-size="8.6">0.05</text>
<clipPath id="cEBV11"><rect x="276.6" y="127" width="71.2" height="75.8"/></clipPath>
<g clip-path="url(#cEBV11)">
<rect x="306.88" y="156.83" width="0.7" height="0.7" fill="#8e8e8e"/><rect x="304.56" y="163.51" width="0.9" height="0.9" fill="#a1a1a1"/><rect x="296.56" y="156.46" width="0.9" height="0.9" fill="#b0b0b0"/><rect x="294.67" y="162.72" width="0.9" height="0.9" fill="#a0a0a0"/><rect x="288.55" y="159.78" width="0.6" height="0.6" fill="#cfcfcf"/><rect x="301.8" y="160.64" width="0.8" height="0.8" fill="#a9a9a9"/><rect x="303.15" y="165.57" width="0.9" height="0.9" fill="#959595"/><rect x="314.97" y="170.6" width="0.6" height="0.6" fill="#9f9f9f"/><rect x="316.84" y="167.48" width="0.8" height="0.8" fill="#8c8c8c"/><rect x="316.65" y="171.96" width="0.8" height="0.8" fill="#bababa"/><rect x="291.12" y="167.79" width="0.7" height="0.7" fill="#a8a8a8"/><rect x="306.34" y="157.82" width="0.8" height="0.8" fill="#909090"/><rect x="295.68" y="162.53" width="0.8" height="0.8" fill="#c9c9c9"/><rect x="314.76" y="166.36" width="0.9" height="0.9" fill="#b8b8b8"/><rect x="287.79" y="169.04" width="0.8" height="0.8" fill="#c7c7c7"/><rect x="319.38" y="167.7" width="0.7" height="0.7" fill="#cacaca"/><rect x="308.15" y="166.27" width="0.8" height="0.8" fill="#a4a4a4"/><rect x="321.86" y="168.61" width="0.8" height="0.8" fill="#999999"/><rect x="291.49" y="156.82" width="0.7" height="0.7" fill="#959595"/><rect x="321.52" y="169.59" width="0.9" height="0.9" fill="#bdbdbd"/><rect x="302.34" y="170.68" width="0.8" height="0.8" fill="#c1c1c1"/><rect x="298.33" y="157.53" width="0.7" height="0.7" fill="#939393"/><rect x="307.97" y="164.13" width="0.9" height="0.9" fill="#9d9d9d"/><rect x="317.87" y="165.49" width="0.6" height="0.6" fill="#929292"/><rect x="298.04" y="166.33" width="0.7" height="0.7" fill="#bcbcbc"/><rect x="309" y="165.08" width="0.6" height="0.6" fill="#c2c2c2"/><rect x="306.36" y="159.23" width="0.7" height="0.7" fill="#b9b9b9"/><rect x="324.77" y="163.12" width="0.9" height="0.9" fill="#a0a0a0"/><rect x="322.19" y="160.57" width="0.8" height="0.8" fill="#a4a4a4"/><rect x="285.33" y="167.48" width="0.7" height="0.7" fill="#b4b4b4"/><rect x="302.62" y="151.4" width="0.8" height="0.8" fill="#b4b4b4"/><rect x="319.36" y="161.77" width="0.9" height="0.9" fill="#c2c2c2"/><rect x="316.19" y="152.95" width="0.6" height="0.6" fill="#b6b6b6"/><rect x="293.71" y="153.43" width="0.9" height="0.9" fill="#bfbfbf"/><rect x="306.39" y="166.83" width="0.9" height="0.9" fill="#cfcfcf"/><rect x="299.91" y="171.52" width="0.9" height="0.9" fill="#adadad"/><rect x="292.55" y="163.15" width="0.9" height="0.9" fill="#ababab"/><rect x="309.8" y="171.17" width="0.9" height="0.9" fill="#c6c6c6"/><rect x="310.07" y="152.54" width="0.6" height="0.6" fill="#d7d7d7"/><rect x="299.12" y="166.64" width="0.8" height="0.8" fill="#a2a2a2"/><rect x="302.77" y="160.22" width="0.8" height="0.8" fill="#cfcfcf"/><rect x="298.27" y="168.08" width="0.7" height="0.7" fill="#bfbfbf"/><rect x="307.68" y="152.55" width="0.6" height="0.6" fill="#c3c3c3"/><rect x="305.59" y="168.67" width="0.6" height="0.6" fill="#acacac"/><rect x="287.03" y="170.45" width="0.7" height="0.7" fill="#b9b9b9"/><rect x="314.55" y="159.55" width="0.8" height="0.8" fill="#bababa"/><rect x="294.55" y="170.87" width="0.8" height="0.8" fill="#cccccc"/><rect x="309.81" y="163.85" width="0.6" height="0.6" fill="#9d9d9d"/><rect x="294.19" y="168.35" width="0.8" height="0.8" fill="#b5b5b5"/><rect x="314.57" y="166.02" width="0.9" height="0.9" fill="#8e8e8e"/><rect x="318.09" y="154.26" width="0.8" height="0.8" fill="#949494"/><rect x="300.76" y="171.9" width="0.6" height="0.6" fill="#c2c2c2"/><rect x="323.07" y="169.62" width="0.8" height="0.8" fill="#8e8e8e"/><rect x="314.37" y="164.24" width="0.8" height="0.8" fill="#9f9f9f"/><rect x="293.95" y="160.69" width="0.8" height="0.8" fill="#929292"/><rect x="319.92" y="169.03" width="0.7" height="0.7" fill="#b2b2b2"/><rect x="317.47" y="162" width="0.6" height="0.6" fill="#a8a8a8"/><rect x="322.04" y="166.45" width="0.6" height="0.6" fill="#d0d0d0"/><rect x="283.95" y="169.84" width="0.8" height="0.8" fill="#9a9a9a"/><rect x="312.84" y="171.61" width="0.9" height="0.9" fill="#c8c8c8"/><rect x="315.2" y="158.05" width="0.7" height="0.7" fill="#c6c6c6"/><rect x="307.47" y="161.97" width="0.7" height="0.7" fill="#919191"/><rect x="301.82" y="166.03" width="0.7" height="0.7" fill="#cfcfcf"/><rect x="289.95" y="163.8" width="0.9" height="0.9" fill="#a3a3a3"/><rect x="299.82" y="169.1" width="0.9" height="0.9" fill="#b6b6b6"/><rect x="303.9" y="161.29" width="0.6" height="0.6" fill="#8c8c8c"/><rect x="310.98" y="167.17" width="0.9" height="0.9" fill="#bfbfbf"/><rect x="297.38" y="171.99" width="0.8" height="0.8" fill="#a4a4a4"/><rect x="307.76" y="163.12" width="0.6" height="0.6" fill="#b6b6b6"/><rect x="298.44" y="166.23" width="0.7" height="0.7" fill="#989898"/><rect x="325.94" y="167.49" width="0.8" height="0.8" fill="#9e9e9e"/><rect x="298.39" y="162.91" width="0.9" height="0.9" fill="#989898"/><rect x="295.85" y="166.62" width="0.7" height="0.7" fill="#c1c1c1"/><rect x="318.14" y="170.01" width="0.6" height="0.6" fill="#a0a0a0"/><rect x="293.29" y="169.87" width="0.6" height="0.6" fill="#d6d6d6"/><rect x="298.53" y="160.08" width="0.7" height="0.7" fill="#c1c1c1"/><rect x="306.04" y="153.19" width="0.6" height="0.6" fill="#b1b1b1"/><rect x="307.29" y="165.03" width="0.6" height="0.6" fill="#b6b6b6"/><rect x="318.71" y="162.19" width="0.7" height="0.7" fill="#999999"/><rect x="298.88" y="164.8" width="0.7" height="0.7" fill="#969696"/><rect x="299.93" y="171.74" width="0.8" height="0.8" fill="#afafaf"/><rect x="308.77" y="170.91" width="0.7" height="0.7" fill="#b2b2b2"/><rect x="284.02" y="167.99" width="0.6" height="0.6" fill="#a7a7a7"/><rect x="287.53" y="162.65" width="0.9" height="0.9" fill="#acacac"/><rect x="300.17" y="159.16" width="0.8" height="0.8" fill="#b0b0b0"/><rect x="301.88" y="165.67" width="0.7" height="0.7" fill="#adadad"/><rect x="308.51" y="155.1" width="0.6" height="0.6" fill="#d3d3d3"/><rect x="283.28" y="169.94" width="0.7" height="0.7" fill="#d2d2d2"/><rect x="289.99" y="169.32" width="0.9" height="0.9" fill="#b8b8b8"/><rect x="303.2" y="162.43" width="0.8" height="0.8" fill="#aaaaaa"/><rect x="285.48" y="164.07" width="0.8" height="0.8" fill="#959595"/><rect x="304.61" y="159.25" width="0.9" height="0.9" fill="#bfbfbf"/><rect x="283.27" y="167.79" width="0.9" height="0.9" fill="#c4c4c4"/><rect x="302.16" y="168.89" width="0.9" height="0.9" fill="#8f8f8f"/><rect x="302.99" y="169.4" width="0.6" height="0.6" fill="#d0d0d0"/><rect x="295.32" y="162.49" width="0.7" height="0.7" fill="#919191"/><rect x="287.49" y="162.77" width="0.9" height="0.9" fill="#bcbcbc"/><rect x="321.49" y="166.76" width="0.6" height="0.6" fill="#c2c2c2"/><rect x="320.84" y="161.91" width="0.6" height="0.6" fill="#bcbcbc"/><rect x="320.84" y="159.55" width="0.6" height="0.6" fill="#999999"/><rect x="297.24" y="164.92" width="0.8" height="0.8" fill="#bbbbbb"/><rect x="306.14" y="166.06" width="0.9" height="0.9" fill="#a2a2a2"/><rect x="298.32" y="170.96" width="0.7" height="0.7" fill="#b7b7b7"/><rect x="307.55" y="170.48" width="0.9" height="0.9" fill="#a8a8a8"/><rect x="312.01" y="164.26" width="0.8" height="0.8" fill="#a9a9a9"/><rect x="286.09" y="167.03" width="0.6" height="0.6" fill="#b6b6b6"/><rect x="321.54" y="163.08" width="0.6" height="0.6" fill="#9d9d9d"/><rect x="303.67" y="171.46" width="0.8" height="0.8" fill="#b9b9b9"/><rect x="310.35" y="169.74" width="0.7" height="0.7" fill="#9a9a9a"/><rect x="302.07" y="150.66" width="0.9" height="0.9" fill="#8c8c8c"/><rect x="296.09" y="160.41" width="0.8" height="0.8" fill="#a8a8a8"/><rect x="311.96" y="171.66" width="0.6" height="0.6" fill="#b1b1b1"/>
<path d="M303.5 186.5 L303.46 196.9 L303.34 199.56 L303.13 201.38 L302.83 202.77 L302.44 203.87 L301.95 204.76 L301.33 205.48 L300.56 206.04 L299.6 206.47 L298.33 206.76 L296.48 206.94 L289.25 207 L282.02 206.94 L280.17 206.76 L278.9 206.47 L277.94 206.04 L277.17 205.48 L276.55 204.76 L276.06 203.87 L275.67 202.77 L275.37 201.38 L275.16 199.56 L275.04 196.9 L275 186.5 L275.04 176.1 L275.16 173.44 L275.37 171.62 L275.67 170.23 L276.06 169.13 L276.55 168.24 L277.17 167.52 L277.94 166.96 L278.9 166.53 L280.17 166.24 L282.02 166.06 L289.25 166 L296.48 166.06 L298.33 166.24 L299.6 166.53 L300.56 166.96 L301.33 167.52 L301.95 168.24 L302.44 169.13 L302.83 170.23 L303.13 171.62 L303.34 173.44 L303.46 176.1Z" fill="#000" filter="url(#sp)" opacity="0.7"/>
<path d="M305.5 188 L305.45 197.64 L305.31 200.11 L305.08 201.79 L304.74 203.08 L304.29 204.1 L303.73 204.93 L303.02 205.59 L302.15 206.11 L301.05 206.51 L299.61 206.78 L297.49 206.95 L289.25 207 L281.01 206.95 L278.89 206.78 L277.45 206.51 L276.35 206.11 L275.48 205.59 L274.77 204.93 L274.21 204.1 L273.76 203.08 L273.42 201.79 L273.19 200.11 L273.05 197.64 L273 188 L273.05 178.36 L273.19 175.89 L273.42 174.21 L273.76 172.92 L274.21 171.9 L274.77 171.07 L275.48 170.41 L276.35 169.89 L277.45 169.49 L278.89 169.22 L281.01 169.05 L289.25 169 L297.49 169.05 L299.61 169.22 L301.05 169.49 L302.15 169.89 L303.02 170.41 L303.73 171.07 L304.29 171.9 L304.74 172.92 L305.08 174.21 L305.31 175.89 L305.45 178.36Z" fill="#000" filter="url(#sp)"/>
<path d="M304.5 188.6 L304.46 197.93 L304.32 200.33 L304.1 201.96 L303.79 203.2 L303.37 204.19 L302.84 204.99 L302.17 205.63 L301.35 206.14 L300.32 206.52 L298.97 206.79 L296.99 206.95 L289.25 207 L281.51 206.95 L279.53 206.79 L278.18 206.52 L277.15 206.14 L276.33 205.63 L275.66 204.99 L275.13 204.19 L274.71 203.2 L274.4 201.96 L274.18 200.33 L274.04 197.93 L274 188.6 L274.04 179.27 L274.18 176.87 L274.4 175.24 L274.71 174 L275.13 173.01 L275.66 172.21 L276.33 171.57 L277.15 171.06 L278.18 170.68 L279.53 170.41 L281.51 170.25 L289.25 170.2 L296.99 170.25 L298.97 170.41 L300.32 170.68 L301.35 171.06 L302.17 171.57 L302.84 172.21 L303.37 173.01 L303.79 174 L304.1 175.24 L304.32 176.87 L304.46 179.27Z" fill="#000" filter="url(#bl1)"/>
<radialGradient id="g191"><stop offset="0" stop-color="#e2e2e2"/><stop offset=".9" stop-color="#dadada"/><stop offset="1" stop-color="#aaa"/></radialGradient>
<path d="M301.3 188.65 L301.26 196.49 L301.15 198.5 L300.95 199.87 L300.67 200.91 L300.3 201.74 L299.83 202.41 L299.25 202.95 L298.53 203.38 L297.61 203.7 L296.42 203.92 L294.67 204.06 L287.85 204.1 L281.03 204.06 L279.28 203.92 L278.09 203.7 L277.17 203.38 L276.45 202.95 L275.87 202.41 L275.4 201.74 L275.03 200.91 L274.75 199.87 L274.55 198.5 L274.44 196.49 L274.4 188.65 L274.44 180.81 L274.55 178.8 L274.75 177.43 L275.03 176.39 L275.4 175.56 L275.87 174.89 L276.45 174.35 L277.17 173.92 L278.09 173.6 L279.28 173.38 L281.03 173.24 L287.85 173.2 L294.67 173.24 L296.42 173.38 L297.61 173.6 L298.53 173.92 L299.25 174.35 L299.83 174.89 L300.3 175.56 L300.67 176.39 L300.95 177.43 L301.15 178.8 L301.26 180.81Z" fill="url(#g191)" filter="url(#bl)"/>
<path d="M314 190 L313.97 195.42 L313.89 197.63 L313.75 199.28 L313.55 200.61 L313.29 201.7 L312.97 202.61 L312.57 203.36 L312.1 203.96 L311.52 204.42 L310.81 204.74 L309.85 204.94 L307.5 205 L305.15 204.94 L304.19 204.74 L303.48 204.42 L302.9 203.96 L302.43 203.36 L302.03 202.61 L301.71 201.7 L301.45 200.61 L301.25 199.28 L301.11 197.63 L301.03 195.42 L301 190 L301.03 184.58 L301.11 182.37 L301.25 180.72 L301.45 179.39 L301.71 178.3 L302.03 177.39 L302.43 176.64 L302.9 176.04 L303.48 175.58 L304.19 175.26 L305.15 175.06 L307.5 175 L309.85 175.06 L310.81 175.26 L311.52 175.58 L312.1 176.04 L312.57 176.64 L312.97 177.39 L313.29 178.3 L313.55 179.39 L313.75 180.72 L313.89 182.37 L313.97 184.58Z" fill="#000" filter="url(#sp)"/>
<path d="M328 186.75 L327.94 189.43 L327.75 191.61 L327.43 193.58 L327 195.37 L326.45 196.98 L325.79 198.4 L325.02 199.63 L324.15 200.65 L323.19 201.45 L322.12 202.03 L320.95 202.38 L319.5 202.5 L318.05 202.38 L316.88 202.03 L315.81 201.45 L314.85 200.65 L313.98 199.63 L313.21 198.4 L312.55 196.98 L312 195.37 L311.57 193.58 L311.25 191.61 L311.06 189.43 L311 186.75 L311.06 184.07 L311.25 181.89 L311.57 179.92 L312 178.13 L312.55 176.52 L313.21 175.1 L313.98 173.87 L314.85 172.85 L315.81 172.05 L316.88 171.47 L318.05 171.12 L319.5 171 L320.95 171.12 L322.12 171.47 L323.19 172.05 L324.15 172.85 L325.02 173.87 L325.79 175.1 L326.45 176.52 L327 178.13 L327.43 179.92 L327.75 181.89 L327.94 184.07Z" fill="#000" filter="url(#sp)"/>
<path d="M327 187.35 L326.94 189.93 L326.78 192.03 L326.5 193.92 L326.12 195.64 L325.63 197.19 L325.05 198.56 L324.37 199.74 L323.6 200.72 L322.75 201.49 L321.82 202.05 L320.78 202.39 L319.5 202.5 L318.22 202.39 L317.18 202.05 L316.25 201.49 L315.4 200.72 L314.63 199.74 L313.95 198.56 L313.37 197.19 L312.88 195.64 L312.5 193.92 L312.22 192.03 L312.06 189.93 L312 187.35 L312.06 184.77 L312.22 182.67 L312.5 180.78 L312.88 179.06 L313.37 177.51 L313.95 176.14 L314.63 174.96 L315.4 173.98 L316.25 173.21 L317.18 172.65 L318.22 172.31 L319.5 172.2 L320.78 172.31 L321.82 172.65 L322.75 173.21 L323.6 173.98 L324.37 174.96 L325.05 176.14 L325.63 177.51 L326.12 179.06 L326.5 180.78 L326.78 182.67 L326.94 184.77Z" fill="#000" filter="url(#bl1)"/>
<radialGradient id="g196"><stop offset="0" stop-color="#e6e6e6"/><stop offset=".9" stop-color="#d6d6d6"/><stop offset="1" stop-color="#aaa"/></radialGradient>
<path d="M324.4 188.25 L324.37 190.22 L324.27 191.82 L324.11 193.26 L323.89 194.57 L323.61 195.75 L323.27 196.79 L322.88 197.69 L322.43 198.44 L321.94 199.03 L321.39 199.46 L320.79 199.71 L320.05 199.8 L319.31 199.71 L318.71 199.46 L318.16 199.03 L317.67 198.44 L317.22 197.69 L316.83 196.79 L316.49 195.75 L316.21 194.57 L315.99 193.26 L315.83 191.82 L315.73 190.22 L315.7 188.25 L315.73 186.28 L315.83 184.68 L315.99 183.24 L316.21 181.93 L316.49 180.75 L316.83 179.71 L317.22 178.81 L317.67 178.06 L318.16 177.47 L318.71 177.04 L319.31 176.79 L320.05 176.7 L320.79 176.79 L321.39 177.04 L321.94 177.47 L322.43 178.06 L322.88 178.81 L323.27 179.71 L323.61 180.75 L323.89 181.93 L324.11 183.24 L324.27 184.68 L324.37 186.28Z" fill="url(#g196)" filter="url(#bl)"/>
</g>
<ellipse cx="317" cy="147.3" rx="2.5" ry="9.5" transform="rotate(59 317 147.3)" fill="#000" filter="url(#sps)" opacity="0.5"/>
<ellipse cx="317" cy="147.3" rx="1.6" ry="8" transform="rotate(59 317 147.3)" fill="#000" filter="url(#spm)" opacity="0.6"/>
<ellipse cx="317.5" cy="147" rx="1" ry="6" transform="rotate(59 317.5 147)" fill="#888" filter="url(#bl2)"/>
<rect x="275.8" y="126.2" width="72.8" height="77.4" fill="none" stroke="#000" stroke-width="1.7"/>
<rect x="306.2" y="133.3" width="21.6" height="27.2" fill="none" stroke="#000" stroke-width="1"/>
<text x="329.75" y="158.9" font-size="8.6">0.08</text>
<clipPath id="cFLU01"><rect x="370.6" y="127" width="71.6" height="75.8"/></clipPath>
<g clip-path="url(#cFLU01)">
<rect x="397.47" y="174.37" width="0.6" height="0.6" fill="#999999"/><rect x="400.41" y="159.15" width="0.7" height="0.7" fill="#c8c8c8"/><rect x="397.39" y="171.27" width="0.6" height="0.6" fill="#9f9f9f"/><rect x="390.17" y="166.4" width="0.8" height="0.8" fill="#909090"/><rect x="396.41" y="162.14" width="0.8" height="0.8" fill="#9f9f9f"/><rect x="391.95" y="173.07" width="0.9" height="0.9" fill="#9b9b9b"/><rect x="388.11" y="161.44" width="0.7" height="0.7" fill="#949494"/><rect x="404.51" y="153.64" width="0.6" height="0.6" fill="#c2c2c2"/><rect x="399.32" y="157.56" width="0.6" height="0.6" fill="#cdcdcd"/><rect x="397.12" y="173.9" width="0.8" height="0.8" fill="#9d9d9d"/><rect x="394.27" y="170.44" width="0.7" height="0.7" fill="#a7a7a7"/><rect x="389.92" y="171.57" width="0.9" height="0.9" fill="#afafaf"/><rect x="393.05" y="175.26" width="0.8" height="0.8" fill="#bbbbbb"/><rect x="396.49" y="169.25" width="0.7" height="0.7" fill="#cfcfcf"/><rect x="406.68" y="156.79" width="0.9" height="0.9" fill="#949494"/><rect x="399.74" y="169.77" width="0.6" height="0.6" fill="#c5c5c5"/><rect x="390.87" y="164.03" width="0.7" height="0.7" fill="#b6b6b6"/><rect x="401.38" y="168.89" width="0.7" height="0.7" fill="#bdbdbd"/><rect x="398.17" y="168.32" width="0.6" height="0.6" fill="#9c9c9c"/><rect x="408.73" y="161.63" width="0.7" height="0.7" fill="#b4b4b4"/><rect x="395.14" y="158.94" width="0.9" height="0.9" fill="#a7a7a7"/><rect x="404.34" y="163.44" width="0.8" height="0.8" fill="#bababa"/><rect x="409.17" y="162.84" width="0.9" height="0.9" fill="#c1c1c1"/><rect x="409.13" y="154.63" width="0.8" height="0.8" fill="#a9a9a9"/><rect x="394.93" y="169.83" width="0.7" height="0.7" fill="#bbbbbb"/><rect x="387.93" y="167.33" width="0.7" height="0.7" fill="#d2d2d2"/><rect x="416.73" y="167.39" width="0.9" height="0.9" fill="#a6a6a6"/><rect x="405.74" y="168.59" width="0.9" height="0.9" fill="#b5b5b5"/><rect x="399.95" y="162.79" width="0.9" height="0.9" fill="#a3a3a3"/><rect x="396.57" y="157.48" width="0.9" height="0.9" fill="#8e8e8e"/><rect x="388.87" y="162.44" width="0.6" height="0.6" fill="#8e8e8e"/><rect x="405.32" y="164.19" width="0.7" height="0.7" fill="#8f8f8f"/><rect x="400.54" y="161.71" width="0.7" height="0.7" fill="#a1a1a1"/><rect x="403.04" y="158.32" width="0.6" height="0.6" fill="#8f8f8f"/><rect x="393.46" y="156.92" width="0.9" height="0.9" fill="#c1c1c1"/><rect x="413.47" y="162.15" width="0.9" height="0.9" fill="#a3a3a3"/><rect x="395.72" y="161.36" width="0.7" height="0.7" fill="#adadad"/><rect x="389.97" y="173.42" width="0.9" height="0.9" fill="#9d9d9d"/><rect x="385.52" y="169.72" width="0.6" height="0.6" fill="#cccccc"/><rect x="399.63" y="168.93" width="0.8" height="0.8" fill="#c1c1c1"/><rect x="411.58" y="156.56" width="0.8" height="0.8" fill="#c8c8c8"/><rect x="401.49" y="157.06" width="0.6" height="0.6" fill="#c1c1c1"/><rect x="392.77" y="165.22" width="0.6" height="0.6" fill="#c7c7c7"/><rect x="390.82" y="165.73" width="0.6" height="0.6" fill="#919191"/><rect x="393.95" y="172.08" width="0.8" height="0.8" fill="#cbcbcb"/><rect x="402.84" y="171.52" width="0.7" height="0.7" fill="#c3c3c3"/><rect x="392.66" y="167.97" width="0.9" height="0.9" fill="#d1d1d1"/><rect x="410.46" y="156.07" width="0.7" height="0.7" fill="#a4a4a4"/><rect x="402.97" y="167.59" width="0.6" height="0.6" fill="#a5a5a5"/><rect x="392.48" y="170.46" width="0.9" height="0.9" fill="#d7d7d7"/><rect x="402.34" y="165.3" width="0.8" height="0.8" fill="#cacaca"/><rect x="407.88" y="166.5" width="0.8" height="0.8" fill="#949494"/><rect x="396.8" y="163.66" width="0.6" height="0.6" fill="#ababab"/><rect x="402.09" y="173.86" width="0.8" height="0.8" fill="#c5c5c5"/><rect x="388.98" y="173.3" width="0.9" height="0.9" fill="#d4d4d4"/><rect x="393.45" y="173.63" width="0.8" height="0.8" fill="#b2b2b2"/><rect x="407.73" y="158.81" width="0.9" height="0.9" fill="#a4a4a4"/><rect x="403.99" y="164.04" width="0.7" height="0.7" fill="#c6c6c6"/><rect x="393.45" y="164.13" width="0.7" height="0.7" fill="#969696"/><rect x="386.02" y="172.48" width="0.6" height="0.6" fill="#bdbdbd"/><rect x="389.23" y="163.86" width="0.9" height="0.9" fill="#9e9e9e"/><rect x="392.21" y="166.91" width="0.7" height="0.7" fill="#c2c2c2"/><rect x="394.16" y="168.62" width="0.6" height="0.6" fill="#a9a9a9"/><rect x="391.82" y="157.22" width="0.9" height="0.9" fill="#d0d0d0"/><rect x="405.73" y="166.94" width="0.7" height="0.7" fill="#989898"/><rect x="407.22" y="153.45" width="0.6" height="0.6" fill="#909090"/><rect x="388.14" y="163.07" width="0.9" height="0.9" fill="#8e8e8e"/><rect x="404.11" y="172.97" width="0.9" height="0.9" fill="#9d9d9d"/><rect x="393.56" y="155.83" width="0.6" height="0.6" fill="#c5c5c5"/><rect x="409.67" y="167.31" width="0.8" height="0.8" fill="#c0c0c0"/><rect x="396.18" y="167.69" width="0.8" height="0.8" fill="#c9c9c9"/><rect x="400.19" y="166.19" width="0.6" height="0.6" fill="#a0a0a0"/>
<path d="M396.5 189 L396.41 192.23 L396.12 194.87 L395.65 197.24 L395 199.4 L394.18 201.34 L393.18 203.06 L392.03 204.54 L390.73 205.77 L389.28 206.74 L387.69 207.44 L385.92 207.86 L383.75 208 L381.58 207.86 L379.81 207.44 L378.22 206.74 L376.77 205.77 L375.47 204.54 L374.32 203.06 L373.32 201.34 L372.5 199.4 L371.85 197.24 L371.38 194.87 L371.09 192.23 L371 189 L371.09 185.77 L371.38 183.13 L371.85 180.76 L372.5 178.6 L373.32 176.66 L374.32 174.94 L375.47 173.46 L376.77 172.23 L378.22 171.26 L379.81 170.56 L381.58 170.14 L383.75 170 L385.92 170.14 L387.69 170.56 L389.28 171.26 L390.73 172.23 L392.03 173.46 L393.18 174.94 L394.18 176.66 L395 178.6 L395.65 180.76 L396.12 183.13 L396.41 185.77Z" fill="#000" filter="url(#sp)"/>
<path d="M395.5 189.6 L395.41 192.73 L395.15 195.28 L394.72 197.58 L394.12 199.67 L393.36 201.55 L392.44 203.21 L391.38 204.65 L390.18 205.84 L388.85 206.78 L387.38 207.45 L385.75 207.86 L383.75 208 L381.75 207.86 L380.12 207.45 L378.65 206.78 L377.32 205.84 L376.12 204.65 L375.06 203.21 L374.14 201.55 L373.38 199.67 L372.78 197.58 L372.35 195.28 L372.09 192.73 L372 189.6 L372.09 186.47 L372.35 183.92 L372.78 181.62 L373.38 179.53 L374.14 177.65 L375.06 175.99 L376.12 174.55 L377.32 173.36 L378.65 172.42 L380.12 171.75 L381.75 171.34 L383.75 171.2 L385.75 171.34 L387.38 171.75 L388.85 172.42 L390.18 173.36 L391.38 174.55 L392.44 175.99 L393.36 177.65 L394.12 179.53 L394.72 181.62 L395.15 183.92 L395.41 186.47Z" fill="#000" filter="url(#bl1)"/>
<radialGradient id="g210"><stop offset="0" stop-color="#c8c8c8"/><stop offset=".9" stop-color="#d2d2d2"/><stop offset="1" stop-color="#aaa"/></radialGradient>
<path d="M394.1 191 L394.02 193.66 L393.8 195.82 L393.43 197.77 L392.91 199.54 L392.26 201.13 L391.47 202.54 L390.56 203.76 L389.53 204.77 L388.38 205.56 L387.12 206.14 L385.72 206.48 L384 206.6 L382.28 206.48 L380.88 206.14 L379.62 205.56 L378.47 204.77 L377.44 203.76 L376.53 202.54 L375.74 201.13 L375.09 199.54 L374.57 197.77 L374.2 195.82 L373.98 193.66 L373.9 191 L373.98 188.34 L374.2 186.18 L374.57 184.23 L375.09 182.46 L375.74 180.87 L376.53 179.46 L377.44 178.24 L378.47 177.23 L379.62 176.44 L380.88 175.86 L382.28 175.52 L384 175.4 L385.72 175.52 L387.12 175.86 L388.38 176.44 L389.53 177.23 L390.56 178.24 L391.47 179.46 L392.26 180.87 L392.91 182.46 L393.43 184.23 L393.8 186.18 L394.02 188.34Z" fill="url(#g210)" filter="url(#bl)"/>
<path d="M406 192.5 L405.96 195.2 L405.85 196.76 L405.67 198.03 L405.41 199.11 L405.07 200.04 L404.66 200.83 L404.17 201.5 L403.59 202.04 L402.93 202.46 L402.14 202.76 L401.17 202.94 L399.5 203 L397.83 202.94 L396.86 202.76 L396.07 202.46 L395.41 202.04 L394.83 201.5 L394.34 200.83 L393.93 200.04 L393.59 199.11 L393.33 198.03 L393.15 196.76 L393.04 195.2 L393 192.5 L393.04 189.8 L393.15 188.24 L393.33 186.97 L393.59 185.89 L393.93 184.96 L394.34 184.17 L394.83 183.5 L395.41 182.96 L396.07 182.54 L396.86 182.24 L397.83 182.06 L399.5 182 L401.17 182.06 L402.14 182.24 L402.93 182.54 L403.59 182.96 L404.17 183.5 L404.66 184.17 L405.07 184.96 L405.41 185.89 L405.67 186.97 L405.85 188.24 L405.96 189.8Z" fill="#000" filter="url(#sp)"/>
<ellipse cx="384.8" cy="194.5" rx="2.2" ry="4.5" fill="#666" filter="url(#bl2)"/>
<path d="M419.5 188.5 L419.44 190.78 L419.24 192.74 L418.93 194.56 L418.49 196.22 L417.93 197.73 L417.27 199.08 L416.5 200.25 L415.64 201.22 L414.7 201.99 L413.66 202.55 L412.55 202.89 L411.25 203 L409.95 202.89 L408.84 202.55 L407.8 201.99 L406.86 201.22 L406 200.25 L405.23 199.08 L404.57 197.73 L404.01 196.22 L403.57 194.56 L403.26 192.74 L403.06 190.78 L403 188.5 L403.06 186.22 L403.26 184.26 L403.57 182.44 L404.01 180.78 L404.57 179.27 L405.23 177.92 L406 176.75 L406.86 175.78 L407.8 175.01 L408.84 174.45 L409.95 174.11 L411.25 174 L412.55 174.11 L413.66 174.45 L414.7 175.01 L415.64 175.78 L416.5 176.75 L417.27 177.92 L417.93 179.27 L418.49 180.78 L418.93 182.44 L419.24 184.26 L419.44 186.22Z" fill="#000" filter="url(#sp)"/>
<path d="M418.5 189.1 L418.44 191.28 L418.28 193.17 L418 194.9 L417.61 196.5 L417.12 197.95 L416.54 199.24 L415.87 200.36 L415.11 201.3 L414.28 202.03 L413.37 202.57 L412.39 202.89 L411.25 203 L410.11 202.89 L409.13 202.57 L408.22 202.03 L407.39 201.3 L406.63 200.36 L405.96 199.24 L405.38 197.95 L404.89 196.5 L404.5 194.9 L404.22 193.17 L404.06 191.28 L404 189.1 L404.06 186.92 L404.22 185.03 L404.5 183.3 L404.89 181.7 L405.38 180.25 L405.96 178.96 L406.63 177.84 L407.39 176.9 L408.22 176.17 L409.13 175.63 L410.11 175.31 L411.25 175.2 L412.39 175.31 L413.37 175.63 L414.28 176.17 L415.11 176.9 L415.87 177.84 L416.54 178.96 L417.12 180.25 L417.61 181.7 L418 183.3 L418.28 185.03 L418.44 186.92Z" fill="#000" filter="url(#bl1)"/>
<radialGradient id="g216"><stop offset="0" stop-color="#c8c8c8"/><stop offset=".9" stop-color="#bababa"/><stop offset="1" stop-color="#aaa"/></radialGradient>
<path d="M416.6 190.5 L416.56 192.01 L416.45 193.31 L416.26 194.51 L416.01 195.61 L415.68 196.61 L415.29 197.51 L414.84 198.28 L414.33 198.92 L413.78 199.43 L413.17 199.8 L412.51 200.03 L411.75 200.1 L410.99 200.03 L410.33 199.8 L409.72 199.43 L409.17 198.92 L408.66 198.28 L408.21 197.51 L407.82 196.61 L407.49 195.61 L407.24 194.51 L407.05 193.31 L406.94 192.01 L406.9 190.5 L406.94 188.99 L407.05 187.69 L407.24 186.49 L407.49 185.39 L407.82 184.39 L408.21 183.49 L408.66 182.72 L409.17 182.08 L409.72 181.57 L410.33 181.2 L410.99 180.97 L411.75 180.9 L412.51 180.97 L413.17 181.2 L413.78 181.57 L414.33 182.08 L414.84 182.72 L415.29 183.49 L415.68 184.39 L416.01 185.39 L416.26 186.49 L416.45 187.69 L416.56 188.99Z" fill="url(#g216)" filter="url(#bl)"/>
</g>
<ellipse cx="410" cy="150" rx="3" ry="6" transform="rotate(0 410 150)" fill="#000" filter="url(#sps)" opacity="0.35"/>
<rect x="369.8" y="126.2" width="73.2" height="77.4" fill="none" stroke="#000" stroke-width="1.7"/>
<rect x="400.3" y="137.2" width="19.5" height="23.3" fill="none" stroke="#000" stroke-width="1"/>
<text x="421" y="158.9" font-size="8.6">0.06</text>
<clipPath id="cFLU11"><rect x="446.4" y="127" width="71.3" height="75.8"/></clipPath>
<g clip-path="url(#cFLU11)">
<rect x="471.84" y="167.82" width="0.6" height="0.6" fill="#a7a7a7"/><rect x="475.33" y="160.02" width="0.9" height="0.9" fill="#acacac"/><rect x="482.56" y="167.71" width="0.8" height="0.8" fill="#c9c9c9"/><rect x="475.15" y="166.32" width="0.8" height="0.8" fill="#aaaaaa"/><rect x="469.23" y="169.97" width="0.8" height="0.8" fill="#a9a9a9"/><rect x="489.97" y="167.92" width="0.7" height="0.7" fill="#a4a4a4"/><rect x="490.67" y="168" width="0.9" height="0.9" fill="#d5d5d5"/><rect x="485.51" y="162.78" width="0.8" height="0.8" fill="#bebebe"/><rect x="485.95" y="172.73" width="0.9" height="0.9" fill="#adadad"/><rect x="470.67" y="167.23" width="0.8" height="0.8" fill="#bfbfbf"/><rect x="491.16" y="175.49" width="0.7" height="0.7" fill="#919191"/><rect x="477.49" y="161.07" width="0.6" height="0.6" fill="#d5d5d5"/><rect x="481.72" y="163.14" width="0.8" height="0.8" fill="#b6b6b6"/><rect x="486.58" y="172.77" width="0.9" height="0.9" fill="#b3b3b3"/><rect x="470.63" y="176.8" width="0.9" height="0.9" fill="#cdcdcd"/><rect x="476.31" y="166.52" width="0.8" height="0.8" fill="#9b9b9b"/><rect x="485.15" y="158.77" width="0.6" height="0.6" fill="#a4a4a4"/><rect x="484.98" y="165.15" width="0.8" height="0.8" fill="#9c9c9c"/><rect x="463.62" y="162.91" width="0.7" height="0.7" fill="#b3b3b3"/><rect x="476.41" y="164.29" width="0.9" height="0.9" fill="#d1d1d1"/><rect x="472.13" y="161.93" width="0.9" height="0.9" fill="#9c9c9c"/><rect x="489.33" y="171.95" width="0.6" height="0.6" fill="#d7d7d7"/><rect x="488" y="162.58" width="0.8" height="0.8" fill="#c3c3c3"/><rect x="487.55" y="170.68" width="0.7" height="0.7" fill="#c2c2c2"/><rect x="490.22" y="167.25" width="0.8" height="0.8" fill="#b2b2b2"/><rect x="474.27" y="168.58" width="0.7" height="0.7" fill="#b0b0b0"/><rect x="466.7" y="173.37" width="0.9" height="0.9" fill="#b0b0b0"/><rect x="470.96" y="171.22" width="0.8" height="0.8" fill="#8c8c8c"/><rect x="470.42" y="161.4" width="0.9" height="0.9" fill="#b6b6b6"/><rect x="477.39" y="176.5" width="0.8" height="0.8" fill="#989898"/><rect x="488.43" y="170.19" width="0.7" height="0.7" fill="#ababab"/><rect x="462.31" y="165.83" width="0.9" height="0.9" fill="#c1c1c1"/><rect x="483.31" y="168.41" width="0.7" height="0.7" fill="#b0b0b0"/><rect x="473.74" y="177.73" width="0.9" height="0.9" fill="#bfbfbf"/><rect x="486.61" y="165.55" width="0.7" height="0.7" fill="#a8a8a8"/><rect x="474.18" y="160.05" width="0.6" height="0.6" fill="#c8c8c8"/><rect x="460.32" y="168.84" width="0.9" height="0.9" fill="#979797"/><rect x="467.76" y="169.11" width="0.7" height="0.7" fill="#b7b7b7"/><rect x="480.42" y="164.38" width="0.8" height="0.8" fill="#c2c2c2"/><rect x="484.12" y="177" width="0.9" height="0.9" fill="#c3c3c3"/><rect x="485.71" y="167.1" width="0.7" height="0.7" fill="#c1c1c1"/><rect x="477.87" y="163.3" width="0.7" height="0.7" fill="#ababab"/><rect x="482.05" y="161.49" width="0.8" height="0.8" fill="#bcbcbc"/><rect x="468.5" y="162.49" width="0.7" height="0.7" fill="#d2d2d2"/><rect x="470.88" y="161.84" width="0.8" height="0.8" fill="#989898"/><rect x="470.5" y="165.67" width="0.8" height="0.8" fill="#a9a9a9"/><rect x="466.53" y="161.27" width="0.9" height="0.9" fill="#b1b1b1"/><rect x="481.33" y="177.02" width="0.8" height="0.8" fill="#c4c4c4"/><rect x="481.08" y="170.21" width="0.6" height="0.6" fill="#b2b2b2"/><rect x="483.75" y="174.76" width="0.7" height="0.7" fill="#c1c1c1"/><rect x="483.81" y="161.56" width="0.6" height="0.6" fill="#ababab"/><rect x="493.39" y="168.09" width="0.8" height="0.8" fill="#b1b1b1"/><rect x="491.2" y="162.44" width="0.6" height="0.6" fill="#c2c2c2"/><rect x="471.85" y="176.61" width="0.8" height="0.8" fill="#bdbdbd"/><rect x="455.81" y="177.47" width="0.6" height="0.6" fill="#8c8c8c"/><rect x="494.18" y="176.38" width="0.8" height="0.8" fill="#a6a6a6"/><rect x="480.14" y="168.89" width="0.8" height="0.8" fill="#cccccc"/><rect x="489.9" y="171.9" width="0.7" height="0.7" fill="#9c9c9c"/><rect x="471.64" y="166.71" width="0.6" height="0.6" fill="#979797"/><rect x="468.73" y="170.47" width="0.8" height="0.8" fill="#d4d4d4"/><rect x="470.93" y="176.18" width="0.7" height="0.7" fill="#aeaeae"/><rect x="469.92" y="171.88" width="0.7" height="0.7" fill="#a8a8a8"/><rect x="464.2" y="162.91" width="0.8" height="0.8" fill="#9d9d9d"/><rect x="495.89" y="173.84" width="0.7" height="0.7" fill="#c3c3c3"/><rect x="463.86" y="170.82" width="0.9" height="0.9" fill="#9e9e9e"/><rect x="492.86" y="171.5" width="0.7" height="0.7" fill="#c2c2c2"/><rect x="484.77" y="163.54" width="0.7" height="0.7" fill="#cfcfcf"/><rect x="475.19" y="177.65" width="0.6" height="0.6" fill="#8d8d8d"/><rect x="482.81" y="158.18" width="0.9" height="0.9" fill="#9d9d9d"/><rect x="479.62" y="159.23" width="0.6" height="0.6" fill="#bbbbbb"/><rect x="474.8" y="159.58" width="0.8" height="0.8" fill="#9b9b9b"/><rect x="463.37" y="169.78" width="0.9" height="0.9" fill="#c1c1c1"/><rect x="463.41" y="163.88" width="0.9" height="0.9" fill="#ababab"/><rect x="472.29" y="177.9" width="0.7" height="0.7" fill="#b7b7b7"/><rect x="469.42" y="165.07" width="0.6" height="0.6" fill="#c9c9c9"/><rect x="476.25" y="169.61" width="0.8" height="0.8" fill="#c7c7c7"/><rect x="492.35" y="168.57" width="0.6" height="0.6" fill="#cbcbcb"/><rect x="456.01" y="176.15" width="0.7" height="0.7" fill="#c0c0c0"/><rect x="468.65" y="172.18" width="0.9" height="0.9" fill="#9e9e9e"/><rect x="467.42" y="172.21" width="0.6" height="0.6" fill="#b5b5b5"/>
<path d="M471 190 L470.91 192.83 L470.65 195.27 L470.22 197.52 L469.62 199.59 L468.87 201.46 L467.96 203.14 L466.91 204.58 L465.74 205.79 L464.45 206.75 L463.04 207.44 L461.52 207.86 L459.75 208 L457.98 207.86 L456.46 207.44 L455.05 206.75 L453.76 205.79 L452.59 204.58 L451.54 203.14 L450.63 201.46 L449.88 199.59 L449.28 197.52 L448.85 195.27 L448.59 192.83 L448.5 190 L448.59 187.17 L448.85 184.73 L449.28 182.48 L449.88 180.41 L450.63 178.54 L451.54 176.86 L452.59 175.42 L453.76 174.21 L455.05 173.25 L456.46 172.56 L457.98 172.14 L459.75 172 L461.52 172.14 L463.04 172.56 L464.45 173.25 L465.74 174.21 L466.91 175.42 L467.96 176.86 L468.87 178.54 L469.62 180.41 L470.22 182.48 L470.65 184.73 L470.91 187.17Z" fill="#000" filter="url(#sp)"/>
<path d="M470 190.6 L469.92 193.33 L469.68 195.69 L469.29 197.87 L468.74 199.87 L468.05 201.68 L467.23 203.3 L466.28 204.7 L465.21 205.87 L464.03 206.79 L462.75 207.46 L461.36 207.86 L459.75 208 L458.14 207.86 L456.75 207.46 L455.47 206.79 L454.29 205.87 L453.22 204.7 L452.27 203.3 L451.45 201.68 L450.76 199.87 L450.21 197.87 L449.82 195.69 L449.58 193.33 L449.5 190.6 L449.58 187.87 L449.82 185.51 L450.21 183.33 L450.76 181.33 L451.45 179.52 L452.27 177.9 L453.22 176.5 L454.29 175.33 L455.47 174.41 L456.75 173.74 L458.14 173.34 L459.75 173.2 L461.36 173.34 L462.75 173.74 L464.03 174.41 L465.21 175.33 L466.28 176.5 L467.23 177.9 L468.05 179.52 L468.74 181.33 L469.29 183.33 L469.68 185.51 L469.92 187.87Z" fill="#000" filter="url(#bl1)"/>
<radialGradient id="g228"><stop offset="0" stop-color="#c8c8c8"/><stop offset=".9" stop-color="#d2d2d2"/><stop offset="1" stop-color="#aaa"/></radialGradient>
<path d="M469.1 191.5 L469.03 193.79 L468.83 195.77 L468.49 197.6 L468.03 199.27 L467.44 200.8 L466.74 202.15 L465.92 203.33 L465.01 204.31 L464 205.09 L462.91 205.65 L461.72 205.99 L460.35 206.1 L458.98 205.99 L457.79 205.65 L456.7 205.09 L455.69 204.31 L454.78 203.33 L453.96 202.15 L453.26 200.8 L452.67 199.27 L452.21 197.6 L451.87 195.77 L451.67 193.79 L451.6 191.5 L451.67 189.21 L451.87 187.23 L452.21 185.4 L452.67 183.73 L453.26 182.2 L453.96 180.85 L454.78 179.67 L455.69 178.69 L456.7 177.91 L457.79 177.35 L458.98 177.01 L460.35 176.9 L461.72 177.01 L462.91 177.35 L464 177.91 L465.01 178.69 L465.92 179.67 L466.74 180.85 L467.44 182.2 L468.03 183.73 L468.49 185.4 L468.83 187.23 L469.03 189.21Z" fill="url(#g228)" filter="url(#bl)"/>
<path d="M481 192 L480.97 194.57 L480.86 196.06 L480.69 197.27 L480.45 198.3 L480.14 199.18 L479.76 199.94 L479.31 200.57 L478.78 201.09 L478.16 201.49 L477.44 201.77 L476.54 201.94 L475 202 L473.46 201.94 L472.56 201.77 L471.84 201.49 L471.22 201.09 L470.69 200.57 L470.24 199.94 L469.86 199.18 L469.55 198.3 L469.31 197.27 L469.14 196.06 L469.03 194.57 L469 192 L469.03 189.43 L469.14 187.94 L469.31 186.73 L469.55 185.7 L469.86 184.82 L470.24 184.06 L470.69 183.43 L471.22 182.91 L471.84 182.51 L472.56 182.23 L473.46 182.06 L475 182 L476.54 182.06 L477.44 182.23 L478.16 182.51 L478.78 182.91 L479.31 183.43 L479.76 184.06 L480.14 184.82 L480.45 185.7 L480.69 186.73 L480.86 187.94 L480.97 189.43Z" fill="#000" filter="url(#sp)"/>
<ellipse cx="460.7" cy="194.2" rx="2.3" ry="3.5" fill="#333" filter="url(#bl2)"/>
<path d="M493 188.25 L492.94 190.33 L492.78 192.13 L492.5 193.78 L492.11 195.31 L491.62 196.69 L491.04 197.92 L490.37 198.99 L489.61 199.88 L488.78 200.58 L487.87 201.09 L486.89 201.4 L485.75 201.5 L484.61 201.4 L483.63 201.09 L482.72 200.58 L481.89 199.88 L481.13 198.99 L480.46 197.92 L479.88 196.69 L479.39 195.31 L479 193.78 L478.72 192.13 L478.56 190.33 L478.5 188.25 L478.56 186.17 L478.72 184.37 L479 182.72 L479.39 181.19 L479.88 179.81 L480.46 178.58 L481.13 177.51 L481.89 176.62 L482.72 175.92 L483.63 175.41 L484.61 175.1 L485.75 175 L486.89 175.1 L487.87 175.41 L488.78 175.92 L489.61 176.62 L490.37 177.51 L491.04 178.58 L491.62 179.81 L492.11 181.19 L492.5 182.72 L492.78 184.37 L492.94 186.17Z" fill="#000" filter="url(#sp)"/>
<path d="M492 188.85 L491.95 190.84 L491.81 192.55 L491.57 194.13 L491.23 195.59 L490.81 196.91 L490.31 198.08 L489.73 199.1 L489.08 199.95 L488.36 200.62 L487.58 201.11 L486.73 201.4 L485.75 201.5 L484.77 201.4 L483.92 201.11 L483.14 200.62 L482.42 199.95 L481.77 199.1 L481.19 198.08 L480.69 196.91 L480.27 195.59 L479.93 194.13 L479.69 192.55 L479.55 190.84 L479.5 188.85 L479.55 186.86 L479.69 185.15 L479.93 183.57 L480.27 182.11 L480.69 180.79 L481.19 179.62 L481.77 178.6 L482.42 177.75 L483.14 177.08 L483.92 176.59 L484.77 176.3 L485.75 176.2 L486.73 176.3 L487.58 176.59 L488.36 177.08 L489.08 177.75 L489.73 178.6 L490.31 179.62 L490.81 180.79 L491.23 182.11 L491.57 183.57 L491.81 185.15 L491.95 186.86Z" fill="#000" filter="url(#bl1)"/>
<radialGradient id="g234"><stop offset="0" stop-color="#cacaca"/><stop offset=".9" stop-color="#bdbdbd"/><stop offset="1" stop-color="#aaa"/></radialGradient>
<path d="M490.4 190 L490.36 191.35 L490.26 192.52 L490.09 193.59 L489.85 194.58 L489.55 195.48 L489.18 196.28 L488.77 196.97 L488.3 197.55 L487.78 198 L487.22 198.33 L486.61 198.53 L485.9 198.6 L485.19 198.53 L484.58 198.33 L484.02 198 L483.5 197.55 L483.03 196.97 L482.62 196.28 L482.25 195.48 L481.95 194.58 L481.71 193.59 L481.54 192.52 L481.44 191.35 L481.4 190 L481.44 188.65 L481.54 187.48 L481.71 186.41 L481.95 185.42 L482.25 184.52 L482.62 183.72 L483.03 183.03 L483.5 182.45 L484.02 182 L484.58 181.67 L485.19 181.47 L485.9 181.4 L486.61 181.47 L487.22 181.67 L487.78 182 L488.3 182.45 L488.77 183.03 L489.18 183.72 L489.55 184.52 L489.85 185.42 L490.09 186.41 L490.26 187.48 L490.36 188.65Z" fill="url(#g234)" filter="url(#bl)"/>
</g>
<ellipse cx="487" cy="149" rx="3" ry="5" transform="rotate(0 487 149)" fill="#000" filter="url(#sps)" opacity="0.3"/>
<rect x="445.6" y="126.2" width="72.9" height="77.4" fill="none" stroke="#000" stroke-width="1.7"/>
<rect x="477.5" y="137.2" width="18.8" height="23.3" fill="none" stroke="#000" stroke-width="1"/>
<text x="497.8" y="158.9" font-size="8.6">0.04</text>
<text x="0.5" y="10" font-size="13" font-weight="bold">A</text>
<text x="89" y="16.2" font-size="8.6" font-weight="bold">CMV</text>
<text x="260" y="16.2" font-size="8.6" font-weight="bold">EBV</text>
<text x="431" y="16.2" font-size="8.6" font-weight="bold">FLU</text>
<text x="54.4" y="35.3" font-size="8.6">PB</text>
<text x="132.3" y="35.3" font-size="8.6">LN</text>
<text x="226.3" y="35.3" font-size="8.6">PB</text>
<text x="303" y="35.3" font-size="8.6">LN</text>
<text x="396.2" y="35.3" font-size="8.6">PB</text>
<text x="473.5" y="35.3" font-size="8.6">LN</text>
<text transform="translate(23.6 82) rotate(-90)" text-anchor="middle" font-size="8.6">CMV pp65</text>
<text transform="translate(23.6 166.2) rotate(-90)" text-anchor="middle" font-size="8.6">CMV IE</text>
<text transform="translate(195.2 80.8) rotate(-90)" text-anchor="middle" font-size="8.6">EBV BZLF</text>
<text transform="translate(195.4 167.5) rotate(-90)" text-anchor="middle" font-size="8.6">EBV EBNA</text>
<text transform="translate(367.9 80.1) rotate(-90)" text-anchor="middle" font-size="8.6">FLU MP</text>
<text transform="translate(368 164.4) rotate(-90)" text-anchor="middle" font-size="8.6">FLU NP</text>
<text x="28.9" y="216.8" font-size="8.6">CD8</text>
<line x1="76" y1="214.3" x2="517.7" y2="214.3" stroke="#000" stroke-width="1.3"/>
<text x="0.5" y="239.8" font-size="13" font-weight="bold">B</text>
<text x="66.2" y="252.1" font-size="8.6" font-weight="bold">CMV</text>
<text x="73" y="270.4" font-size="8.6"><tspan font-style="italic">P</tspan> &lt; .001</text>
<line x1="36.3" y1="276.9" x2="36.3" y2="387.2" stroke="#000" stroke-width="1.7"/>
<line x1="32.4" y1="387.2" x2="36.3" y2="387.2" stroke="#000" stroke-width="1.4"/>
<text x="26.3" y="390.4" font-size="9.0" text-anchor="end">0</text>
<line x1="32.4" y1="359.8" x2="36.3" y2="359.8" stroke="#000" stroke-width="1.4"/>
<text x="26.3" y="363" font-size="9.0" text-anchor="end">2</text>
<line x1="32.4" y1="332.4" x2="36.3" y2="332.4" stroke="#000" stroke-width="1.4"/>
<text x="26.3" y="335.6" font-size="9.0" text-anchor="end">4</text>
<line x1="32.4" y1="305" x2="36.3" y2="305" stroke="#000" stroke-width="1.4"/>
<text x="26.3" y="308.2" font-size="9.0" text-anchor="end">6</text>
<line x1="32.4" y1="277.6" x2="36.3" y2="277.6" stroke="#000" stroke-width="1.4"/>
<text x="26.3" y="280.8" font-size="9.0" text-anchor="end">8</text>
<line x1="36" y1="387.2" x2="141.5" y2="387.2" stroke="#000" stroke-width="1.5"/>
<line x1="62.3" y1="387.2" x2="62.3" y2="390.7" stroke="#000" stroke-width="1.3"/>
<line x1="115.3" y1="387.2" x2="115.3" y2="390.7" stroke="#000" stroke-width="1.3"/>
<g stroke="#000" stroke-width="1.7"><line x1="62.4" y1="288.01" x2="115.5" y2="372.27"/><line x1="62.4" y1="291.57" x2="115.5" y2="385.83"/><line x1="62.4" y1="302.26" x2="115.5" y2="385.14"/><line x1="62.4" y1="347.47" x2="115.5" y2="375.14"/><line x1="62.4" y1="360.76" x2="115.5" y2="377.2"/><line x1="62.4" y1="361.86" x2="115.5" y2="379.8"/><line x1="62.4" y1="372.95" x2="115.5" y2="386.51"/><line x1="62.4" y1="375.14" x2="115.5" y2="386.79"/><line x1="62.4" y1="377.47" x2="115.5" y2="386.93"/><line x1="62.4" y1="380.62" x2="115.5" y2="387.2"/><line x1="62.4" y1="385.56" x2="115.5" y2="386.51"/><line x1="62.4" y1="386.65" x2="115.5" y2="385.56"/></g>
<g fill="#000"><path d="M60.1 288.01L62.4 285.71L64.7 288.01L62.4 290.31Z"/><path d="M113.2 372.27L115.5 369.97L117.8 372.27L115.5 374.57Z"/><path d="M60.1 291.57L62.4 289.27L64.7 291.57L62.4 293.87Z"/><path d="M113.2 385.83L115.5 383.53L117.8 385.83L115.5 388.13Z"/><path d="M60.1 302.26L62.4 299.96L64.7 302.26L62.4 304.56Z"/><path d="M113.2 385.14L115.5 382.84L117.8 385.14L115.5 387.44Z"/><path d="M60.1 347.47L62.4 345.17L64.7 347.47L62.4 349.77Z"/><path d="M113.2 375.14L115.5 372.84L117.8 375.14L115.5 377.44Z"/><path d="M60.1 360.76L62.4 358.46L64.7 360.76L62.4 363.06Z"/><path d="M113.2 377.2L115.5 374.9L117.8 377.2L115.5 379.5Z"/><path d="M60.1 361.86L62.4 359.56L64.7 361.86L62.4 364.16Z"/><path d="M113.2 379.8L115.5 377.5L117.8 379.8L115.5 382.1Z"/><path d="M60.1 372.95L62.4 370.65L64.7 372.95L62.4 375.25Z"/><path d="M113.2 386.51L115.5 384.21L117.8 386.51L115.5 388.81Z"/><path d="M60.1 375.14L62.4 372.84L64.7 375.14L62.4 377.44Z"/><path d="M113.2 386.79L115.5 384.49L117.8 386.79L115.5 389.09Z"/><path d="M60.1 377.47L62.4 375.17L64.7 377.47L62.4 379.77Z"/><path d="M113.2 386.93L115.5 384.63L117.8 386.93L115.5 389.23Z"/><path d="M60.1 380.62L62.4 378.32L64.7 380.62L62.4 382.92Z"/><path d="M113.2 387.2L115.5 384.9L117.8 387.2L115.5 389.5Z"/><path d="M60.1 385.56L62.4 383.26L64.7 385.56L62.4 387.86Z"/><path d="M113.2 386.51L115.5 384.21L117.8 386.51L115.5 388.81Z"/><path d="M60.1 386.65L62.4 384.35L64.7 386.65L62.4 388.95Z"/><path d="M113.2 385.56L115.5 383.26L117.8 385.56L115.5 387.86Z"/></g>
<text x="55.8" y="403.8" font-size="8.6">PB</text><text x="107.3" y="403.8" font-size="8.6">LN</text>
<text x="204" y="252.1" font-size="8.6" font-weight="bold">EBV</text>
<line x1="170.1" y1="276.9" x2="170.1" y2="387.2" stroke="#000" stroke-width="1.7"/>
<line x1="166.2" y1="387.2" x2="170.1" y2="387.2" stroke="#000" stroke-width="1.4"/>
<text x="160.3" y="389.8" font-size="9.0" text-anchor="end">0</text>
<line x1="166.2" y1="359.8" x2="170.1" y2="359.8" stroke="#000" stroke-width="1.4"/>
<text x="160.3" y="362.4" font-size="9.0" text-anchor="end">1</text>
<line x1="166.2" y1="332.4" x2="170.1" y2="332.4" stroke="#000" stroke-width="1.4"/>
<text x="160.3" y="335" font-size="9.0" text-anchor="end">2</text>
<line x1="166.2" y1="305" x2="170.1" y2="305" stroke="#000" stroke-width="1.4"/>
<text x="160.3" y="307.6" font-size="9.0" text-anchor="end">3</text>
<line x1="166.2" y1="277.6" x2="170.1" y2="277.6" stroke="#000" stroke-width="1.4"/>
<text x="160.3" y="280.2" font-size="9.0" text-anchor="end">4</text>
<line x1="169" y1="387.2" x2="275" y2="387.2" stroke="#000" stroke-width="1.5"/>
<line x1="196.2" y1="387.2" x2="196.2" y2="390.7" stroke="#000" stroke-width="1.3"/>
<line x1="249.2" y1="387.2" x2="249.2" y2="390.7" stroke="#000" stroke-width="1.3"/>
<g stroke="#000" stroke-width="1.7"><line x1="196.2" y1="309.11" x2="249.2" y2="291.3"/><line x1="196.2" y1="336.24" x2="249.2" y2="314.59"/><line x1="196.2" y1="361.83" x2="249.2" y2="370.76"/><line x1="196.2" y1="363.72" x2="249.2" y2="364.32"/><line x1="196.2" y1="365.64" x2="249.2" y2="366.24"/><line x1="196.2" y1="368.16" x2="249.2" y2="368.76"/><line x1="196.2" y1="373.31" x2="249.2" y2="372.68"/><line x1="196.2" y1="374.6" x2="249.2" y2="373.91"/><line x1="196.2" y1="375.97" x2="249.2" y2="378.98"/><line x1="196.2" y1="377.06" x2="249.2" y2="375.14"/><line x1="196.2" y1="378.16" x2="249.2" y2="382.27"/><line x1="196.2" y1="379.25" x2="249.2" y2="376.24"/><line x1="196.2" y1="380.35" x2="249.2" y2="385.28"/><line x1="196.2" y1="381.45" x2="249.2" y2="377.61"/><line x1="196.2" y1="382.54" x2="249.2" y2="380.08"/><line x1="196.2" y1="383.64" x2="249.2" y2="386.65"/><line x1="196.2" y1="384.46" x2="249.2" y2="381.17"/><line x1="196.2" y1="385.28" x2="249.2" y2="383.36"/><line x1="196.2" y1="386.1" x2="249.2" y2="384.46"/><line x1="196.2" y1="386.65" x2="249.2" y2="386.1"/><line x1="196.2" y1="386.93" x2="249.2" y2="386.93"/></g>
<g fill="#000"><path d="M193.9 309.11L196.2 306.81L198.5 309.11L196.2 311.41Z"/><path d="M246.9 291.3L249.2 289L251.5 291.3L249.2 293.6Z"/><path d="M193.9 336.24L196.2 333.94L198.5 336.24L196.2 338.54Z"/><path d="M246.9 314.59L249.2 312.29L251.5 314.59L249.2 316.89Z"/><path d="M193.9 361.83L196.2 359.53L198.5 361.83L196.2 364.13Z"/><path d="M246.9 370.76L249.2 368.46L251.5 370.76L249.2 373.06Z"/><path d="M193.9 363.72L196.2 361.42L198.5 363.72L196.2 366.02Z"/><path d="M246.9 364.32L249.2 362.02L251.5 364.32L249.2 366.62Z"/><path d="M193.9 365.64L196.2 363.34L198.5 365.64L196.2 367.94Z"/><path d="M246.9 366.24L249.2 363.94L251.5 366.24L249.2 368.54Z"/><path d="M193.9 368.16L196.2 365.86L198.5 368.16L196.2 370.46Z"/><path d="M246.9 368.76L249.2 366.46L251.5 368.76L249.2 371.06Z"/><path d="M193.9 373.31L196.2 371.01L198.5 373.31L196.2 375.61Z"/><path d="M246.9 372.68L249.2 370.38L251.5 372.68L249.2 374.98Z"/><path d="M193.9 374.6L196.2 372.3L198.5 374.6L196.2 376.9Z"/><path d="M246.9 373.91L249.2 371.61L251.5 373.91L249.2 376.21Z"/><path d="M193.9 375.97L196.2 373.67L198.5 375.97L196.2 378.27Z"/><path d="M246.9 378.98L249.2 376.68L251.5 378.98L249.2 381.28Z"/><path d="M193.9 377.06L196.2 374.76L198.5 377.06L196.2 379.36Z"/><path d="M246.9 375.14L249.2 372.84L251.5 375.14L249.2 377.44Z"/><path d="M193.9 378.16L196.2 375.86L198.5 378.16L196.2 380.46Z"/><path d="M246.9 382.27L249.2 379.97L251.5 382.27L249.2 384.57Z"/><path d="M193.9 379.25L196.2 376.95L198.5 379.25L196.2 381.55Z"/><path d="M246.9 376.24L249.2 373.94L251.5 376.24L249.2 378.54Z"/><path d="M193.9 380.35L196.2 378.05L198.5 380.35L196.2 382.65Z"/><path d="M246.9 385.28L249.2 382.98L251.5 385.28L249.2 387.58Z"/><path d="M193.9 381.45L196.2 379.15L198.5 381.45L196.2 383.75Z"/><path d="M246.9 377.61L249.2 375.31L251.5 377.61L249.2 379.91Z"/><path d="M193.9 382.54L196.2 380.24L198.5 382.54L196.2 384.84Z"/><path d="M246.9 380.08L249.2 377.78L251.5 380.08L249.2 382.38Z"/><path d="M193.9 383.64L196.2 381.34L198.5 383.64L196.2 385.94Z"/><path d="M246.9 386.65L249.2 384.35L251.5 386.65L249.2 388.95Z"/><path d="M193.9 384.46L196.2 382.16L198.5 384.46L196.2 386.76Z"/><path d="M246.9 381.17L249.2 378.87L251.5 381.17L249.2 383.47Z"/><path d="M193.9 385.28L196.2 382.98L198.5 385.28L196.2 387.58Z"/><path d="M246.9 383.36L249.2 381.06L251.5 383.36L249.2 385.66Z"/><path d="M193.9 386.1L196.2 383.8L198.5 386.1L196.2 388.4Z"/><path d="M246.9 384.46L249.2 382.16L251.5 384.46L249.2 386.76Z"/><path d="M193.9 386.65L196.2 384.35L198.5 386.65L196.2 388.95Z"/><path d="M246.9 386.1L249.2 383.8L251.5 386.1L249.2 388.4Z"/><path d="M193.9 386.93L196.2 384.63L198.5 386.93L196.2 389.23Z"/><path d="M246.9 386.93L249.2 384.63L251.5 386.93L249.2 389.23Z"/></g>
<text x="187" y="404" font-size="8.6">PB</text><text x="239" y="404" font-size="8.6">LN</text>
<text x="347.5" y="252.1" font-size="8.6" font-weight="bold">FLU</text>
<line x1="311" y1="276.9" x2="311" y2="387.2" stroke="#000" stroke-width="1.7"/>
<line x1="307.1" y1="387.2" x2="311" y2="387.2" stroke="#000" stroke-width="1.4"/>
<text x="301.2" y="390.1" font-size="8.8" text-anchor="end">0.0</text>
<line x1="307.1" y1="359.8" x2="311" y2="359.8" stroke="#000" stroke-width="1.4"/>
<text x="301.2" y="362.7" font-size="8.8" text-anchor="end">0.2</text>
<line x1="307.1" y1="332.4" x2="311" y2="332.4" stroke="#000" stroke-width="1.4"/>
<text x="301.2" y="335.3" font-size="8.8" text-anchor="end">0.4</text>
<line x1="307.1" y1="305" x2="311" y2="305" stroke="#000" stroke-width="1.4"/>
<text x="301.2" y="307.9" font-size="8.8" text-anchor="end">0.6</text>
<line x1="307.1" y1="277.6" x2="311" y2="277.6" stroke="#000" stroke-width="1.4"/>
<text x="301.2" y="280.5" font-size="8.8" text-anchor="end">0.8</text>
<line x1="310" y1="387.2" x2="412" y2="387.2" stroke="#000" stroke-width="1.5"/>
<line x1="337.2" y1="387.2" x2="337.2" y2="390.7" stroke="#000" stroke-width="1.3"/>
<line x1="386.8" y1="387.2" x2="386.8" y2="390.7" stroke="#000" stroke-width="1.3"/>
<g stroke="#000" stroke-width="1.7"><line x1="337.2" y1="294.04" x2="386.8" y2="350.21"/><line x1="337.2" y1="332.4" x2="386.8" y2="354.32"/><line x1="337.2" y1="376.93" x2="386.8" y2="370.07"/><line x1="337.2" y1="376.93" x2="386.8" y2="376.24"/><line x1="337.2" y1="381.86" x2="386.8" y2="377.61"/><line x1="337.2" y1="383.09" x2="386.8" y2="383.09"/><line x1="337.2" y1="384.46" x2="386.8" y2="385.14"/><line x1="337.2" y1="385.56" x2="386.8" y2="384.46"/><line x1="337.2" y1="386.51" x2="386.8" y2="386.51"/></g>
<g fill="#000"><path d="M334.9 294.04L337.2 291.74L339.5 294.04L337.2 296.34Z"/><path d="M384.5 350.21L386.8 347.91L389.1 350.21L386.8 352.51Z"/><path d="M334.9 332.4L337.2 330.1L339.5 332.4L337.2 334.7Z"/><path d="M384.5 354.32L386.8 352.02L389.1 354.32L386.8 356.62Z"/><path d="M334.9 376.93L337.2 374.62L339.5 376.93L337.2 379.23Z"/><path d="M384.5 370.07L386.8 367.77L389.1 370.07L386.8 372.38Z"/><path d="M334.9 376.93L337.2 374.62L339.5 376.93L337.2 379.23Z"/><path d="M384.5 376.24L386.8 373.94L389.1 376.24L386.8 378.54Z"/><path d="M334.9 381.86L337.2 379.56L339.5 381.86L337.2 384.16Z"/><path d="M384.5 377.61L386.8 375.31L389.1 377.61L386.8 379.91Z"/><path d="M334.9 383.09L337.2 380.79L339.5 383.09L337.2 385.39Z"/><path d="M384.5 383.09L386.8 380.79L389.1 383.09L386.8 385.39Z"/><path d="M334.9 384.46L337.2 382.16L339.5 384.46L337.2 386.76Z"/><path d="M384.5 385.14L386.8 382.84L389.1 385.14L386.8 387.44Z"/><path d="M334.9 385.56L337.2 383.26L339.5 385.56L337.2 387.86Z"/><path d="M384.5 384.46L386.8 382.16L389.1 384.46L386.8 386.76Z"/><path d="M334.9 386.51L337.2 384.21L339.5 386.51L337.2 388.81Z"/><path d="M384.5 386.51L386.8 384.21L389.1 386.51L386.8 388.81Z"/></g>
<text x="327.7" y="404" font-size="8.6">PB</text><text x="376.5" y="404" font-size="8.6">LN</text>
<text transform="translate(15.8 388.2) rotate(-90)" font-size="9.1">%tetrameer<tspan font-size="5.8" dy="-3.2">+</tspan><tspan dy="3.2"> in CD8</tspan></text>
<line x1="12.2" y1="277.4" x2="12.2" y2="301" stroke="#000" stroke-width="1.2"/>
<text x="0.5" y="425.4" font-size="12.5" font-weight="bold">C</text>
<line x1="35.8" y1="437.9" x2="35.8" y2="608.2" stroke="#000" stroke-width="1.7"/>
<line x1="31.9" y1="608.2" x2="35.8" y2="608.2" stroke="#000" stroke-width="1.4"/>
<text x="24" y="610.3" font-size="8.6" text-anchor="end">0</text>
<line x1="31.9" y1="565.8" x2="35.8" y2="565.8" stroke="#000" stroke-width="1.4"/>
<text x="24" y="567.9" font-size="8.6" text-anchor="end">2</text>
<line x1="31.9" y1="523.4" x2="35.8" y2="523.4" stroke="#000" stroke-width="1.4"/>
<text x="24" y="525.5" font-size="8.6" text-anchor="end">4</text>
<line x1="31.9" y1="481" x2="35.8" y2="481" stroke="#000" stroke-width="1.4"/>
<text x="24" y="483.1" font-size="8.6" text-anchor="end">6</text>
<line x1="31.9" y1="438.6" x2="35.8" y2="438.6" stroke="#000" stroke-width="1.4"/>
<text x="24" y="440.7" font-size="8.6" text-anchor="end">8</text>
<line x1="34.5" y1="608.2" x2="206" y2="608.2" stroke="#000" stroke-width="1.5"/>
<line x1="64" y1="608.2" x2="64" y2="611.7" stroke="#000" stroke-width="1.3"/>
<line x1="121" y1="608.2" x2="121" y2="611.7" stroke="#000" stroke-width="1.3"/>
<line x1="177.3" y1="608.2" x2="177.3" y2="611.7" stroke="#000" stroke-width="1.3"/>
<g fill="#000"><path d="M61.2 454.5L64 451.7L66.8 454.5L64 457.3Z"/><path d="M61.2 461.5L64 458.7L66.8 461.5L64 464.3Z"/><path d="M61.2 477.2L64 474.4L66.8 477.2L64 480Z"/><path d="M61.1 547L63.9 544.2L66.7 547L63.9 549.8Z"/><path d="M54.9 567.5L57.7 564.7L60.5 567.5L57.7 570.3Z"/><path d="M61.1 569.1L63.9 566.3L66.7 569.1L63.9 571.9Z"/><path d="M61.1 587.1L63.9 584.3L66.7 587.1L63.9 589.9Z"/><path d="M67.6 586.1L70.4 583.3L73.2 586.1L70.4 588.9Z"/><path d="M48.4 592.1L51.2 589.3L54 592.1L51.2 594.9Z"/><path d="M54.9 592.7L57.7 589.9L60.5 592.7L57.7 595.5Z"/><path d="M67.6 592.3L70.4 589.5L73.2 592.3L70.4 595.1Z"/><path d="M61.1 598.5L63.9 595.7L66.7 598.5L63.9 601.3Z"/><path d="M54.9 606L57.7 603.2L60.5 606L57.7 608.8Z"/><path d="M61.1 606.7L63.9 603.9L66.7 606.7L63.9 609.5Z"/><path d="M67.6 606.3L70.4 603.5L73.2 606.3L70.4 609.1Z"/><path d="M74.2 605.5L77 602.7L79.8 605.5L77 608.3Z"/><path d="M117.9 547.8L120.7 545L123.5 547.8L120.7 550.6Z"/><path d="M117.9 568.7L120.7 565.9L123.5 568.7L120.7 571.5Z"/><path d="M130.7 589L133.5 586.2L136.3 589L133.5 591.8Z"/><path d="M111.4 591.1L114.2 588.3L117 591.1L114.2 593.9Z"/><path d="M117.9 593.3L120.7 590.5L123.5 593.3L120.7 596.1Z"/><path d="M124.2 592.3L127 589.5L129.8 592.3L127 595.1Z"/><path d="M104.6 597.7L107.4 594.9L110.2 597.7L107.4 600.5Z"/><path d="M124.2 598.3L127 595.5L129.8 598.3L127 601.1Z"/><path d="M101.1 603.2L103.9 600.4L106.7 603.2L103.9 606Z"/><path d="M111.4 602.6L114.2 599.8L117 602.6L114.2 605.4Z"/><path d="M117.9 602L120.7 599.2L123.5 602L120.7 604.8Z"/><path d="M124.2 602.8L127 600L129.8 602.8L127 605.6Z"/><path d="M133.8 603.5L136.6 600.7L139.4 603.5L136.6 606.3Z"/><path d="M104.6 606.3L107.4 603.5L110.2 606.3L107.4 609.1Z"/><path d="M111.4 606.3L114.2 603.5L117 606.3L114.2 609.1Z"/><path d="M117.9 606.3L120.7 603.5L123.5 606.3L120.7 609.1Z"/><path d="M124.2 606.3L127 603.5L129.8 606.3L127 609.1Z"/><path d="M130.7 606.3L133.5 603.5L136.3 606.3L133.5 609.1Z"/><path d="M108.1 600.8L110.9 598L113.7 600.8L110.9 603.6Z"/><path d="M114.5 600.1L117.3 597.3L120.1 600.1L117.3 602.9Z"/><path d="M127.2 600L130 597.2L132.8 600L130 602.8Z"/><path d="M167.9 593.9L170.7 591.1L173.5 593.9L170.7 596.7Z"/><path d="M174.5 599.4L177.3 596.6L180.1 599.4L177.3 602.2Z"/><path d="M161.2 606.5L164 603.7L166.8 606.5L164 609.3Z"/><path d="M165.7 607L168.5 604.2L171.3 607L168.5 609.8Z"/><path d="M170.2 606.5L173 603.7L175.8 606.5L173 609.3Z"/><path d="M174.5 607L177.3 604.2L180.1 607L177.3 609.8Z"/><path d="M179.2 606.5L182 603.7L184.8 606.5L182 609.3Z"/><path d="M183.7 607L186.5 604.2L189.3 607L186.5 609.8Z"/><path d="M187.7 606.5L190.5 603.7L193.3 606.5L190.5 609.3Z"/></g>
<g stroke="#000" stroke-width="1.5"><line x1="45.2" y1="565.8" x2="82.8" y2="565.8"/><line x1="101.8" y1="597.9" x2="139" y2="597.9"/><line x1="158.8" y1="604.8" x2="195.9" y2="604.8"/></g>
<path d="M69.7 445.4 Q69.7 439.2 75.5 439.2 L116.6 439.2 Q122.4 439.2 122.4 445.4" fill="none" stroke="#000" stroke-width="1.4"/>
<text x="79.6" y="434" font-size="8.6"><tspan font-style="italic">P</tspan> &lt; .05</text>
<text x="53.8" y="625.9" font-size="8.6">CMV</text><text x="108.3" y="625.5" font-size="8.6">EBV</text><text x="167.7" y="626" font-size="8.6">FLU</text>
<text x="117" y="644.5" font-size="8.6" font-weight="bold">PB</text>
<text transform="translate(16 609.5) rotate(-90)" font-size="9.0">%tetrameer<tspan font-size="5.6" dy="-3.2">+</tspan><tspan dy="3.2" xml:space="preserve">  in CD8</tspan></text>
<line x1="12.5" y1="435.7" x2="12.5" y2="513.6" stroke="#000" stroke-width="1.2"/>
<line x1="243" y1="437.9" x2="243" y2="608.2" stroke="#000" stroke-width="1.7"/>
<line x1="239.1" y1="608.2" x2="243" y2="608.2" stroke="#000" stroke-width="1.4"/>
<text x="231.2" y="610.3" font-size="8.6" text-anchor="end">0</text>
<line x1="239.1" y1="565.8" x2="243" y2="565.8" stroke="#000" stroke-width="1.4"/>
<text x="231.2" y="567.9" font-size="8.6" text-anchor="end">1</text>
<line x1="239.1" y1="523.4" x2="243" y2="523.4" stroke="#000" stroke-width="1.4"/>
<text x="231.2" y="525.5" font-size="8.6" text-anchor="end">2</text>
<line x1="239.1" y1="481" x2="243" y2="481" stroke="#000" stroke-width="1.4"/>
<text x="231.2" y="483.1" font-size="8.6" text-anchor="end">3</text>
<line x1="239.1" y1="438.6" x2="243" y2="438.6" stroke="#000" stroke-width="1.4"/>
<text x="231.2" y="440.7" font-size="8.6" text-anchor="end">4</text>
<line x1="243" y1="608.2" x2="413.5" y2="608.2" stroke="#000" stroke-width="1.5"/>
<line x1="271.3" y1="608.2" x2="271.3" y2="611.7" stroke="#000" stroke-width="1.3"/>
<line x1="327.9" y1="608.2" x2="327.9" y2="611.7" stroke="#000" stroke-width="1.3"/>
<line x1="384.4" y1="608.2" x2="384.4" y2="611.7" stroke="#000" stroke-width="1.3"/>
<g fill="#000"><path d="M268.6 562.1L271.4 559.3L274.2 562.1L271.4 564.9Z"/><path d="M268.6 573.1L271.4 570.3L274.2 573.1L271.4 575.9Z"/><path d="M262 582.5L264.8 579.7L267.6 582.5L264.8 585.3Z"/><path d="M268.6 586L271.4 583.2L274.2 586L271.4 588.8Z"/><path d="M252.2 603.1L255 600.3L257.8 603.1L255 605.9Z"/><path d="M259.1 603.1L261.9 600.3L264.7 603.1L261.9 605.9Z"/><path d="M270.1 603.1L272.9 600.3L275.7 603.1L272.9 605.9Z"/><path d="M278.2 603.1L281 600.3L283.8 603.1L281 605.9Z"/><path d="M285.1 603.1L287.9 600.3L290.7 603.1L287.9 605.9Z"/><path d="M255.7 607.3L258.5 604.5L261.3 607.3L258.5 610.1Z"/><path d="M262 607.3L264.8 604.5L267.6 607.3L264.8 610.1Z"/><path d="M268.4 607.3L271.2 604.5L274 607.3L271.2 610.1Z"/><path d="M274.1 607.3L276.9 604.5L279.7 607.3L276.9 610.1Z"/><path d="M281 607.3L283.8 604.5L286.6 607.3L283.8 610.1Z"/><path d="M325.4 459.9L328.2 457.1L331 459.9L328.2 462.7Z"/><path d="M325.4 496.5L328.2 493.7L331 496.5L328.2 499.3Z"/><path d="M325.1 575.6L327.9 572.8L330.7 575.6L327.9 578.4Z"/><path d="M331.8 574.8L334.6 572L337.4 574.8L334.6 577.6Z"/><path d="M331.8 579.8L334.6 577L337.4 579.8L334.6 582.6Z"/><path d="M318.5 583.7L321.3 580.9L324.1 583.7L321.3 586.5Z"/><path d="M325.1 584.6L327.9 581.8L330.7 584.6L327.9 587.4Z"/><path d="M312 586.7L314.8 583.9L317.6 586.7L314.8 589.5Z"/><path d="M338.2 587.8L341 585L343.8 587.8L341 590.6Z"/><path d="M312 593.3L314.8 590.5L317.6 593.3L314.8 596.1Z"/><path d="M318.5 591L321.3 588.2L324.1 591L321.3 593.8Z"/><path d="M325.1 592.5L327.9 589.7L330.7 592.5L327.9 595.3Z"/><path d="M331.8 592.5L334.6 589.7L337.4 592.5L334.6 595.3Z"/><path d="M318.5 597.3L321.3 594.5L324.1 597.3L321.3 600.1Z"/><path d="M331.8 596.7L334.6 593.9L337.4 596.7L334.6 599.5Z"/><path d="M325.1 599.6L327.9 596.8L330.7 599.6L327.9 602.4Z"/><path d="M322 602.5L324.8 599.7L327.6 602.5L324.8 605.3Z"/><path d="M312 604.2L314.8 601.4L317.6 604.2L314.8 607Z"/><path d="M328.6 604L331.4 601.2L334.2 604L331.4 606.8Z"/><path d="M338.2 604.8L341 602L343.8 604.8L341 607.6Z"/><path d="M318.5 606.5L321.3 603.7L324.1 606.5L321.3 609.3Z"/><path d="M325.1 607.3L327.9 604.5L330.7 607.3L327.9 610.1Z"/><path d="M331.8 607.1L334.6 604.3L337.4 607.1L334.6 609.9Z"/><path d="M375.2 597L378 594.2L380.8 597L378 599.8Z"/><path d="M381.6 597.9L384.4 595.1L387.2 597.9L384.4 600.7Z"/><path d="M378.7 602.8L381.5 600L384.3 602.8L381.5 605.6Z"/><path d="M368.8 606.3L371.6 603.5L374.4 606.3L371.6 609.1Z"/><path d="M375.2 606.3L378 603.5L380.8 606.3L378 609.1Z"/><path d="M381.6 606.3L384.4 603.5L387.2 606.3L384.4 609.1Z"/><path d="M388 606.3L390.8 603.5L393.6 606.3L390.8 609.1Z"/><path d="M394.4 606.3L397.2 603.5L400 606.3L397.2 609.1Z"/></g>
<g stroke="#000" stroke-width="1.5"><line x1="252.7" y1="597.9" x2="290.8" y2="597.9"/><line x1="309.5" y1="583.7" x2="347.3" y2="583.7"/><line x1="366.4" y1="604.7" x2="403.6" y2="604.7"/></g>
<path d="M281.5 445.4 Q281.5 438.8 287.5 438.8 L328.6 438.8 Q334.6 438.8 334.6 445.8" fill="none" stroke="#000" stroke-width="1.4"/>
<text x="292.3" y="433.2" font-size="8.6"><tspan font-style="italic">P</tspan> &lt; .05</text>
<text x="261.5" y="625.8" font-size="8.6">CMV</text><text x="320.3" y="625.8" font-size="8.6">EBV</text><text x="375.7" y="625.8" font-size="8.6">FLU</text>
<text x="322.4" y="644.3" font-size="8.6" font-weight="bold">LN</text>
</svg></body></html>
